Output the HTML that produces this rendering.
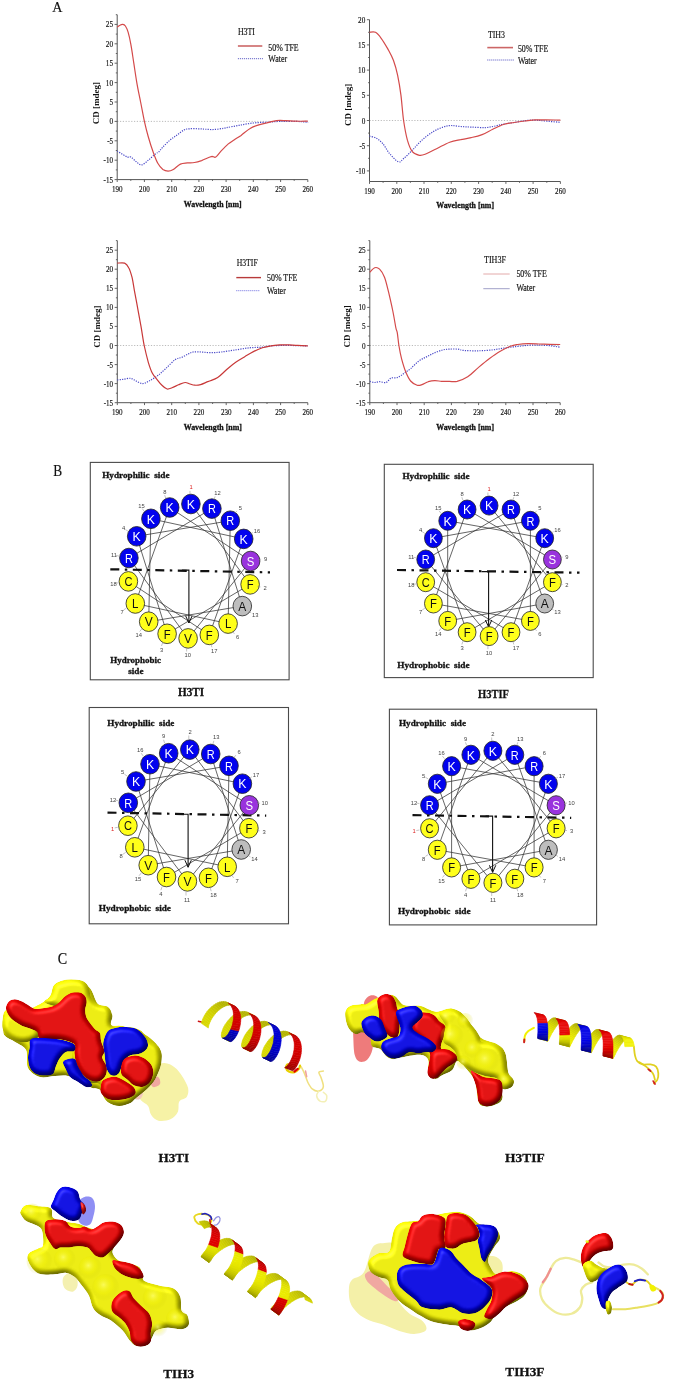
<!DOCTYPE html>
<html><head><meta charset="utf-8"><title>Figure</title>
<style>html,body{margin:0;padding:0;background:#fff;}svg{display:block;filter:blur(0.45px);}</style></head>
<body><svg width="675" height="1379" viewBox="0 0 675 1379">
<rect width="675" height="1379" fill="#fff"/>
<g font-family="'Liberation Serif','Times New Roman',serif">
<text x="52.3" y="11.8" font-size="15.0" text-anchor="start" font-weight="normal" fill="#111" textLength="10.2" lengthAdjust="spacingAndGlyphs" stroke="#111" stroke-width="0.18">A</text>
<line x1="117.2" y1="121.4" x2="307.8" y2="121.4" stroke="#aaa" stroke-width="0.8" stroke-dasharray="1.2 1.6"/>
<path d="M117.2,14.7 V179.6 H307.8" fill="none" stroke="#555" stroke-width="1"/>
<line x1="114.6" y1="179.6" x2="117.2" y2="179.6" stroke="#555" stroke-width="0.9"/>
<text x="113.0" y="182.6" font-size="8.8" text-anchor="end" font-weight="normal" fill="#151515" textLength="9.4" lengthAdjust="spacingAndGlyphs" stroke="#151515" stroke-width="0.18">-15</text>
<line x1="115.8" y1="169.9" x2="117.2" y2="169.9" stroke="#555" stroke-width="0.9"/>
<line x1="114.6" y1="160.2" x2="117.2" y2="160.2" stroke="#555" stroke-width="0.9"/>
<text x="113.0" y="163.2" font-size="8.8" text-anchor="end" font-weight="normal" fill="#151515" textLength="9.4" lengthAdjust="spacingAndGlyphs" stroke="#151515" stroke-width="0.18">-10</text>
<line x1="115.8" y1="150.5" x2="117.2" y2="150.5" stroke="#555" stroke-width="0.9"/>
<line x1="114.6" y1="140.8" x2="117.2" y2="140.8" stroke="#555" stroke-width="0.9"/>
<text x="113.0" y="143.8" font-size="8.8" text-anchor="end" font-weight="normal" fill="#151515" textLength="5.8" lengthAdjust="spacingAndGlyphs" stroke="#151515" stroke-width="0.18">-5</text>
<line x1="115.8" y1="131.1" x2="117.2" y2="131.1" stroke="#555" stroke-width="0.9"/>
<line x1="114.6" y1="121.4" x2="117.2" y2="121.4" stroke="#555" stroke-width="0.9"/>
<text x="113.0" y="124.4" font-size="8.8" text-anchor="end" font-weight="normal" fill="#151515" textLength="3.6" lengthAdjust="spacingAndGlyphs" stroke="#151515" stroke-width="0.18">0</text>
<line x1="115.8" y1="111.7" x2="117.2" y2="111.7" stroke="#555" stroke-width="0.9"/>
<line x1="114.6" y1="102.0" x2="117.2" y2="102.0" stroke="#555" stroke-width="0.9"/>
<text x="113.0" y="105.0" font-size="8.8" text-anchor="end" font-weight="normal" fill="#151515" textLength="3.6" lengthAdjust="spacingAndGlyphs" stroke="#151515" stroke-width="0.18">5</text>
<line x1="115.8" y1="92.3" x2="117.2" y2="92.3" stroke="#555" stroke-width="0.9"/>
<line x1="114.6" y1="82.6" x2="117.2" y2="82.6" stroke="#555" stroke-width="0.9"/>
<text x="113.0" y="85.6" font-size="8.8" text-anchor="end" font-weight="normal" fill="#151515" textLength="7.2" lengthAdjust="spacingAndGlyphs" stroke="#151515" stroke-width="0.18">10</text>
<line x1="115.8" y1="72.9" x2="117.2" y2="72.9" stroke="#555" stroke-width="0.9"/>
<line x1="114.6" y1="63.2" x2="117.2" y2="63.2" stroke="#555" stroke-width="0.9"/>
<text x="113.0" y="66.2" font-size="8.8" text-anchor="end" font-weight="normal" fill="#151515" textLength="7.2" lengthAdjust="spacingAndGlyphs" stroke="#151515" stroke-width="0.18">15</text>
<line x1="115.8" y1="53.5" x2="117.2" y2="53.5" stroke="#555" stroke-width="0.9"/>
<line x1="114.6" y1="43.8" x2="117.2" y2="43.8" stroke="#555" stroke-width="0.9"/>
<text x="113.0" y="46.8" font-size="8.8" text-anchor="end" font-weight="normal" fill="#151515" textLength="7.2" lengthAdjust="spacingAndGlyphs" stroke="#151515" stroke-width="0.18">20</text>
<line x1="115.8" y1="34.1" x2="117.2" y2="34.1" stroke="#555" stroke-width="0.9"/>
<line x1="114.6" y1="24.4" x2="117.2" y2="24.4" stroke="#555" stroke-width="0.9"/>
<text x="113.0" y="27.4" font-size="8.8" text-anchor="end" font-weight="normal" fill="#151515" textLength="7.2" lengthAdjust="spacingAndGlyphs" stroke="#151515" stroke-width="0.18">25</text>
<line x1="115.8" y1="14.7" x2="117.2" y2="14.7" stroke="#555" stroke-width="0.9"/>
<line x1="117.2" y1="179.6" x2="117.2" y2="182.0" stroke="#555" stroke-width="0.9"/>
<text x="117.2" y="191.6" font-size="8.8" text-anchor="middle" font-weight="normal" fill="#151515" textLength="10.6" lengthAdjust="spacingAndGlyphs" stroke="#151515" stroke-width="0.18">190</text>
<line x1="130.8" y1="179.6" x2="130.8" y2="180.9" stroke="#555" stroke-width="0.9"/>
<line x1="144.4" y1="179.6" x2="144.4" y2="182.0" stroke="#555" stroke-width="0.9"/>
<text x="144.4" y="191.6" font-size="8.8" text-anchor="middle" font-weight="normal" fill="#151515" textLength="10.6" lengthAdjust="spacingAndGlyphs" stroke="#151515" stroke-width="0.18">200</text>
<line x1="158.0" y1="179.6" x2="158.0" y2="180.9" stroke="#555" stroke-width="0.9"/>
<line x1="171.7" y1="179.6" x2="171.7" y2="182.0" stroke="#555" stroke-width="0.9"/>
<text x="171.7" y="191.6" font-size="8.8" text-anchor="middle" font-weight="normal" fill="#151515" textLength="10.6" lengthAdjust="spacingAndGlyphs" stroke="#151515" stroke-width="0.18">210</text>
<line x1="185.3" y1="179.6" x2="185.3" y2="180.9" stroke="#555" stroke-width="0.9"/>
<line x1="198.9" y1="179.6" x2="198.9" y2="182.0" stroke="#555" stroke-width="0.9"/>
<text x="198.9" y="191.6" font-size="8.8" text-anchor="middle" font-weight="normal" fill="#151515" textLength="10.6" lengthAdjust="spacingAndGlyphs" stroke="#151515" stroke-width="0.18">220</text>
<line x1="212.5" y1="179.6" x2="212.5" y2="180.9" stroke="#555" stroke-width="0.9"/>
<line x1="226.1" y1="179.6" x2="226.1" y2="182.0" stroke="#555" stroke-width="0.9"/>
<text x="226.1" y="191.6" font-size="8.8" text-anchor="middle" font-weight="normal" fill="#151515" textLength="10.6" lengthAdjust="spacingAndGlyphs" stroke="#151515" stroke-width="0.18">230</text>
<line x1="239.7" y1="179.6" x2="239.7" y2="180.9" stroke="#555" stroke-width="0.9"/>
<line x1="253.3" y1="179.6" x2="253.3" y2="182.0" stroke="#555" stroke-width="0.9"/>
<text x="253.3" y="191.6" font-size="8.8" text-anchor="middle" font-weight="normal" fill="#151515" textLength="10.6" lengthAdjust="spacingAndGlyphs" stroke="#151515" stroke-width="0.18">240</text>
<line x1="267.0" y1="179.6" x2="267.0" y2="180.9" stroke="#555" stroke-width="0.9"/>
<line x1="280.6" y1="179.6" x2="280.6" y2="182.0" stroke="#555" stroke-width="0.9"/>
<text x="280.6" y="191.6" font-size="8.8" text-anchor="middle" font-weight="normal" fill="#151515" textLength="10.6" lengthAdjust="spacingAndGlyphs" stroke="#151515" stroke-width="0.18">250</text>
<line x1="294.2" y1="179.6" x2="294.2" y2="180.9" stroke="#555" stroke-width="0.9"/>
<line x1="307.8" y1="179.6" x2="307.8" y2="182.0" stroke="#555" stroke-width="0.9"/>
<text x="307.8" y="191.6" font-size="8.8" text-anchor="middle" font-weight="normal" fill="#151515" textLength="10.6" lengthAdjust="spacingAndGlyphs" stroke="#151515" stroke-width="0.18">260</text>
<text x="183.8" y="207.2" font-size="9.0" text-anchor="start" font-weight="bold" fill="#111" textLength="57.8" lengthAdjust="spacingAndGlyphs" stroke="#111" stroke-width="0.3">Wavelength [nm]</text>
<text transform="translate(98.6,103.2) rotate(-90)" font-size="9" font-weight="bold" text-anchor="middle" fill="#111">CD [mdeg]</text>
<path d="M117.2,150.9 C118.1,151.5 120.9,153.3 122.6,154.4 C124.4,155.4 126.1,156.6 127.5,157.1 C129.0,157.5 129.6,156.3 131.1,157.1 C132.5,157.9 134.5,160.5 136.3,161.8 C138.0,163.0 139.6,165.2 141.7,164.9 C143.8,164.5 146.4,161.7 148.8,159.8 C151.1,157.9 154.2,154.9 155.9,153.6 C157.5,152.3 157.4,153.2 158.6,152.1 C159.8,151.0 161.0,149.0 162.9,147.0 C164.9,145.0 167.7,142.0 170.0,140.0 C172.4,138.0 174.7,136.7 177.1,135.0 C179.5,133.3 182.1,131.0 184.2,129.9 C186.2,128.9 187.0,129.0 189.4,128.8 C191.7,128.6 195.7,128.7 198.3,128.8 C201.0,128.8 202.8,129.0 205.4,129.2 C208.1,129.3 211.2,129.7 214.1,129.5 C217.1,129.4 221.0,128.7 223.1,128.4 C225.3,128.1 224.3,128.1 226.9,127.6 C229.6,127.1 234.8,126.1 239.2,125.3 C243.6,124.5 248.6,123.5 253.3,123.0 C258.1,122.4 263.3,122.4 267.8,122.2 C272.2,121.9 275.3,121.5 280.0,121.4 C284.7,121.3 291.6,121.3 296.1,121.4 C300.5,121.5 304.8,122.0 306.7,122.2 C308.7,122.3 307.6,122.2 307.8,122.2" fill="none" stroke="#4848c8" stroke-width="1.2" stroke-dasharray="1.2 1.2"/>
<path d="M117.2,27.1 C117.7,26.8 119.0,25.6 119.9,25.2 C120.9,24.7 122.0,24.3 122.9,24.4 C123.8,24.5 124.5,24.7 125.4,26.0 C126.2,27.2 127.2,29.1 128.1,32.2 C129.0,35.2 129.9,39.0 130.8,44.2 C131.8,49.4 132.8,56.8 133.8,63.2 C134.8,69.6 135.7,76.1 136.8,82.6 C137.9,89.1 139.3,95.5 140.6,102.0 C141.9,108.5 143.2,115.6 144.4,121.4 C145.7,127.2 146.7,131.3 148.2,136.5 C149.7,141.8 151.8,148.4 153.4,152.8 C155.0,157.3 156.2,160.5 157.8,163.3 C159.4,166.1 161.2,168.2 162.9,169.5 C164.7,170.8 166.4,171.1 168.1,171.1 C169.8,171.1 171.2,170.7 173.3,169.5 C175.3,168.3 178.0,165.2 180.4,164.1 C182.7,163.0 185.1,163.2 187.4,162.9 C189.8,162.7 192.2,162.9 194.5,162.5 C196.9,162.1 199.2,161.4 201.6,160.6 C204.0,159.7 206.9,158.2 208.7,157.5 C210.5,156.8 211.0,156.4 212.2,156.3 C213.4,156.3 214.3,158.0 215.8,157.1 C217.3,156.2 219.1,153.1 221.2,150.9 C223.3,148.7 226.2,145.7 228.3,143.9 C230.4,142.1 231.9,141.4 234.0,140.0 C236.1,138.6 238.4,137.3 241.1,135.4 C243.8,133.4 247.1,130.1 250.1,128.4 C253.0,126.6 255.8,125.9 258.8,124.9 C261.7,123.9 264.8,123.3 267.8,122.6 C270.7,121.9 273.5,120.9 276.5,120.6 C279.4,120.3 282.2,120.5 285.5,120.6 C288.7,120.7 292.4,121.1 296.1,121.2 C299.8,121.3 305.8,121.2 307.8,121.2" fill="none" stroke="#d44a4a" stroke-width="1.2"/>
<text x="237.9" y="35.0" font-size="9.5" text-anchor="start" font-weight="normal" fill="#151515" textLength="17.1" lengthAdjust="spacingAndGlyphs" stroke="#151515" stroke-width="0.18">H3TI</text>
<line x1="237.9" y1="46.0" x2="262.3" y2="46.0" stroke="#cc6666" stroke-width="1.6"/>
<line x1="237.9" y1="58.7" x2="263.9" y2="58.7" stroke="#5050c0" stroke-width="1" stroke-dasharray="1 1"/>
<text x="268.3" y="50.6" font-size="9.5" text-anchor="start" font-weight="normal" fill="#151515" textLength="30.4" lengthAdjust="spacingAndGlyphs" stroke="#151515" stroke-width="0.18">50% TFE</text>
<text x="268.3" y="62.4" font-size="9.5" text-anchor="start" font-weight="normal" fill="#151515" textLength="18.8" lengthAdjust="spacingAndGlyphs" stroke="#151515" stroke-width="0.18">Water</text>
<line x1="369.5" y1="120.5" x2="560.4" y2="120.5" stroke="#aaa" stroke-width="0.8" stroke-dasharray="1.2 1.6"/>
<path d="M369.5,19.7 V181.5 H560.4" fill="none" stroke="#555" stroke-width="1"/>
<line x1="366.9" y1="170.9" x2="369.5" y2="170.9" stroke="#555" stroke-width="0.9"/>
<text x="365.3" y="173.9" font-size="8.8" text-anchor="end" font-weight="normal" fill="#151515" textLength="9.4" lengthAdjust="spacingAndGlyphs" stroke="#151515" stroke-width="0.18">-10</text>
<line x1="368.1" y1="158.3" x2="369.5" y2="158.3" stroke="#555" stroke-width="0.9"/>
<line x1="366.9" y1="145.7" x2="369.5" y2="145.7" stroke="#555" stroke-width="0.9"/>
<text x="365.3" y="148.7" font-size="8.8" text-anchor="end" font-weight="normal" fill="#151515" textLength="5.8" lengthAdjust="spacingAndGlyphs" stroke="#151515" stroke-width="0.18">-5</text>
<line x1="368.1" y1="133.1" x2="369.5" y2="133.1" stroke="#555" stroke-width="0.9"/>
<line x1="366.9" y1="120.5" x2="369.5" y2="120.5" stroke="#555" stroke-width="0.9"/>
<text x="365.3" y="123.5" font-size="8.8" text-anchor="end" font-weight="normal" fill="#151515" textLength="3.6" lengthAdjust="spacingAndGlyphs" stroke="#151515" stroke-width="0.18">0</text>
<line x1="368.1" y1="107.9" x2="369.5" y2="107.9" stroke="#555" stroke-width="0.9"/>
<line x1="366.9" y1="95.3" x2="369.5" y2="95.3" stroke="#555" stroke-width="0.9"/>
<text x="365.3" y="98.3" font-size="8.8" text-anchor="end" font-weight="normal" fill="#151515" textLength="3.6" lengthAdjust="spacingAndGlyphs" stroke="#151515" stroke-width="0.18">5</text>
<line x1="368.1" y1="82.7" x2="369.5" y2="82.7" stroke="#555" stroke-width="0.9"/>
<line x1="366.9" y1="70.1" x2="369.5" y2="70.1" stroke="#555" stroke-width="0.9"/>
<text x="365.3" y="73.1" font-size="8.8" text-anchor="end" font-weight="normal" fill="#151515" textLength="7.2" lengthAdjust="spacingAndGlyphs" stroke="#151515" stroke-width="0.18">10</text>
<line x1="368.1" y1="57.5" x2="369.5" y2="57.5" stroke="#555" stroke-width="0.9"/>
<line x1="366.9" y1="44.9" x2="369.5" y2="44.9" stroke="#555" stroke-width="0.9"/>
<text x="365.3" y="47.9" font-size="8.8" text-anchor="end" font-weight="normal" fill="#151515" textLength="7.2" lengthAdjust="spacingAndGlyphs" stroke="#151515" stroke-width="0.18">15</text>
<line x1="368.1" y1="32.3" x2="369.5" y2="32.3" stroke="#555" stroke-width="0.9"/>
<line x1="366.9" y1="19.7" x2="369.5" y2="19.7" stroke="#555" stroke-width="0.9"/>
<text x="365.3" y="22.7" font-size="8.8" text-anchor="end" font-weight="normal" fill="#151515" textLength="7.2" lengthAdjust="spacingAndGlyphs" stroke="#151515" stroke-width="0.18">20</text>
<line x1="369.5" y1="181.5" x2="369.5" y2="183.9" stroke="#555" stroke-width="0.9"/>
<text x="369.5" y="193.5" font-size="8.8" text-anchor="middle" font-weight="normal" fill="#151515" textLength="10.6" lengthAdjust="spacingAndGlyphs" stroke="#151515" stroke-width="0.18">190</text>
<line x1="383.1" y1="181.5" x2="383.1" y2="182.8" stroke="#555" stroke-width="0.9"/>
<line x1="396.8" y1="181.5" x2="396.8" y2="183.9" stroke="#555" stroke-width="0.9"/>
<text x="396.8" y="193.5" font-size="8.8" text-anchor="middle" font-weight="normal" fill="#151515" textLength="10.6" lengthAdjust="spacingAndGlyphs" stroke="#151515" stroke-width="0.18">200</text>
<line x1="410.4" y1="181.5" x2="410.4" y2="182.8" stroke="#555" stroke-width="0.9"/>
<line x1="424.0" y1="181.5" x2="424.0" y2="183.9" stroke="#555" stroke-width="0.9"/>
<text x="424.0" y="193.5" font-size="8.8" text-anchor="middle" font-weight="normal" fill="#151515" textLength="10.6" lengthAdjust="spacingAndGlyphs" stroke="#151515" stroke-width="0.18">210</text>
<line x1="437.7" y1="181.5" x2="437.7" y2="182.8" stroke="#555" stroke-width="0.9"/>
<line x1="451.3" y1="181.5" x2="451.3" y2="183.9" stroke="#555" stroke-width="0.9"/>
<text x="451.3" y="193.5" font-size="8.8" text-anchor="middle" font-weight="normal" fill="#151515" textLength="10.6" lengthAdjust="spacingAndGlyphs" stroke="#151515" stroke-width="0.18">220</text>
<line x1="464.9" y1="181.5" x2="464.9" y2="182.8" stroke="#555" stroke-width="0.9"/>
<line x1="478.6" y1="181.5" x2="478.6" y2="183.9" stroke="#555" stroke-width="0.9"/>
<text x="478.6" y="193.5" font-size="8.8" text-anchor="middle" font-weight="normal" fill="#151515" textLength="10.6" lengthAdjust="spacingAndGlyphs" stroke="#151515" stroke-width="0.18">230</text>
<line x1="492.2" y1="181.5" x2="492.2" y2="182.8" stroke="#555" stroke-width="0.9"/>
<line x1="505.9" y1="181.5" x2="505.9" y2="183.9" stroke="#555" stroke-width="0.9"/>
<text x="505.9" y="193.5" font-size="8.8" text-anchor="middle" font-weight="normal" fill="#151515" textLength="10.6" lengthAdjust="spacingAndGlyphs" stroke="#151515" stroke-width="0.18">240</text>
<line x1="519.5" y1="181.5" x2="519.5" y2="182.8" stroke="#555" stroke-width="0.9"/>
<line x1="533.1" y1="181.5" x2="533.1" y2="183.9" stroke="#555" stroke-width="0.9"/>
<text x="533.1" y="193.5" font-size="8.8" text-anchor="middle" font-weight="normal" fill="#151515" textLength="10.6" lengthAdjust="spacingAndGlyphs" stroke="#151515" stroke-width="0.18">250</text>
<line x1="546.8" y1="181.5" x2="546.8" y2="182.8" stroke="#555" stroke-width="0.9"/>
<line x1="560.4" y1="181.5" x2="560.4" y2="183.9" stroke="#555" stroke-width="0.9"/>
<text x="560.4" y="193.5" font-size="8.8" text-anchor="middle" font-weight="normal" fill="#151515" textLength="10.6" lengthAdjust="spacingAndGlyphs" stroke="#151515" stroke-width="0.18">260</text>
<text x="436.3" y="207.6" font-size="9.0" text-anchor="start" font-weight="bold" fill="#111" textLength="57.7" lengthAdjust="spacingAndGlyphs" stroke="#111" stroke-width="0.3">Wavelength [nm]</text>
<text transform="translate(350.6,104.8) rotate(-90)" font-size="9" font-weight="bold" text-anchor="middle" fill="#111">CD [mdeg]</text>
<path d="M369.5,136.1 C370.6,136.5 374.1,136.9 376.3,138.1 C378.5,139.4 380.7,141.2 382.9,143.7 C385.0,146.2 386.8,150.2 389.4,153.3 C392.0,156.3 396.0,161.0 398.4,161.8 C400.8,162.7 401.5,160.2 403.9,158.3 C406.2,156.4 409.3,153.3 412.3,150.2 C415.3,147.2 418.4,143.3 421.9,140.2 C425.4,137.0 429.8,133.8 433.3,131.6 C436.9,129.4 440.1,128.1 443.1,127.1 C446.1,126.0 448.4,125.6 451.3,125.5 C454.2,125.5 457.3,126.3 460.6,126.5 C463.9,126.8 467.0,126.9 471.2,127.1 C475.4,127.2 481.5,127.8 485.7,127.6 C489.9,127.3 493.4,126.4 496.3,125.8 C499.3,125.2 500.4,124.6 503.4,124.0 C506.4,123.5 510.2,123.1 514.0,122.5 C517.9,121.9 522.8,120.9 526.6,120.5 C530.4,120.1 533.1,120.1 536.7,120.2 C540.2,120.4 543.9,120.9 547.9,121.3 C551.8,121.6 558.3,122.1 560.4,122.3" fill="none" stroke="#4848c8" stroke-width="1.2" stroke-dasharray="1.2 1.2"/>
<path d="M369.5,32.3 C370.5,32.3 373.5,31.3 375.5,32.3 C377.5,33.3 379.2,35.6 381.2,38.3 C383.3,41.1 385.7,45.2 387.8,48.9 C389.8,52.6 391.9,56.2 393.5,60.5 C395.1,64.9 396.4,69.4 397.6,75.1 C398.8,80.9 399.9,87.2 400.9,94.8 C401.9,102.4 402.5,112.9 403.6,120.5 C404.7,128.1 406.0,134.9 407.4,140.2 C408.9,145.4 410.3,149.2 412.3,151.7 C414.3,154.3 417.3,154.9 419.4,155.3 C421.5,155.7 422.3,155.4 425.1,154.3 C428.0,153.2 432.5,150.7 436.6,148.7 C440.7,146.7 445.7,143.7 449.7,142.2 C453.7,140.7 457.0,140.4 460.6,139.7 C464.2,138.9 467.6,138.5 471.2,137.6 C474.8,136.8 478.5,136.0 482.1,134.6 C485.7,133.2 489.2,131.0 492.8,129.3 C496.3,127.6 499.9,125.7 503.4,124.5 C506.9,123.4 510.4,123.1 514.0,122.5 C517.6,121.9 521.4,121.4 524.9,121.0 C528.5,120.6 531.8,120.1 535.3,119.9 C538.9,119.7 542.0,119.9 546.2,119.9 C550.4,119.9 558.0,120.1 560.4,120.1" fill="none" stroke="#d44a4a" stroke-width="1.2"/>
<text x="487.9" y="38.0" font-size="9.5" text-anchor="start" font-weight="normal" fill="#151515" textLength="17.1" lengthAdjust="spacingAndGlyphs" stroke="#151515" stroke-width="0.18">TIH3</text>
<line x1="487.3" y1="47.6" x2="513.0" y2="47.6" stroke="#cc6666" stroke-width="1.6"/>
<line x1="487.3" y1="60.0" x2="514.0" y2="60.0" stroke="#5050c0" stroke-width="1" stroke-dasharray="1 1"/>
<text x="517.9" y="52.0" font-size="9.5" text-anchor="start" font-weight="normal" fill="#151515" textLength="30.4" lengthAdjust="spacingAndGlyphs" stroke="#151515" stroke-width="0.18">50% TFE</text>
<text x="517.9" y="63.7" font-size="9.5" text-anchor="start" font-weight="normal" fill="#151515" textLength="18.8" lengthAdjust="spacingAndGlyphs" stroke="#151515" stroke-width="0.18">Water</text>
<line x1="117.3" y1="345.5" x2="307.8" y2="345.5" stroke="#aaa" stroke-width="0.8" stroke-dasharray="1.2 1.6"/>
<path d="M117.3,240.6 V402.7 H307.8" fill="none" stroke="#555" stroke-width="1"/>
<line x1="114.7" y1="402.7" x2="117.3" y2="402.7" stroke="#555" stroke-width="0.9"/>
<text x="113.1" y="405.7" font-size="8.8" text-anchor="end" font-weight="normal" fill="#151515" textLength="9.4" lengthAdjust="spacingAndGlyphs" stroke="#151515" stroke-width="0.18">-15</text>
<line x1="115.9" y1="393.2" x2="117.3" y2="393.2" stroke="#555" stroke-width="0.9"/>
<line x1="114.7" y1="383.6" x2="117.3" y2="383.6" stroke="#555" stroke-width="0.9"/>
<text x="113.1" y="386.6" font-size="8.8" text-anchor="end" font-weight="normal" fill="#151515" textLength="9.4" lengthAdjust="spacingAndGlyphs" stroke="#151515" stroke-width="0.18">-10</text>
<line x1="115.9" y1="374.1" x2="117.3" y2="374.1" stroke="#555" stroke-width="0.9"/>
<line x1="114.7" y1="364.6" x2="117.3" y2="364.6" stroke="#555" stroke-width="0.9"/>
<text x="113.1" y="367.6" font-size="8.8" text-anchor="end" font-weight="normal" fill="#151515" textLength="5.8" lengthAdjust="spacingAndGlyphs" stroke="#151515" stroke-width="0.18">-5</text>
<line x1="115.9" y1="355.0" x2="117.3" y2="355.0" stroke="#555" stroke-width="0.9"/>
<line x1="114.7" y1="345.5" x2="117.3" y2="345.5" stroke="#555" stroke-width="0.9"/>
<text x="113.1" y="348.5" font-size="8.8" text-anchor="end" font-weight="normal" fill="#151515" textLength="3.6" lengthAdjust="spacingAndGlyphs" stroke="#151515" stroke-width="0.18">0</text>
<line x1="115.9" y1="336.0" x2="117.3" y2="336.0" stroke="#555" stroke-width="0.9"/>
<line x1="114.7" y1="326.4" x2="117.3" y2="326.4" stroke="#555" stroke-width="0.9"/>
<text x="113.1" y="329.4" font-size="8.8" text-anchor="end" font-weight="normal" fill="#151515" textLength="3.6" lengthAdjust="spacingAndGlyphs" stroke="#151515" stroke-width="0.18">5</text>
<line x1="115.9" y1="316.9" x2="117.3" y2="316.9" stroke="#555" stroke-width="0.9"/>
<line x1="114.7" y1="307.4" x2="117.3" y2="307.4" stroke="#555" stroke-width="0.9"/>
<text x="113.1" y="310.4" font-size="8.8" text-anchor="end" font-weight="normal" fill="#151515" textLength="7.2" lengthAdjust="spacingAndGlyphs" stroke="#151515" stroke-width="0.18">10</text>
<line x1="115.9" y1="297.8" x2="117.3" y2="297.8" stroke="#555" stroke-width="0.9"/>
<line x1="114.7" y1="288.3" x2="117.3" y2="288.3" stroke="#555" stroke-width="0.9"/>
<text x="113.1" y="291.3" font-size="8.8" text-anchor="end" font-weight="normal" fill="#151515" textLength="7.2" lengthAdjust="spacingAndGlyphs" stroke="#151515" stroke-width="0.18">15</text>
<line x1="115.9" y1="278.8" x2="117.3" y2="278.8" stroke="#555" stroke-width="0.9"/>
<line x1="114.7" y1="269.2" x2="117.3" y2="269.2" stroke="#555" stroke-width="0.9"/>
<text x="113.1" y="272.2" font-size="8.8" text-anchor="end" font-weight="normal" fill="#151515" textLength="7.2" lengthAdjust="spacingAndGlyphs" stroke="#151515" stroke-width="0.18">20</text>
<line x1="115.9" y1="259.7" x2="117.3" y2="259.7" stroke="#555" stroke-width="0.9"/>
<line x1="114.7" y1="250.2" x2="117.3" y2="250.2" stroke="#555" stroke-width="0.9"/>
<text x="113.1" y="253.2" font-size="8.8" text-anchor="end" font-weight="normal" fill="#151515" textLength="7.2" lengthAdjust="spacingAndGlyphs" stroke="#151515" stroke-width="0.18">25</text>
<line x1="115.9" y1="240.6" x2="117.3" y2="240.6" stroke="#555" stroke-width="0.9"/>
<line x1="117.3" y1="402.7" x2="117.3" y2="405.1" stroke="#555" stroke-width="0.9"/>
<text x="117.3" y="414.7" font-size="8.8" text-anchor="middle" font-weight="normal" fill="#151515" textLength="10.6" lengthAdjust="spacingAndGlyphs" stroke="#151515" stroke-width="0.18">190</text>
<line x1="130.9" y1="402.7" x2="130.9" y2="404.0" stroke="#555" stroke-width="0.9"/>
<line x1="144.5" y1="402.7" x2="144.5" y2="405.1" stroke="#555" stroke-width="0.9"/>
<text x="144.5" y="414.7" font-size="8.8" text-anchor="middle" font-weight="normal" fill="#151515" textLength="10.6" lengthAdjust="spacingAndGlyphs" stroke="#151515" stroke-width="0.18">200</text>
<line x1="158.1" y1="402.7" x2="158.1" y2="404.0" stroke="#555" stroke-width="0.9"/>
<line x1="171.7" y1="402.7" x2="171.7" y2="405.1" stroke="#555" stroke-width="0.9"/>
<text x="171.7" y="414.7" font-size="8.8" text-anchor="middle" font-weight="normal" fill="#151515" textLength="10.6" lengthAdjust="spacingAndGlyphs" stroke="#151515" stroke-width="0.18">210</text>
<line x1="185.3" y1="402.7" x2="185.3" y2="404.0" stroke="#555" stroke-width="0.9"/>
<line x1="198.9" y1="402.7" x2="198.9" y2="405.1" stroke="#555" stroke-width="0.9"/>
<text x="198.9" y="414.7" font-size="8.8" text-anchor="middle" font-weight="normal" fill="#151515" textLength="10.6" lengthAdjust="spacingAndGlyphs" stroke="#151515" stroke-width="0.18">220</text>
<line x1="212.6" y1="402.7" x2="212.6" y2="404.0" stroke="#555" stroke-width="0.9"/>
<line x1="226.2" y1="402.7" x2="226.2" y2="405.1" stroke="#555" stroke-width="0.9"/>
<text x="226.2" y="414.7" font-size="8.8" text-anchor="middle" font-weight="normal" fill="#151515" textLength="10.6" lengthAdjust="spacingAndGlyphs" stroke="#151515" stroke-width="0.18">230</text>
<line x1="239.8" y1="402.7" x2="239.8" y2="404.0" stroke="#555" stroke-width="0.9"/>
<line x1="253.4" y1="402.7" x2="253.4" y2="405.1" stroke="#555" stroke-width="0.9"/>
<text x="253.4" y="414.7" font-size="8.8" text-anchor="middle" font-weight="normal" fill="#151515" textLength="10.6" lengthAdjust="spacingAndGlyphs" stroke="#151515" stroke-width="0.18">240</text>
<line x1="267.0" y1="402.7" x2="267.0" y2="404.0" stroke="#555" stroke-width="0.9"/>
<line x1="280.6" y1="402.7" x2="280.6" y2="405.1" stroke="#555" stroke-width="0.9"/>
<text x="280.6" y="414.7" font-size="8.8" text-anchor="middle" font-weight="normal" fill="#151515" textLength="10.6" lengthAdjust="spacingAndGlyphs" stroke="#151515" stroke-width="0.18">250</text>
<line x1="294.2" y1="402.7" x2="294.2" y2="404.0" stroke="#555" stroke-width="0.9"/>
<line x1="307.8" y1="402.7" x2="307.8" y2="405.1" stroke="#555" stroke-width="0.9"/>
<text x="307.8" y="414.7" font-size="8.8" text-anchor="middle" font-weight="normal" fill="#151515" textLength="10.6" lengthAdjust="spacingAndGlyphs" stroke="#151515" stroke-width="0.18">260</text>
<text x="183.7" y="430.3" font-size="9.0" text-anchor="start" font-weight="bold" fill="#111" textLength="58.2" lengthAdjust="spacingAndGlyphs" stroke="#111" stroke-width="0.3">Wavelength [nm]</text>
<text transform="translate(99.6,326.5) rotate(-90)" font-size="9" font-weight="bold" text-anchor="middle" fill="#111">CD [mdeg]</text>
<path d="M117.3,379.8 C118.3,379.8 120.8,379.7 123.0,379.4 C125.2,379.2 128.2,378.0 130.4,378.3 C132.5,378.6 134.0,380.1 136.1,381.0 C138.1,381.9 140.4,383.6 142.6,383.6 C144.8,383.6 146.7,382.2 149.1,381.0 C151.6,379.7 154.6,378.0 157.3,376.0 C160.0,374.0 162.5,371.5 165.5,368.8 C168.5,366.0 172.5,361.5 175.3,359.6 C178.0,357.7 179.6,358.3 181.8,357.3 C184.0,356.4 186.4,354.8 188.3,353.9 C190.2,353.0 191.1,352.3 193.2,352.0 C195.4,351.7 198.5,351.9 201.4,352.0 C204.3,352.1 207.3,352.7 210.6,352.7 C214.0,352.7 217.1,352.5 221.3,352.0 C225.4,351.5 230.9,350.6 235.7,349.9 C240.4,349.2 245.4,348.2 249.8,347.8 C254.3,347.3 258.8,347.5 262.4,347.2 C265.9,346.9 268.1,346.2 271.1,345.9 C274.0,345.6 276.6,345.6 280.0,345.5 C283.5,345.4 287.1,345.4 291.7,345.5 C296.4,345.6 305.1,345.8 307.8,345.9" fill="none" stroke="#4848c8" stroke-width="1.2" stroke-dasharray="1.2 1.2"/>
<path d="M117.3,263.1 C118.5,263.1 122.7,262.4 124.6,263.1 C126.6,263.9 127.5,265.3 128.7,267.7 C130.0,270.0 131.0,273.4 132.0,277.2 C132.9,281.0 133.5,285.4 134.4,290.6 C135.4,295.8 136.6,302.3 137.7,308.3 C138.8,314.3 139.9,320.2 141.0,326.4 C142.1,332.6 143.0,339.5 144.2,345.5 C145.5,351.5 147.0,357.6 148.3,362.3 C149.7,366.9 150.9,370.4 152.4,373.3 C153.9,376.3 155.7,377.8 157.3,379.8 C158.9,381.9 160.6,384.0 162.2,385.5 C163.8,387.1 165.5,388.6 167.1,389.0 C168.7,389.4 170.1,388.5 172.0,387.8 C173.9,387.1 176.4,385.7 178.5,384.8 C180.7,383.9 183.2,382.6 185.1,382.5 C187.0,382.4 188.3,383.6 190.0,384.0 C191.6,384.5 193.1,385.1 194.9,385.2 C196.6,385.3 198.3,385.2 200.6,384.6 C202.8,384.0 205.6,382.5 208.5,381.4 C211.3,380.2 214.7,379.5 217.7,377.5 C220.8,375.6 223.7,372.1 226.7,369.5 C229.7,367.0 232.7,364.4 235.7,362.3 C238.6,360.2 241.4,358.7 244.4,356.9 C247.3,355.2 250.4,353.1 253.4,351.6 C256.4,350.1 259.4,348.8 262.4,347.8 C265.3,346.8 268.1,346.3 271.1,345.8 C274.0,345.3 277.1,345.1 280.0,344.9 C283.0,344.8 285.8,344.9 288.8,344.9 C291.7,345.0 294.6,345.2 297.7,345.3 C300.9,345.5 306.1,345.8 307.8,345.9" fill="none" stroke="#c83838" stroke-width="1.2"/>
<text x="236.7" y="265.7" font-size="9.5" text-anchor="start" font-weight="normal" fill="#151515" textLength="21.0" lengthAdjust="spacingAndGlyphs" stroke="#151515" stroke-width="0.18">H3TIF</text>
<line x1="236.3" y1="277.6" x2="261.0" y2="277.6" stroke="#b83a3a" stroke-width="1.4"/>
<line x1="236.3" y1="290.7" x2="260.3" y2="290.7" stroke="#6a6ae0" stroke-width="1" stroke-dasharray="1 1"/>
<text x="267.0" y="281.0" font-size="9.5" text-anchor="start" font-weight="normal" fill="#151515" textLength="30.4" lengthAdjust="spacingAndGlyphs" stroke="#151515" stroke-width="0.18">50% TFE</text>
<text x="267.0" y="294.0" font-size="9.5" text-anchor="start" font-weight="normal" fill="#151515" textLength="18.8" lengthAdjust="spacingAndGlyphs" stroke="#151515" stroke-width="0.18">Water</text>
<line x1="369.8" y1="345.5" x2="560.2" y2="345.5" stroke="#aaa" stroke-width="0.8" stroke-dasharray="1.2 1.6"/>
<path d="M369.8,240.6 V402.7 H560.2" fill="none" stroke="#555" stroke-width="1"/>
<line x1="367.2" y1="402.7" x2="369.8" y2="402.7" stroke="#555" stroke-width="0.9"/>
<text x="365.6" y="405.7" font-size="8.8" text-anchor="end" font-weight="normal" fill="#151515" textLength="9.4" lengthAdjust="spacingAndGlyphs" stroke="#151515" stroke-width="0.18">-15</text>
<line x1="368.4" y1="393.2" x2="369.8" y2="393.2" stroke="#555" stroke-width="0.9"/>
<line x1="367.2" y1="383.6" x2="369.8" y2="383.6" stroke="#555" stroke-width="0.9"/>
<text x="365.6" y="386.6" font-size="8.8" text-anchor="end" font-weight="normal" fill="#151515" textLength="9.4" lengthAdjust="spacingAndGlyphs" stroke="#151515" stroke-width="0.18">-10</text>
<line x1="368.4" y1="374.1" x2="369.8" y2="374.1" stroke="#555" stroke-width="0.9"/>
<line x1="367.2" y1="364.6" x2="369.8" y2="364.6" stroke="#555" stroke-width="0.9"/>
<text x="365.6" y="367.6" font-size="8.8" text-anchor="end" font-weight="normal" fill="#151515" textLength="5.8" lengthAdjust="spacingAndGlyphs" stroke="#151515" stroke-width="0.18">-5</text>
<line x1="368.4" y1="355.0" x2="369.8" y2="355.0" stroke="#555" stroke-width="0.9"/>
<line x1="367.2" y1="345.5" x2="369.8" y2="345.5" stroke="#555" stroke-width="0.9"/>
<text x="365.6" y="348.5" font-size="8.8" text-anchor="end" font-weight="normal" fill="#151515" textLength="3.6" lengthAdjust="spacingAndGlyphs" stroke="#151515" stroke-width="0.18">0</text>
<line x1="368.4" y1="336.0" x2="369.8" y2="336.0" stroke="#555" stroke-width="0.9"/>
<line x1="367.2" y1="326.4" x2="369.8" y2="326.4" stroke="#555" stroke-width="0.9"/>
<text x="365.6" y="329.4" font-size="8.8" text-anchor="end" font-weight="normal" fill="#151515" textLength="3.6" lengthAdjust="spacingAndGlyphs" stroke="#151515" stroke-width="0.18">5</text>
<line x1="368.4" y1="316.9" x2="369.8" y2="316.9" stroke="#555" stroke-width="0.9"/>
<line x1="367.2" y1="307.4" x2="369.8" y2="307.4" stroke="#555" stroke-width="0.9"/>
<text x="365.6" y="310.4" font-size="8.8" text-anchor="end" font-weight="normal" fill="#151515" textLength="7.2" lengthAdjust="spacingAndGlyphs" stroke="#151515" stroke-width="0.18">10</text>
<line x1="368.4" y1="297.8" x2="369.8" y2="297.8" stroke="#555" stroke-width="0.9"/>
<line x1="367.2" y1="288.3" x2="369.8" y2="288.3" stroke="#555" stroke-width="0.9"/>
<text x="365.6" y="291.3" font-size="8.8" text-anchor="end" font-weight="normal" fill="#151515" textLength="7.2" lengthAdjust="spacingAndGlyphs" stroke="#151515" stroke-width="0.18">15</text>
<line x1="368.4" y1="278.8" x2="369.8" y2="278.8" stroke="#555" stroke-width="0.9"/>
<line x1="367.2" y1="269.2" x2="369.8" y2="269.2" stroke="#555" stroke-width="0.9"/>
<text x="365.6" y="272.2" font-size="8.8" text-anchor="end" font-weight="normal" fill="#151515" textLength="7.2" lengthAdjust="spacingAndGlyphs" stroke="#151515" stroke-width="0.18">20</text>
<line x1="368.4" y1="259.7" x2="369.8" y2="259.7" stroke="#555" stroke-width="0.9"/>
<line x1="367.2" y1="250.2" x2="369.8" y2="250.2" stroke="#555" stroke-width="0.9"/>
<text x="365.6" y="253.2" font-size="8.8" text-anchor="end" font-weight="normal" fill="#151515" textLength="7.2" lengthAdjust="spacingAndGlyphs" stroke="#151515" stroke-width="0.18">25</text>
<line x1="368.4" y1="240.6" x2="369.8" y2="240.6" stroke="#555" stroke-width="0.9"/>
<line x1="369.8" y1="402.7" x2="369.8" y2="405.1" stroke="#555" stroke-width="0.9"/>
<text x="369.8" y="414.7" font-size="8.8" text-anchor="middle" font-weight="normal" fill="#151515" textLength="10.6" lengthAdjust="spacingAndGlyphs" stroke="#151515" stroke-width="0.18">190</text>
<line x1="383.4" y1="402.7" x2="383.4" y2="404.0" stroke="#555" stroke-width="0.9"/>
<line x1="397.0" y1="402.7" x2="397.0" y2="405.1" stroke="#555" stroke-width="0.9"/>
<text x="397.0" y="414.7" font-size="8.8" text-anchor="middle" font-weight="normal" fill="#151515" textLength="10.6" lengthAdjust="spacingAndGlyphs" stroke="#151515" stroke-width="0.18">200</text>
<line x1="410.6" y1="402.7" x2="410.6" y2="404.0" stroke="#555" stroke-width="0.9"/>
<line x1="424.2" y1="402.7" x2="424.2" y2="405.1" stroke="#555" stroke-width="0.9"/>
<text x="424.2" y="414.7" font-size="8.8" text-anchor="middle" font-weight="normal" fill="#151515" textLength="10.6" lengthAdjust="spacingAndGlyphs" stroke="#151515" stroke-width="0.18">210</text>
<line x1="437.8" y1="402.7" x2="437.8" y2="404.0" stroke="#555" stroke-width="0.9"/>
<line x1="451.4" y1="402.7" x2="451.4" y2="405.1" stroke="#555" stroke-width="0.9"/>
<text x="451.4" y="414.7" font-size="8.8" text-anchor="middle" font-weight="normal" fill="#151515" textLength="10.6" lengthAdjust="spacingAndGlyphs" stroke="#151515" stroke-width="0.18">220</text>
<line x1="465.0" y1="402.7" x2="465.0" y2="404.0" stroke="#555" stroke-width="0.9"/>
<line x1="478.6" y1="402.7" x2="478.6" y2="405.1" stroke="#555" stroke-width="0.9"/>
<text x="478.6" y="414.7" font-size="8.8" text-anchor="middle" font-weight="normal" fill="#151515" textLength="10.6" lengthAdjust="spacingAndGlyphs" stroke="#151515" stroke-width="0.18">230</text>
<line x1="492.2" y1="402.7" x2="492.2" y2="404.0" stroke="#555" stroke-width="0.9"/>
<line x1="505.8" y1="402.7" x2="505.8" y2="405.1" stroke="#555" stroke-width="0.9"/>
<text x="505.8" y="414.7" font-size="8.8" text-anchor="middle" font-weight="normal" fill="#151515" textLength="10.6" lengthAdjust="spacingAndGlyphs" stroke="#151515" stroke-width="0.18">240</text>
<line x1="519.4" y1="402.7" x2="519.4" y2="404.0" stroke="#555" stroke-width="0.9"/>
<line x1="533.0" y1="402.7" x2="533.0" y2="405.1" stroke="#555" stroke-width="0.9"/>
<text x="533.0" y="414.7" font-size="8.8" text-anchor="middle" font-weight="normal" fill="#151515" textLength="10.6" lengthAdjust="spacingAndGlyphs" stroke="#151515" stroke-width="0.18">250</text>
<line x1="546.6" y1="402.7" x2="546.6" y2="404.0" stroke="#555" stroke-width="0.9"/>
<line x1="560.2" y1="402.7" x2="560.2" y2="405.1" stroke="#555" stroke-width="0.9"/>
<text x="560.2" y="414.7" font-size="8.8" text-anchor="middle" font-weight="normal" fill="#151515" textLength="10.6" lengthAdjust="spacingAndGlyphs" stroke="#151515" stroke-width="0.18">260</text>
<text x="436.3" y="430.3" font-size="9.0" text-anchor="start" font-weight="bold" fill="#111" textLength="57.7" lengthAdjust="spacingAndGlyphs" stroke="#111" stroke-width="0.3">Wavelength [nm]</text>
<text transform="translate(350.2,326.3) rotate(-90)" font-size="9" font-weight="bold" text-anchor="middle" fill="#111">CD [mdeg]</text>
<path d="M369.8,381.4 C370.6,381.5 373.1,382.4 374.7,382.5 C376.3,382.6 377.7,381.7 379.6,381.7 C381.5,381.7 384.2,383.1 386.1,382.5 C388.0,381.9 389.1,378.9 391.0,378.1 C392.9,377.3 395.4,378.3 397.5,377.5 C399.7,376.7 401.9,374.8 404.1,373.3 C406.2,371.8 408.2,370.6 410.6,368.6 C413.0,366.5 416.0,363.1 418.8,361.1 C421.5,359.1 424.2,358.0 426.9,356.6 C429.6,355.2 432.1,353.9 434.8,352.7 C437.5,351.6 440.5,350.5 443.0,349.9 C445.4,349.3 447.1,349.3 449.5,349.1 C451.9,349.0 454.9,348.9 457.4,349.1 C459.8,349.3 460.7,350.2 464.2,350.5 C467.7,350.7 473.6,350.9 478.3,350.8 C483.1,350.7 488.6,350.3 492.7,349.9 C496.9,349.4 499.8,348.7 503.4,348.2 C506.9,347.7 509.8,347.3 514.0,346.8 C518.1,346.4 524.0,345.6 528.1,345.3 C532.2,345.0 535.1,345.1 538.7,345.1 C542.3,345.2 546.0,345.3 549.6,345.7 C553.2,346.0 558.4,347.0 560.2,347.2" fill="none" stroke="#4848c8" stroke-width="1.2" stroke-dasharray="1.2 1.2"/>
<path d="M369.8,272.3 C370.6,271.5 373.1,268.2 374.7,267.7 C376.3,267.2 378.0,267.6 379.6,269.2 C381.2,270.8 383.0,273.4 384.5,277.2 C386.0,281.0 387.2,286.6 388.6,292.1 C389.9,297.6 391.4,304.1 392.6,310.0 C393.9,316.0 395.1,324.1 395.9,328.0 C396.7,331.8 396.8,330.0 397.3,332.9 C397.8,335.8 398.2,341.2 398.9,345.5 C399.6,349.8 400.5,354.5 401.6,358.8 C402.8,363.2 404.2,368.1 405.7,371.8 C407.2,375.5 408.7,378.7 410.6,381.0 C412.5,383.2 415.2,384.6 417.1,385.2 C419.0,385.8 420.2,385.2 422.0,384.6 C423.9,384.0 426.1,382.4 428.3,381.7 C430.4,381.1 432.6,380.7 434.8,380.6 C437.0,380.5 439.2,381.2 441.6,381.4 C444.1,381.5 446.9,381.4 449.5,381.4 C452.1,381.4 454.1,382.1 457.1,381.4 C460.1,380.6 464.2,379.1 467.7,376.8 C471.3,374.5 474.7,370.6 478.3,367.6 C481.9,364.6 485.6,361.5 489.2,358.8 C492.8,356.2 496.3,353.7 499.8,351.6 C503.4,349.5 507.5,347.4 510.4,346.3 C513.4,345.1 514.5,345.0 517.5,344.5 C520.4,344.1 524.6,343.7 528.1,343.6 C531.6,343.5 535.1,343.8 538.7,344.0 C542.3,344.1 546.0,344.3 549.6,344.4 C553.2,344.5 558.4,344.5 560.2,344.5" fill="none" stroke="#d44a4a" stroke-width="1.2"/>
<text x="484.0" y="262.7" font-size="9.5" text-anchor="start" font-weight="normal" fill="#151515" textLength="22.0" lengthAdjust="spacingAndGlyphs" stroke="#151515" stroke-width="0.18">TIH3F</text>
<line x1="483.3" y1="274.0" x2="509.7" y2="274.0" stroke="#e0a0a0" stroke-width="0.9"/>
<line x1="483.3" y1="288.7" x2="509.7" y2="288.7" stroke="#a0a0c8" stroke-width="1" stroke-dasharray="none"/>
<text x="516.4" y="277.3" font-size="9.5" text-anchor="start" font-weight="normal" fill="#151515" textLength="30.4" lengthAdjust="spacingAndGlyphs" stroke="#151515" stroke-width="0.18">50% TFE</text>
<text x="516.4" y="290.7" font-size="9.5" text-anchor="start" font-weight="normal" fill="#151515" textLength="18.8" lengthAdjust="spacingAndGlyphs" stroke="#151515" stroke-width="0.18">Water</text>
</g>
<g font-family="'Liberation Serif','Times New Roman',serif">
<text x="53.3" y="475.9" font-size="16.0" text-anchor="start" font-weight="normal" fill="#111" textLength="8.9" lengthAdjust="spacingAndGlyphs" stroke="#111" stroke-width="0.18">B</text>
<rect x="90.3" y="462.4" width="198.8" height="217.4" fill="none" stroke="#4a4a4a" stroke-width="1.1"/>
<path d="M190.9,504.0 L250.1,584.4 L167.1,633.8 L136.7,536.3 L230.3,520.7 L228.1,623.6 L135.3,603.5 L169.7,507.5 L250.6,561.0 L188.1,638.4 L128.9,558.0 L211.9,508.6 L242.3,606.1 L148.7,621.7 L150.9,518.8 L243.7,538.9 L209.3,634.9 L128.4,581.4" fill="none" stroke="#333" stroke-width="0.75"/>
<line x1="110.3" y1="569.3" x2="270.0" y2="572.4" stroke="#111" stroke-width="2.2" stroke-dasharray="9 5.5 2.5 5.5"/>
<path d="M181.9,570.1 H188.9 V623.0" fill="none" stroke="#111" stroke-width="1.1"/>
<path d="M185.7,616.0 L188.9,623.0 L192.1,616.0" fill="none" stroke="#111" stroke-width="1"/>
<ellipse cx="190.9" cy="504.0" rx="9.3" ry="9.8" fill="#0202ee" stroke="#222" stroke-width="0.8"/>
<text x="190.9" y="508.7" font-family="'Liberation Sans',Arial,sans-serif" font-size="13" text-anchor="middle" fill="#ffffff" textLength="8.2" lengthAdjust="spacingAndGlyphs">K</text>
<ellipse cx="250.1" cy="584.4" rx="9.3" ry="9.8" fill="#ffff1a" stroke="#222" stroke-width="0.8"/>
<text x="250.1" y="589.1" font-family="'Liberation Sans',Arial,sans-serif" font-size="13" text-anchor="middle" fill="#111111" textLength="6.9" lengthAdjust="spacingAndGlyphs">F</text>
<ellipse cx="167.1" cy="633.8" rx="9.3" ry="9.8" fill="#ffff1a" stroke="#222" stroke-width="0.8"/>
<text x="167.1" y="638.5" font-family="'Liberation Sans',Arial,sans-serif" font-size="13" text-anchor="middle" fill="#111111" textLength="6.9" lengthAdjust="spacingAndGlyphs">F</text>
<ellipse cx="136.7" cy="536.3" rx="9.3" ry="9.8" fill="#0202ee" stroke="#222" stroke-width="0.8"/>
<text x="136.7" y="541.0" font-family="'Liberation Sans',Arial,sans-serif" font-size="13" text-anchor="middle" fill="#ffffff" textLength="8.2" lengthAdjust="spacingAndGlyphs">K</text>
<ellipse cx="230.3" cy="520.7" rx="9.3" ry="9.8" fill="#0202ee" stroke="#222" stroke-width="0.8"/>
<text x="230.3" y="525.4" font-family="'Liberation Sans',Arial,sans-serif" font-size="13" text-anchor="middle" fill="#ffffff" textLength="7.9" lengthAdjust="spacingAndGlyphs">R</text>
<ellipse cx="228.1" cy="623.6" rx="9.3" ry="9.8" fill="#ffff1a" stroke="#222" stroke-width="0.8"/>
<text x="228.1" y="628.3" font-family="'Liberation Sans',Arial,sans-serif" font-size="13" text-anchor="middle" fill="#111111" textLength="6.4" lengthAdjust="spacingAndGlyphs">L</text>
<ellipse cx="135.3" cy="603.5" rx="9.3" ry="9.8" fill="#ffff1a" stroke="#222" stroke-width="0.8"/>
<text x="135.3" y="608.2" font-family="'Liberation Sans',Arial,sans-serif" font-size="13" text-anchor="middle" fill="#111111" textLength="6.4" lengthAdjust="spacingAndGlyphs">L</text>
<ellipse cx="169.7" cy="507.5" rx="9.3" ry="9.8" fill="#0202ee" stroke="#222" stroke-width="0.8"/>
<text x="169.7" y="512.2" font-family="'Liberation Sans',Arial,sans-serif" font-size="13" text-anchor="middle" fill="#ffffff" textLength="8.2" lengthAdjust="spacingAndGlyphs">K</text>
<ellipse cx="250.6" cy="561.0" rx="9.3" ry="9.8" fill="#9933dd" stroke="#222" stroke-width="0.8"/>
<text x="250.6" y="565.7" font-family="'Liberation Sans',Arial,sans-serif" font-size="13" text-anchor="middle" fill="#ffffff" textLength="7.6" lengthAdjust="spacingAndGlyphs">S</text>
<ellipse cx="188.1" cy="638.4" rx="9.3" ry="9.8" fill="#ffff1a" stroke="#222" stroke-width="0.8"/>
<text x="188.1" y="643.1" font-family="'Liberation Sans',Arial,sans-serif" font-size="13" text-anchor="middle" fill="#111111" textLength="8.0" lengthAdjust="spacingAndGlyphs">V</text>
<ellipse cx="128.9" cy="558.0" rx="9.3" ry="9.8" fill="#0202ee" stroke="#222" stroke-width="0.8"/>
<text x="128.9" y="562.7" font-family="'Liberation Sans',Arial,sans-serif" font-size="13" text-anchor="middle" fill="#ffffff" textLength="7.9" lengthAdjust="spacingAndGlyphs">R</text>
<ellipse cx="211.9" cy="508.6" rx="9.3" ry="9.8" fill="#0202ee" stroke="#222" stroke-width="0.8"/>
<text x="211.9" y="513.3" font-family="'Liberation Sans',Arial,sans-serif" font-size="13" text-anchor="middle" fill="#ffffff" textLength="7.9" lengthAdjust="spacingAndGlyphs">R</text>
<ellipse cx="242.3" cy="606.1" rx="9.3" ry="9.8" fill="#bdbdbd" stroke="#222" stroke-width="0.8"/>
<text x="242.3" y="610.8" font-family="'Liberation Sans',Arial,sans-serif" font-size="13" text-anchor="middle" fill="#111111" textLength="8.0" lengthAdjust="spacingAndGlyphs">A</text>
<ellipse cx="148.7" cy="621.7" rx="9.3" ry="9.8" fill="#ffff1a" stroke="#222" stroke-width="0.8"/>
<text x="148.7" y="626.4" font-family="'Liberation Sans',Arial,sans-serif" font-size="13" text-anchor="middle" fill="#111111" textLength="8.0" lengthAdjust="spacingAndGlyphs">V</text>
<ellipse cx="150.9" cy="518.8" rx="9.3" ry="9.8" fill="#0202ee" stroke="#222" stroke-width="0.8"/>
<text x="150.9" y="523.5" font-family="'Liberation Sans',Arial,sans-serif" font-size="13" text-anchor="middle" fill="#ffffff" textLength="8.2" lengthAdjust="spacingAndGlyphs">K</text>
<ellipse cx="243.7" cy="538.9" rx="9.3" ry="9.8" fill="#0202ee" stroke="#222" stroke-width="0.8"/>
<text x="243.7" y="543.6" font-family="'Liberation Sans',Arial,sans-serif" font-size="13" text-anchor="middle" fill="#ffffff" textLength="8.2" lengthAdjust="spacingAndGlyphs">K</text>
<ellipse cx="209.3" cy="634.9" rx="9.3" ry="9.8" fill="#ffff1a" stroke="#222" stroke-width="0.8"/>
<text x="209.3" y="639.6" font-family="'Liberation Sans',Arial,sans-serif" font-size="13" text-anchor="middle" fill="#111111" textLength="6.9" lengthAdjust="spacingAndGlyphs">F</text>
<ellipse cx="128.4" cy="581.4" rx="9.3" ry="9.8" fill="#ffff1a" stroke="#222" stroke-width="0.8"/>
<text x="128.4" y="586.1" font-family="'Liberation Sans',Arial,sans-serif" font-size="13" text-anchor="middle" fill="#111111" textLength="8.0" lengthAdjust="spacingAndGlyphs">C</text>
<line x1="190.0" y1="490.9" x2="189.9" y2="494.3" stroke="#888" stroke-width="0.5"/>
<text x="191.2" y="489.4" font-family="'Liberation Sans',Arial,sans-serif" font-size="5.8" text-anchor="middle" fill="#dd2222">1</text>
<line x1="260.5" y1="586.9" x2="257.5" y2="586.3" stroke="#888" stroke-width="0.5"/>
<text x="265.0" y="589.9" font-family="'Liberation Sans',Arial,sans-serif" font-size="5.8" text-anchor="middle" fill="#444">2</text>
<line x1="161.5" y1="646.0" x2="162.6" y2="642.9" stroke="#888" stroke-width="0.5"/>
<text x="161.5" y="651.7" font-family="'Liberation Sans',Arial,sans-serif" font-size="5.8" text-anchor="middle" fill="#444">3</text>
<line x1="125.4" y1="529.5" x2="128.0" y2="531.2" stroke="#888" stroke-width="0.5"/>
<text x="123.7" y="529.8" font-family="'Liberation Sans',Arial,sans-serif" font-size="5.8" text-anchor="middle" fill="#444">4</text>
<line x1="236.9" y1="510.9" x2="234.9" y2="513.4" stroke="#888" stroke-width="0.5"/>
<text x="240.3" y="510.3" font-family="'Liberation Sans',Arial,sans-serif" font-size="5.8" text-anchor="middle" fill="#444">5</text>
<line x1="234.4" y1="633.9" x2="232.5" y2="631.2" stroke="#888" stroke-width="0.5"/>
<text x="237.6" y="639.0" font-family="'Liberation Sans',Arial,sans-serif" font-size="5.8" text-anchor="middle" fill="#444">6</text>
<line x1="123.7" y1="609.8" x2="126.4" y2="608.2" stroke="#888" stroke-width="0.5"/>
<text x="122.0" y="613.7" font-family="'Liberation Sans',Arial,sans-serif" font-size="5.8" text-anchor="middle" fill="#444">7</text>
<line x1="164.7" y1="495.1" x2="165.7" y2="498.3" stroke="#888" stroke-width="0.5"/>
<text x="164.8" y="493.8" font-family="'Liberation Sans',Arial,sans-serif" font-size="5.8" text-anchor="middle" fill="#444">8</text>
<line x1="261.1" y1="559.1" x2="258.1" y2="559.6" stroke="#888" stroke-width="0.5"/>
<text x="265.6" y="560.7" font-family="'Liberation Sans',Arial,sans-serif" font-size="5.8" text-anchor="middle" fill="#444">9</text>
<line x1="186.6" y1="651.5" x2="186.7" y2="648.1" stroke="#888" stroke-width="0.5"/>
<text x="187.8" y="657.4" font-family="'Liberation Sans',Arial,sans-serif" font-size="5.8" text-anchor="middle" fill="#444">10</text>
<line x1="116.1" y1="555.5" x2="119.1" y2="556.1" stroke="#888" stroke-width="0.5"/>
<text x="114.0" y="556.9" font-family="'Liberation Sans',Arial,sans-serif" font-size="5.8" text-anchor="middle" fill="#444">11</text>
<line x1="215.1" y1="496.4" x2="214.0" y2="499.5" stroke="#888" stroke-width="0.5"/>
<text x="217.5" y="495.1" font-family="'Liberation Sans',Arial,sans-serif" font-size="5.8" text-anchor="middle" fill="#444">12</text>
<line x1="251.2" y1="612.9" x2="248.6" y2="611.2" stroke="#888" stroke-width="0.5"/>
<text x="255.3" y="617.0" font-family="'Liberation Sans',Arial,sans-serif" font-size="5.8" text-anchor="middle" fill="#444">13</text>
<line x1="139.7" y1="631.5" x2="141.7" y2="629.0" stroke="#888" stroke-width="0.5"/>
<text x="138.7" y="636.5" font-family="'Liberation Sans',Arial,sans-serif" font-size="5.8" text-anchor="middle" fill="#444">14</text>
<line x1="142.2" y1="508.5" x2="144.1" y2="511.2" stroke="#888" stroke-width="0.5"/>
<text x="141.4" y="507.8" font-family="'Liberation Sans',Arial,sans-serif" font-size="5.8" text-anchor="middle" fill="#444">15</text>
<line x1="252.9" y1="532.6" x2="250.2" y2="534.2" stroke="#888" stroke-width="0.5"/>
<text x="257.0" y="533.1" font-family="'Liberation Sans',Arial,sans-serif" font-size="5.8" text-anchor="middle" fill="#444">16</text>
<line x1="211.9" y1="647.3" x2="210.9" y2="644.1" stroke="#888" stroke-width="0.5"/>
<text x="214.2" y="653.0" font-family="'Liberation Sans',Arial,sans-serif" font-size="5.8" text-anchor="middle" fill="#444">17</text>
<line x1="115.5" y1="583.3" x2="118.5" y2="582.8" stroke="#888" stroke-width="0.5"/>
<text x="113.4" y="586.1" font-family="'Liberation Sans',Arial,sans-serif" font-size="5.8" text-anchor="middle" fill="#444">18</text>
<text x="102.2" y="478.4" font-size="9.0" text-anchor="start" font-weight="bold" fill="#111" textLength="67.3" lengthAdjust="spacingAndGlyphs" stroke="#111" stroke-width="0.3">Hydrophilic&#160; side</text>
<text x="110.2" y="663.3" font-size="9.0" text-anchor="start" font-weight="bold" fill="#111" textLength="50.7" lengthAdjust="spacingAndGlyphs" stroke="#111" stroke-width="0.3">Hydrophobic</text>
<text x="128.3" y="673.6" font-size="9.0" text-anchor="start" font-weight="bold" fill="#111" textLength="15.2" lengthAdjust="spacingAndGlyphs" stroke="#111" stroke-width="0.3">side</text>
<text x="178.0" y="696.0" font-size="13.5" text-anchor="start" font-weight="bold" fill="#111" textLength="26.2" lengthAdjust="spacingAndGlyphs" stroke="#111" stroke-width="0.3">H3TI</text>
<rect x="384.3" y="464.3" width="208.9" height="213.3" fill="none" stroke="#4a4a4a" stroke-width="1.1"/>
<path d="M489.1,505.6 L552.4,582.2 L467.1,632.2 L433.4,538.2 L530.4,520.8 L530.4,620.9 L433.4,603.5 L467.1,509.5 L552.4,559.5 L489.1,636.1 L425.7,559.5 L511.0,509.5 L544.7,603.5 L447.7,620.9 L447.7,520.8 L544.7,538.2 L511.0,632.2 L425.7,582.2" fill="none" stroke="#333" stroke-width="0.75"/>
<line x1="397.0" y1="570.0" x2="579.5" y2="572.7" stroke="#111" stroke-width="2.2" stroke-dasharray="9 5.5 2.5 5.5"/>
<path d="M481.6,571.6 H488.6 V627.0" fill="none" stroke="#111" stroke-width="1.1"/>
<path d="M485.4,620.0 L488.6,627.0 L491.8,620.0" fill="none" stroke="#111" stroke-width="1"/>
<ellipse cx="489.1" cy="505.6" rx="8.9" ry="9.5" fill="#0202ee" stroke="#222" stroke-width="0.8"/>
<text x="489.1" y="510.2" font-family="'Liberation Sans',Arial,sans-serif" font-size="13" text-anchor="middle" fill="#ffffff" textLength="8.2" lengthAdjust="spacingAndGlyphs">K</text>
<ellipse cx="552.4" cy="582.2" rx="8.9" ry="9.5" fill="#ffff1a" stroke="#222" stroke-width="0.8"/>
<text x="552.4" y="586.9" font-family="'Liberation Sans',Arial,sans-serif" font-size="13" text-anchor="middle" fill="#111111" textLength="6.9" lengthAdjust="spacingAndGlyphs">F</text>
<ellipse cx="467.1" cy="632.2" rx="8.9" ry="9.5" fill="#ffff1a" stroke="#222" stroke-width="0.8"/>
<text x="467.1" y="636.9" font-family="'Liberation Sans',Arial,sans-serif" font-size="13" text-anchor="middle" fill="#111111" textLength="6.9" lengthAdjust="spacingAndGlyphs">F</text>
<ellipse cx="433.4" cy="538.2" rx="8.9" ry="9.5" fill="#0202ee" stroke="#222" stroke-width="0.8"/>
<text x="433.4" y="542.9" font-family="'Liberation Sans',Arial,sans-serif" font-size="13" text-anchor="middle" fill="#ffffff" textLength="8.2" lengthAdjust="spacingAndGlyphs">K</text>
<ellipse cx="530.4" cy="520.8" rx="8.9" ry="9.5" fill="#0202ee" stroke="#222" stroke-width="0.8"/>
<text x="530.4" y="525.5" font-family="'Liberation Sans',Arial,sans-serif" font-size="13" text-anchor="middle" fill="#ffffff" textLength="7.9" lengthAdjust="spacingAndGlyphs">R</text>
<ellipse cx="530.4" cy="620.9" rx="8.9" ry="9.5" fill="#ffff1a" stroke="#222" stroke-width="0.8"/>
<text x="530.4" y="625.6" font-family="'Liberation Sans',Arial,sans-serif" font-size="13" text-anchor="middle" fill="#111111" textLength="6.9" lengthAdjust="spacingAndGlyphs">F</text>
<ellipse cx="433.4" cy="603.5" rx="8.9" ry="9.5" fill="#ffff1a" stroke="#222" stroke-width="0.8"/>
<text x="433.4" y="608.2" font-family="'Liberation Sans',Arial,sans-serif" font-size="13" text-anchor="middle" fill="#111111" textLength="6.9" lengthAdjust="spacingAndGlyphs">F</text>
<ellipse cx="467.1" cy="509.5" rx="8.9" ry="9.5" fill="#0202ee" stroke="#222" stroke-width="0.8"/>
<text x="467.1" y="514.2" font-family="'Liberation Sans',Arial,sans-serif" font-size="13" text-anchor="middle" fill="#ffffff" textLength="8.2" lengthAdjust="spacingAndGlyphs">K</text>
<ellipse cx="552.4" cy="559.5" rx="8.9" ry="9.5" fill="#9933dd" stroke="#222" stroke-width="0.8"/>
<text x="552.4" y="564.2" font-family="'Liberation Sans',Arial,sans-serif" font-size="13" text-anchor="middle" fill="#ffffff" textLength="7.6" lengthAdjust="spacingAndGlyphs">S</text>
<ellipse cx="489.1" cy="636.1" rx="8.9" ry="9.5" fill="#ffff1a" stroke="#222" stroke-width="0.8"/>
<text x="489.1" y="640.9" font-family="'Liberation Sans',Arial,sans-serif" font-size="13" text-anchor="middle" fill="#111111" textLength="6.9" lengthAdjust="spacingAndGlyphs">F</text>
<ellipse cx="425.7" cy="559.5" rx="8.9" ry="9.5" fill="#0202ee" stroke="#222" stroke-width="0.8"/>
<text x="425.7" y="564.2" font-family="'Liberation Sans',Arial,sans-serif" font-size="13" text-anchor="middle" fill="#ffffff" textLength="7.9" lengthAdjust="spacingAndGlyphs">R</text>
<ellipse cx="511.0" cy="509.5" rx="8.9" ry="9.5" fill="#0202ee" stroke="#222" stroke-width="0.8"/>
<text x="511.0" y="514.2" font-family="'Liberation Sans',Arial,sans-serif" font-size="13" text-anchor="middle" fill="#ffffff" textLength="7.9" lengthAdjust="spacingAndGlyphs">R</text>
<ellipse cx="544.7" cy="603.5" rx="8.9" ry="9.5" fill="#bdbdbd" stroke="#222" stroke-width="0.8"/>
<text x="544.7" y="608.2" font-family="'Liberation Sans',Arial,sans-serif" font-size="13" text-anchor="middle" fill="#111111" textLength="8.0" lengthAdjust="spacingAndGlyphs">A</text>
<ellipse cx="447.7" cy="620.9" rx="8.9" ry="9.5" fill="#ffff1a" stroke="#222" stroke-width="0.8"/>
<text x="447.7" y="625.6" font-family="'Liberation Sans',Arial,sans-serif" font-size="13" text-anchor="middle" fill="#111111" textLength="6.9" lengthAdjust="spacingAndGlyphs">F</text>
<ellipse cx="447.7" cy="520.8" rx="8.9" ry="9.5" fill="#0202ee" stroke="#222" stroke-width="0.8"/>
<text x="447.7" y="525.5" font-family="'Liberation Sans',Arial,sans-serif" font-size="13" text-anchor="middle" fill="#ffffff" textLength="8.2" lengthAdjust="spacingAndGlyphs">K</text>
<ellipse cx="544.7" cy="538.2" rx="8.9" ry="9.5" fill="#0202ee" stroke="#222" stroke-width="0.8"/>
<text x="544.7" y="542.9" font-family="'Liberation Sans',Arial,sans-serif" font-size="13" text-anchor="middle" fill="#ffffff" textLength="8.2" lengthAdjust="spacingAndGlyphs">K</text>
<ellipse cx="511.0" cy="632.2" rx="8.9" ry="9.5" fill="#ffff1a" stroke="#222" stroke-width="0.8"/>
<text x="511.0" y="636.9" font-family="'Liberation Sans',Arial,sans-serif" font-size="13" text-anchor="middle" fill="#111111" textLength="6.9" lengthAdjust="spacingAndGlyphs">F</text>
<ellipse cx="425.7" cy="582.2" rx="8.9" ry="9.5" fill="#ffff1a" stroke="#222" stroke-width="0.8"/>
<text x="425.7" y="586.9" font-family="'Liberation Sans',Arial,sans-serif" font-size="13" text-anchor="middle" fill="#111111" textLength="8.0" lengthAdjust="spacingAndGlyphs">C</text>
<line x1="487.9" y1="492.5" x2="487.9" y2="495.9" stroke="#888" stroke-width="0.5"/>
<text x="489.1" y="491.1" font-family="'Liberation Sans',Arial,sans-serif" font-size="5.8" text-anchor="middle" fill="#dd2222">1</text>
<line x1="562.5" y1="584.5" x2="559.6" y2="583.9" stroke="#888" stroke-width="0.5"/>
<text x="566.8" y="587.3" font-family="'Liberation Sans',Arial,sans-serif" font-size="5.8" text-anchor="middle" fill="#444">2</text>
<line x1="461.9" y1="644.5" x2="462.9" y2="641.3" stroke="#888" stroke-width="0.5"/>
<text x="462.0" y="650.1" font-family="'Liberation Sans',Arial,sans-serif" font-size="5.8" text-anchor="middle" fill="#444">3</text>
<line x1="422.2" y1="531.7" x2="424.8" y2="533.4" stroke="#888" stroke-width="0.5"/>
<text x="420.6" y="532.1" font-family="'Liberation Sans',Arial,sans-serif" font-size="5.8" text-anchor="middle" fill="#444">4</text>
<line x1="536.6" y1="510.8" x2="534.7" y2="513.4" stroke="#888" stroke-width="0.5"/>
<text x="539.8" y="510.2" font-family="'Liberation Sans',Arial,sans-serif" font-size="5.8" text-anchor="middle" fill="#444">5</text>
<line x1="536.6" y1="630.9" x2="534.7" y2="628.3" stroke="#888" stroke-width="0.5"/>
<text x="539.8" y="635.9" font-family="'Liberation Sans',Arial,sans-serif" font-size="5.8" text-anchor="middle" fill="#444">6</text>
<line x1="422.2" y1="610.0" x2="424.8" y2="608.3" stroke="#888" stroke-width="0.5"/>
<text x="420.6" y="614.1" font-family="'Liberation Sans',Arial,sans-serif" font-size="5.8" text-anchor="middle" fill="#444">7</text>
<line x1="461.9" y1="497.2" x2="462.9" y2="500.4" stroke="#888" stroke-width="0.5"/>
<text x="462.0" y="496.0" font-family="'Liberation Sans',Arial,sans-serif" font-size="5.8" text-anchor="middle" fill="#444">8</text>
<line x1="562.5" y1="557.2" x2="559.6" y2="557.8" stroke="#888" stroke-width="0.5"/>
<text x="566.8" y="558.8" font-family="'Liberation Sans',Arial,sans-serif" font-size="5.8" text-anchor="middle" fill="#444">9</text>
<line x1="487.9" y1="649.2" x2="487.9" y2="645.8" stroke="#888" stroke-width="0.5"/>
<text x="489.1" y="655.1" font-family="'Liberation Sans',Arial,sans-serif" font-size="5.8" text-anchor="middle" fill="#444">10</text>
<line x1="413.2" y1="557.2" x2="416.1" y2="557.8" stroke="#888" stroke-width="0.5"/>
<text x="411.3" y="558.8" font-family="'Liberation Sans',Arial,sans-serif" font-size="5.8" text-anchor="middle" fill="#444">11</text>
<line x1="513.8" y1="497.2" x2="512.8" y2="500.4" stroke="#888" stroke-width="0.5"/>
<text x="516.1" y="496.0" font-family="'Liberation Sans',Arial,sans-serif" font-size="5.8" text-anchor="middle" fill="#444">12</text>
<line x1="553.5" y1="610.0" x2="550.9" y2="608.3" stroke="#888" stroke-width="0.5"/>
<text x="557.5" y="614.1" font-family="'Liberation Sans',Arial,sans-serif" font-size="5.8" text-anchor="middle" fill="#444">13</text>
<line x1="439.1" y1="630.9" x2="441.0" y2="628.3" stroke="#888" stroke-width="0.5"/>
<text x="438.3" y="635.9" font-family="'Liberation Sans',Arial,sans-serif" font-size="5.8" text-anchor="middle" fill="#444">14</text>
<line x1="439.1" y1="510.8" x2="441.0" y2="513.4" stroke="#888" stroke-width="0.5"/>
<text x="438.3" y="510.2" font-family="'Liberation Sans',Arial,sans-serif" font-size="5.8" text-anchor="middle" fill="#444">15</text>
<line x1="553.5" y1="531.7" x2="550.9" y2="533.4" stroke="#888" stroke-width="0.5"/>
<text x="557.5" y="532.1" font-family="'Liberation Sans',Arial,sans-serif" font-size="5.8" text-anchor="middle" fill="#444">16</text>
<line x1="513.8" y1="644.5" x2="512.8" y2="641.3" stroke="#888" stroke-width="0.5"/>
<text x="516.1" y="650.1" font-family="'Liberation Sans',Arial,sans-serif" font-size="5.8" text-anchor="middle" fill="#444">17</text>
<line x1="413.2" y1="584.5" x2="416.1" y2="583.9" stroke="#888" stroke-width="0.5"/>
<text x="411.3" y="587.3" font-family="'Liberation Sans',Arial,sans-serif" font-size="5.8" text-anchor="middle" fill="#444">18</text>
<text x="402.4" y="479.4" font-size="9.0" text-anchor="start" font-weight="bold" fill="#111" textLength="67.1" lengthAdjust="spacingAndGlyphs" stroke="#111" stroke-width="0.3">Hydrophilic&#160; side</text>
<text x="397.3" y="667.5" font-size="9.0" text-anchor="start" font-weight="bold" fill="#111" textLength="72.2" lengthAdjust="spacingAndGlyphs" stroke="#111" stroke-width="0.3">Hydrophobic&#160; side</text>
<text x="478.0" y="697.5" font-size="13.5" text-anchor="start" font-weight="bold" fill="#111" textLength="31.0" lengthAdjust="spacingAndGlyphs" stroke="#111" stroke-width="0.3">H3TIF</text>
<rect x="89.2" y="707.5" width="199.3" height="216.3" fill="none" stroke="#4a4a4a" stroke-width="1.1"/>
<path d="M127.9,825.7 L189.8,749.6 L248.9,828.2 L166.5,877.0 L136.0,781.5 L229.0,765.8 L227.2,866.8 L134.8,847.3 L168.7,753.2 L249.3,805.3 L187.4,881.4 L128.3,802.8 L210.7,754.0 L241.2,849.5 L148.2,865.2 L150.0,764.2 L242.4,783.7 L208.5,877.8" fill="none" stroke="#333" stroke-width="0.75"/>
<line x1="107.5" y1="812.6" x2="266.2" y2="815.6" stroke="#111" stroke-width="2.2" stroke-dasharray="9 5.5 2.5 5.5"/>
<path d="M181.1,814.3 H188.1 V867.2" fill="none" stroke="#111" stroke-width="1.1"/>
<path d="M184.9,860.2 L188.1,867.2 L191.3,860.2" fill="none" stroke="#111" stroke-width="1"/>
<ellipse cx="127.9" cy="825.7" rx="9.3" ry="9.8" fill="#ffff1a" stroke="#222" stroke-width="0.8"/>
<text x="127.9" y="830.4" font-family="'Liberation Sans',Arial,sans-serif" font-size="13" text-anchor="middle" fill="#111111" textLength="8.0" lengthAdjust="spacingAndGlyphs">C</text>
<ellipse cx="189.8" cy="749.6" rx="9.3" ry="9.8" fill="#0202ee" stroke="#222" stroke-width="0.8"/>
<text x="189.8" y="754.3" font-family="'Liberation Sans',Arial,sans-serif" font-size="13" text-anchor="middle" fill="#ffffff" textLength="8.2" lengthAdjust="spacingAndGlyphs">K</text>
<ellipse cx="248.9" cy="828.2" rx="9.3" ry="9.8" fill="#ffff1a" stroke="#222" stroke-width="0.8"/>
<text x="248.9" y="832.9" font-family="'Liberation Sans',Arial,sans-serif" font-size="13" text-anchor="middle" fill="#111111" textLength="6.9" lengthAdjust="spacingAndGlyphs">F</text>
<ellipse cx="166.5" cy="877.0" rx="9.3" ry="9.8" fill="#ffff1a" stroke="#222" stroke-width="0.8"/>
<text x="166.5" y="881.7" font-family="'Liberation Sans',Arial,sans-serif" font-size="13" text-anchor="middle" fill="#111111" textLength="6.9" lengthAdjust="spacingAndGlyphs">F</text>
<ellipse cx="136.0" cy="781.5" rx="9.3" ry="9.8" fill="#0202ee" stroke="#222" stroke-width="0.8"/>
<text x="136.0" y="786.2" font-family="'Liberation Sans',Arial,sans-serif" font-size="13" text-anchor="middle" fill="#ffffff" textLength="8.2" lengthAdjust="spacingAndGlyphs">K</text>
<ellipse cx="229.0" cy="765.8" rx="9.3" ry="9.8" fill="#0202ee" stroke="#222" stroke-width="0.8"/>
<text x="229.0" y="770.5" font-family="'Liberation Sans',Arial,sans-serif" font-size="13" text-anchor="middle" fill="#ffffff" textLength="7.9" lengthAdjust="spacingAndGlyphs">R</text>
<ellipse cx="227.2" cy="866.8" rx="9.3" ry="9.8" fill="#ffff1a" stroke="#222" stroke-width="0.8"/>
<text x="227.2" y="871.5" font-family="'Liberation Sans',Arial,sans-serif" font-size="13" text-anchor="middle" fill="#111111" textLength="6.4" lengthAdjust="spacingAndGlyphs">L</text>
<ellipse cx="134.8" cy="847.3" rx="9.3" ry="9.8" fill="#ffff1a" stroke="#222" stroke-width="0.8"/>
<text x="134.8" y="852.0" font-family="'Liberation Sans',Arial,sans-serif" font-size="13" text-anchor="middle" fill="#111111" textLength="6.4" lengthAdjust="spacingAndGlyphs">L</text>
<ellipse cx="168.7" cy="753.2" rx="9.3" ry="9.8" fill="#0202ee" stroke="#222" stroke-width="0.8"/>
<text x="168.7" y="757.9" font-family="'Liberation Sans',Arial,sans-serif" font-size="13" text-anchor="middle" fill="#ffffff" textLength="8.2" lengthAdjust="spacingAndGlyphs">K</text>
<ellipse cx="249.3" cy="805.3" rx="9.3" ry="9.8" fill="#9933dd" stroke="#222" stroke-width="0.8"/>
<text x="249.3" y="810.0" font-family="'Liberation Sans',Arial,sans-serif" font-size="13" text-anchor="middle" fill="#ffffff" textLength="7.6" lengthAdjust="spacingAndGlyphs">S</text>
<ellipse cx="187.4" cy="881.4" rx="9.3" ry="9.8" fill="#ffff1a" stroke="#222" stroke-width="0.8"/>
<text x="187.4" y="886.1" font-family="'Liberation Sans',Arial,sans-serif" font-size="13" text-anchor="middle" fill="#111111" textLength="8.0" lengthAdjust="spacingAndGlyphs">V</text>
<ellipse cx="128.3" cy="802.8" rx="9.3" ry="9.8" fill="#0202ee" stroke="#222" stroke-width="0.8"/>
<text x="128.3" y="807.5" font-family="'Liberation Sans',Arial,sans-serif" font-size="13" text-anchor="middle" fill="#ffffff" textLength="7.9" lengthAdjust="spacingAndGlyphs">R</text>
<ellipse cx="210.7" cy="754.0" rx="9.3" ry="9.8" fill="#0202ee" stroke="#222" stroke-width="0.8"/>
<text x="210.7" y="758.7" font-family="'Liberation Sans',Arial,sans-serif" font-size="13" text-anchor="middle" fill="#ffffff" textLength="7.9" lengthAdjust="spacingAndGlyphs">R</text>
<ellipse cx="241.2" cy="849.5" rx="9.3" ry="9.8" fill="#bdbdbd" stroke="#222" stroke-width="0.8"/>
<text x="241.2" y="854.2" font-family="'Liberation Sans',Arial,sans-serif" font-size="13" text-anchor="middle" fill="#111111" textLength="8.0" lengthAdjust="spacingAndGlyphs">A</text>
<ellipse cx="148.2" cy="865.2" rx="9.3" ry="9.8" fill="#ffff1a" stroke="#222" stroke-width="0.8"/>
<text x="148.2" y="869.9" font-family="'Liberation Sans',Arial,sans-serif" font-size="13" text-anchor="middle" fill="#111111" textLength="8.0" lengthAdjust="spacingAndGlyphs">V</text>
<ellipse cx="150.0" cy="764.2" rx="9.3" ry="9.8" fill="#0202ee" stroke="#222" stroke-width="0.8"/>
<text x="150.0" y="768.9" font-family="'Liberation Sans',Arial,sans-serif" font-size="13" text-anchor="middle" fill="#ffffff" textLength="8.2" lengthAdjust="spacingAndGlyphs">K</text>
<ellipse cx="242.4" cy="783.7" rx="9.3" ry="9.8" fill="#0202ee" stroke="#222" stroke-width="0.8"/>
<text x="242.4" y="788.4" font-family="'Liberation Sans',Arial,sans-serif" font-size="13" text-anchor="middle" fill="#ffffff" textLength="8.2" lengthAdjust="spacingAndGlyphs">K</text>
<ellipse cx="208.5" cy="877.8" rx="9.3" ry="9.8" fill="#ffff1a" stroke="#222" stroke-width="0.8"/>
<text x="208.5" y="882.5" font-family="'Liberation Sans',Arial,sans-serif" font-size="13" text-anchor="middle" fill="#111111" textLength="6.9" lengthAdjust="spacingAndGlyphs">F</text>
<line x1="114.7" y1="827.9" x2="117.8" y2="827.3" stroke="#888" stroke-width="0.5"/>
<text x="112.5" y="830.7" font-family="'Liberation Sans',Arial,sans-serif" font-size="5.8" text-anchor="middle" fill="#dd2222">1</text>
<line x1="188.8" y1="735.5" x2="188.8" y2="739.1" stroke="#888" stroke-width="0.5"/>
<text x="190.1" y="733.7" font-family="'Liberation Sans',Arial,sans-serif" font-size="5.8" text-anchor="middle" fill="#444">2</text>
<line x1="259.6" y1="830.9" x2="256.5" y2="830.2" stroke="#888" stroke-width="0.5"/>
<text x="264.2" y="833.9" font-family="'Liberation Sans',Arial,sans-serif" font-size="5.8" text-anchor="middle" fill="#444">3</text>
<line x1="160.9" y1="890.2" x2="162.0" y2="886.8" stroke="#888" stroke-width="0.5"/>
<text x="160.9" y="896.1" font-family="'Liberation Sans',Arial,sans-serif" font-size="5.8" text-anchor="middle" fill="#444">4</text>
<line x1="124.4" y1="774.2" x2="127.1" y2="776.0" stroke="#888" stroke-width="0.5"/>
<text x="122.7" y="774.3" font-family="'Liberation Sans',Arial,sans-serif" font-size="5.8" text-anchor="middle" fill="#444">5</text>
<line x1="235.8" y1="755.2" x2="233.7" y2="757.9" stroke="#888" stroke-width="0.5"/>
<text x="239.2" y="754.4" font-family="'Liberation Sans',Arial,sans-serif" font-size="5.8" text-anchor="middle" fill="#444">6</text>
<line x1="233.6" y1="877.8" x2="231.6" y2="875.0" stroke="#888" stroke-width="0.5"/>
<text x="237.0" y="883.1" font-family="'Liberation Sans',Arial,sans-serif" font-size="5.8" text-anchor="middle" fill="#444">7</text>
<line x1="123.0" y1="854.2" x2="125.7" y2="852.4" stroke="#888" stroke-width="0.5"/>
<text x="121.2" y="858.3" font-family="'Liberation Sans',Arial,sans-serif" font-size="5.8" text-anchor="middle" fill="#444">8</text>
<line x1="163.6" y1="739.8" x2="164.6" y2="743.2" stroke="#888" stroke-width="0.5"/>
<text x="163.7" y="738.2" font-family="'Liberation Sans',Arial,sans-serif" font-size="5.8" text-anchor="middle" fill="#444">9</text>
<line x1="260.1" y1="803.1" x2="257.0" y2="803.7" stroke="#888" stroke-width="0.5"/>
<text x="264.7" y="804.7" font-family="'Liberation Sans',Arial,sans-serif" font-size="5.8" text-anchor="middle" fill="#444">10</text>
<line x1="186.0" y1="895.5" x2="186.0" y2="891.9" stroke="#888" stroke-width="0.5"/>
<text x="187.1" y="901.7" font-family="'Liberation Sans',Arial,sans-serif" font-size="5.8" text-anchor="middle" fill="#444">11</text>
<line x1="115.2" y1="800.1" x2="118.3" y2="800.8" stroke="#888" stroke-width="0.5"/>
<text x="113.0" y="801.5" font-family="'Liberation Sans',Arial,sans-serif" font-size="5.8" text-anchor="middle" fill="#444">12</text>
<line x1="213.9" y1="740.8" x2="212.8" y2="744.2" stroke="#888" stroke-width="0.5"/>
<text x="216.3" y="739.3" font-family="'Liberation Sans',Arial,sans-serif" font-size="5.8" text-anchor="middle" fill="#444">13</text>
<line x1="250.4" y1="856.8" x2="247.7" y2="855.0" stroke="#888" stroke-width="0.5"/>
<text x="254.5" y="861.1" font-family="'Liberation Sans',Arial,sans-serif" font-size="5.8" text-anchor="middle" fill="#444">14</text>
<line x1="139.0" y1="875.8" x2="141.1" y2="873.1" stroke="#888" stroke-width="0.5"/>
<text x="138.0" y="881.0" font-family="'Liberation Sans',Arial,sans-serif" font-size="5.8" text-anchor="middle" fill="#444">15</text>
<line x1="141.2" y1="753.2" x2="143.2" y2="756.0" stroke="#888" stroke-width="0.5"/>
<text x="140.2" y="752.3" font-family="'Liberation Sans',Arial,sans-serif" font-size="5.8" text-anchor="middle" fill="#444">16</text>
<line x1="251.8" y1="776.8" x2="249.1" y2="778.6" stroke="#888" stroke-width="0.5"/>
<text x="256.0" y="777.1" font-family="'Liberation Sans',Arial,sans-serif" font-size="5.8" text-anchor="middle" fill="#444">17</text>
<line x1="211.2" y1="891.2" x2="210.2" y2="887.8" stroke="#888" stroke-width="0.5"/>
<text x="213.5" y="897.2" font-family="'Liberation Sans',Arial,sans-serif" font-size="5.8" text-anchor="middle" fill="#444">18</text>
<text x="107.3" y="725.5" font-size="9.0" text-anchor="start" font-weight="bold" fill="#111" textLength="67.1" lengthAdjust="spacingAndGlyphs" stroke="#111" stroke-width="0.3">Hydrophilic&#160; side</text>
<text x="98.7" y="910.8" font-size="9.0" text-anchor="start" font-weight="bold" fill="#111" textLength="72.3" lengthAdjust="spacingAndGlyphs" stroke="#111" stroke-width="0.3">Hydrophobic&#160; side</text>
<text x="0.0" y="-100.0" font-size="13.5" text-anchor="start" font-weight="bold" fill="#111" textLength="10.0" lengthAdjust="spacingAndGlyphs" stroke="#111" stroke-width="0.3">TIH3</text>
<rect x="389.4" y="709.2" width="207.2" height="215.7" fill="none" stroke="#4a4a4a" stroke-width="1.1"/>
<path d="M429.6,828.3 L492.9,750.8 L556.1,828.3 L470.9,878.8 L437.3,783.8 L534.1,766.2 L534.1,867.4 L437.3,849.8 L470.9,754.8 L556.1,805.3 L492.9,882.8 L429.6,805.3 L514.8,754.8 L548.4,849.8 L451.6,867.4 L451.6,766.2 L548.4,783.8 L514.8,878.8" fill="none" stroke="#333" stroke-width="0.75"/>
<line x1="412.5" y1="815.1" x2="571.2" y2="817.8" stroke="#111" stroke-width="2.2" stroke-dasharray="9 5.5 2.5 5.5"/>
<path d="M485.6,816.1 H492.6 V872.3" fill="none" stroke="#111" stroke-width="1.1"/>
<path d="M489.4,865.3 L492.6,872.3 L495.8,865.3" fill="none" stroke="#111" stroke-width="1"/>
<ellipse cx="429.6" cy="828.3" rx="9.0" ry="9.6" fill="#ffff1a" stroke="#222" stroke-width="0.8"/>
<text x="429.6" y="833.0" font-family="'Liberation Sans',Arial,sans-serif" font-size="13" text-anchor="middle" fill="#111111" textLength="8.0" lengthAdjust="spacingAndGlyphs">C</text>
<ellipse cx="492.9" cy="750.8" rx="9.0" ry="9.6" fill="#0202ee" stroke="#222" stroke-width="0.8"/>
<text x="492.9" y="755.5" font-family="'Liberation Sans',Arial,sans-serif" font-size="13" text-anchor="middle" fill="#ffffff" textLength="8.2" lengthAdjust="spacingAndGlyphs">K</text>
<ellipse cx="556.1" cy="828.3" rx="9.0" ry="9.6" fill="#ffff1a" stroke="#222" stroke-width="0.8"/>
<text x="556.1" y="833.0" font-family="'Liberation Sans',Arial,sans-serif" font-size="13" text-anchor="middle" fill="#111111" textLength="6.9" lengthAdjust="spacingAndGlyphs">F</text>
<ellipse cx="470.9" cy="878.8" rx="9.0" ry="9.6" fill="#ffff1a" stroke="#222" stroke-width="0.8"/>
<text x="470.9" y="883.5" font-family="'Liberation Sans',Arial,sans-serif" font-size="13" text-anchor="middle" fill="#111111" textLength="6.9" lengthAdjust="spacingAndGlyphs">F</text>
<ellipse cx="437.3" cy="783.8" rx="9.0" ry="9.6" fill="#0202ee" stroke="#222" stroke-width="0.8"/>
<text x="437.3" y="788.5" font-family="'Liberation Sans',Arial,sans-serif" font-size="13" text-anchor="middle" fill="#ffffff" textLength="8.2" lengthAdjust="spacingAndGlyphs">K</text>
<ellipse cx="534.1" cy="766.2" rx="9.0" ry="9.6" fill="#0202ee" stroke="#222" stroke-width="0.8"/>
<text x="534.1" y="770.9" font-family="'Liberation Sans',Arial,sans-serif" font-size="13" text-anchor="middle" fill="#ffffff" textLength="7.9" lengthAdjust="spacingAndGlyphs">R</text>
<ellipse cx="534.1" cy="867.4" rx="9.0" ry="9.6" fill="#ffff1a" stroke="#222" stroke-width="0.8"/>
<text x="534.1" y="872.1" font-family="'Liberation Sans',Arial,sans-serif" font-size="13" text-anchor="middle" fill="#111111" textLength="6.9" lengthAdjust="spacingAndGlyphs">F</text>
<ellipse cx="437.3" cy="849.8" rx="9.0" ry="9.6" fill="#ffff1a" stroke="#222" stroke-width="0.8"/>
<text x="437.3" y="854.5" font-family="'Liberation Sans',Arial,sans-serif" font-size="13" text-anchor="middle" fill="#111111" textLength="6.9" lengthAdjust="spacingAndGlyphs">F</text>
<ellipse cx="470.9" cy="754.8" rx="9.0" ry="9.6" fill="#0202ee" stroke="#222" stroke-width="0.8"/>
<text x="470.9" y="759.5" font-family="'Liberation Sans',Arial,sans-serif" font-size="13" text-anchor="middle" fill="#ffffff" textLength="8.2" lengthAdjust="spacingAndGlyphs">K</text>
<ellipse cx="556.1" cy="805.3" rx="9.0" ry="9.6" fill="#9933dd" stroke="#222" stroke-width="0.8"/>
<text x="556.1" y="810.0" font-family="'Liberation Sans',Arial,sans-serif" font-size="13" text-anchor="middle" fill="#ffffff" textLength="7.6" lengthAdjust="spacingAndGlyphs">S</text>
<ellipse cx="492.9" cy="882.8" rx="9.0" ry="9.6" fill="#ffff1a" stroke="#222" stroke-width="0.8"/>
<text x="492.9" y="887.5" font-family="'Liberation Sans',Arial,sans-serif" font-size="13" text-anchor="middle" fill="#111111" textLength="6.9" lengthAdjust="spacingAndGlyphs">F</text>
<ellipse cx="429.6" cy="805.3" rx="9.0" ry="9.6" fill="#0202ee" stroke="#222" stroke-width="0.8"/>
<text x="429.6" y="810.0" font-family="'Liberation Sans',Arial,sans-serif" font-size="13" text-anchor="middle" fill="#ffffff" textLength="7.9" lengthAdjust="spacingAndGlyphs">R</text>
<ellipse cx="514.8" cy="754.8" rx="9.0" ry="9.6" fill="#0202ee" stroke="#222" stroke-width="0.8"/>
<text x="514.8" y="759.5" font-family="'Liberation Sans',Arial,sans-serif" font-size="13" text-anchor="middle" fill="#ffffff" textLength="7.9" lengthAdjust="spacingAndGlyphs">R</text>
<ellipse cx="548.4" cy="849.8" rx="9.0" ry="9.6" fill="#bdbdbd" stroke="#222" stroke-width="0.8"/>
<text x="548.4" y="854.5" font-family="'Liberation Sans',Arial,sans-serif" font-size="13" text-anchor="middle" fill="#111111" textLength="8.0" lengthAdjust="spacingAndGlyphs">A</text>
<ellipse cx="451.6" cy="867.4" rx="9.0" ry="9.6" fill="#ffff1a" stroke="#222" stroke-width="0.8"/>
<text x="451.6" y="872.1" font-family="'Liberation Sans',Arial,sans-serif" font-size="13" text-anchor="middle" fill="#111111" textLength="6.9" lengthAdjust="spacingAndGlyphs">F</text>
<ellipse cx="451.6" cy="766.2" rx="9.0" ry="9.6" fill="#0202ee" stroke="#222" stroke-width="0.8"/>
<text x="451.6" y="770.9" font-family="'Liberation Sans',Arial,sans-serif" font-size="13" text-anchor="middle" fill="#ffffff" textLength="8.2" lengthAdjust="spacingAndGlyphs">K</text>
<ellipse cx="548.4" cy="783.8" rx="9.0" ry="9.6" fill="#0202ee" stroke="#222" stroke-width="0.8"/>
<text x="548.4" y="788.5" font-family="'Liberation Sans',Arial,sans-serif" font-size="13" text-anchor="middle" fill="#ffffff" textLength="8.2" lengthAdjust="spacingAndGlyphs">K</text>
<ellipse cx="514.8" cy="878.8" rx="9.0" ry="9.6" fill="#ffff1a" stroke="#222" stroke-width="0.8"/>
<text x="514.8" y="883.5" font-family="'Liberation Sans',Arial,sans-serif" font-size="13" text-anchor="middle" fill="#111111" textLength="6.9" lengthAdjust="spacingAndGlyphs">F</text>
<line x1="416.3" y1="830.6" x2="419.4" y2="830.0" stroke="#888" stroke-width="0.5"/>
<text x="414.1" y="833.4" font-family="'Liberation Sans',Arial,sans-serif" font-size="5.8" text-anchor="middle" fill="#dd2222">1</text>
<line x1="491.7" y1="737.5" x2="491.7" y2="740.9" stroke="#888" stroke-width="0.5"/>
<text x="492.9" y="736.0" font-family="'Liberation Sans',Arial,sans-serif" font-size="5.8" text-anchor="middle" fill="#444">2</text>
<line x1="567.0" y1="830.6" x2="563.9" y2="830.0" stroke="#888" stroke-width="0.5"/>
<text x="571.6" y="833.4" font-family="'Liberation Sans',Arial,sans-serif" font-size="5.8" text-anchor="middle" fill="#444">3</text>
<line x1="465.5" y1="891.3" x2="466.6" y2="888.1" stroke="#888" stroke-width="0.5"/>
<text x="465.5" y="897.0" font-family="'Liberation Sans',Arial,sans-serif" font-size="5.8" text-anchor="middle" fill="#444">4</text>
<line x1="425.4" y1="777.2" x2="428.1" y2="778.9" stroke="#888" stroke-width="0.5"/>
<text x="423.6" y="777.5" font-family="'Liberation Sans',Arial,sans-serif" font-size="5.8" text-anchor="middle" fill="#444">5</text>
<line x1="540.8" y1="756.1" x2="538.8" y2="758.7" stroke="#888" stroke-width="0.5"/>
<text x="544.3" y="755.4" font-family="'Liberation Sans',Arial,sans-serif" font-size="5.8" text-anchor="middle" fill="#444">6</text>
<line x1="540.8" y1="877.5" x2="538.8" y2="874.9" stroke="#888" stroke-width="0.5"/>
<text x="544.3" y="882.6" font-family="'Liberation Sans',Arial,sans-serif" font-size="5.8" text-anchor="middle" fill="#444">7</text>
<line x1="425.4" y1="856.4" x2="428.1" y2="854.7" stroke="#888" stroke-width="0.5"/>
<text x="423.6" y="860.5" font-family="'Liberation Sans',Arial,sans-serif" font-size="5.8" text-anchor="middle" fill="#444">8</text>
<line x1="465.5" y1="742.3" x2="466.6" y2="745.5" stroke="#888" stroke-width="0.5"/>
<text x="465.5" y="741.0" font-family="'Liberation Sans',Arial,sans-serif" font-size="5.8" text-anchor="middle" fill="#444">9</text>
<line x1="567.0" y1="803.0" x2="563.9" y2="803.6" stroke="#888" stroke-width="0.5"/>
<text x="571.6" y="804.6" font-family="'Liberation Sans',Arial,sans-serif" font-size="5.8" text-anchor="middle" fill="#444">10</text>
<line x1="491.7" y1="896.1" x2="491.7" y2="892.7" stroke="#888" stroke-width="0.5"/>
<text x="492.9" y="902.0" font-family="'Liberation Sans',Arial,sans-serif" font-size="5.8" text-anchor="middle" fill="#444">11</text>
<line x1="416.3" y1="803.0" x2="419.4" y2="803.6" stroke="#888" stroke-width="0.5"/>
<text x="414.1" y="804.6" font-family="'Liberation Sans',Arial,sans-serif" font-size="5.8" text-anchor="middle" fill="#444">12</text>
<line x1="517.8" y1="742.3" x2="516.7" y2="745.5" stroke="#888" stroke-width="0.5"/>
<text x="520.2" y="741.0" font-family="'Liberation Sans',Arial,sans-serif" font-size="5.8" text-anchor="middle" fill="#444">13</text>
<line x1="557.9" y1="856.4" x2="555.2" y2="854.7" stroke="#888" stroke-width="0.5"/>
<text x="562.1" y="860.5" font-family="'Liberation Sans',Arial,sans-serif" font-size="5.8" text-anchor="middle" fill="#444">14</text>
<line x1="442.5" y1="877.5" x2="444.5" y2="874.9" stroke="#888" stroke-width="0.5"/>
<text x="441.4" y="882.6" font-family="'Liberation Sans',Arial,sans-serif" font-size="5.8" text-anchor="middle" fill="#444">15</text>
<line x1="442.5" y1="756.1" x2="444.5" y2="758.7" stroke="#888" stroke-width="0.5"/>
<text x="441.4" y="755.4" font-family="'Liberation Sans',Arial,sans-serif" font-size="5.8" text-anchor="middle" fill="#444">16</text>
<line x1="557.9" y1="777.2" x2="555.2" y2="778.9" stroke="#888" stroke-width="0.5"/>
<text x="562.1" y="777.5" font-family="'Liberation Sans',Arial,sans-serif" font-size="5.8" text-anchor="middle" fill="#444">17</text>
<line x1="517.8" y1="891.3" x2="516.7" y2="888.1" stroke="#888" stroke-width="0.5"/>
<text x="520.2" y="897.0" font-family="'Liberation Sans',Arial,sans-serif" font-size="5.8" text-anchor="middle" fill="#444">18</text>
<text x="399.0" y="726.1" font-size="9.0" text-anchor="start" font-weight="bold" fill="#111" textLength="67.0" lengthAdjust="spacingAndGlyphs" stroke="#111" stroke-width="0.3">Hydrophilic&#160; side</text>
<text x="398.0" y="913.5" font-size="9.0" text-anchor="start" font-weight="bold" fill="#111" textLength="72.5" lengthAdjust="spacingAndGlyphs" stroke="#111" stroke-width="0.3">Hydrophobic&#160; side</text>
<text x="0.0" y="-100.0" font-size="13.5" text-anchor="start" font-weight="bold" fill="#111" textLength="10.0" lengthAdjust="spacingAndGlyphs" stroke="#111" stroke-width="0.3">TIH3F</text>
</g>
<g font-family="'Liberation Serif','Times New Roman',serif">
<text x="57.8" y="964.2" font-size="16.0" text-anchor="start" font-weight="normal" fill="#111" textLength="9.4" lengthAdjust="spacingAndGlyphs" stroke="#111" stroke-width="0.18">C</text>
<text x="158.5" y="1161.6" font-size="13.5" text-anchor="start" font-weight="bold" fill="#111" textLength="30.5" lengthAdjust="spacingAndGlyphs" stroke="#111" stroke-width="0.3">H3TI</text>
<text x="505.1" y="1161.9" font-size="13.5" text-anchor="start" font-weight="bold" fill="#111" textLength="39.5" lengthAdjust="spacingAndGlyphs" stroke="#111" stroke-width="0.3">H3TIF</text>
<text x="163.3" y="1377.5" font-size="13.5" text-anchor="start" font-weight="bold" fill="#111" textLength="30.7" lengthAdjust="spacingAndGlyphs" stroke="#111" stroke-width="0.3">TIH3</text>
<text x="505.3" y="1376.0" font-size="13.5" text-anchor="start" font-weight="bold" fill="#111" textLength="39.1" lengthAdjust="spacingAndGlyphs" stroke="#111" stroke-width="0.3">TIH3F</text>
</g>
<defs><filter id="shade" x="-5%" y="-5%" width="110%" height="110%" color-interpolation-filters="sRGB"><feGaussianBlur in="SourceAlpha" stdDeviation="1.8" result="b"/><feDiffuseLighting in="b" surfaceScale="3.5" diffuseConstant="1.0" lighting-color="#ffffff" result="l0"><feDistantLight azimuth="235" elevation="60"/></feDiffuseLighting><feComponentTransfer in="l0" result="l"><feFuncR type="linear" slope="0.75" intercept="0.32"/><feFuncG type="linear" slope="0.75" intercept="0.32"/><feFuncB type="linear" slope="0.75" intercept="0.32"/></feComponentTransfer><feComposite in="SourceGraphic" in2="l" operator="arithmetic" k1="1" k2="0" k3="0" k4="0" result="m"/><feComposite in="m" in2="SourceAlpha" operator="in"/></filter></defs>
<g transform="translate(0.0,0.0) scale(1.00000)">
<path d="M142.2,1082.2 C144.7,1078.2 148.9,1070.6 152.6,1067.4 C156.3,1064.2 160.7,1063.0 164.4,1063.0 C168.1,1063.0 171.8,1065.2 174.8,1067.4 C177.8,1069.6 180.0,1072.8 182.2,1076.3 C184.4,1079.8 187.3,1084.6 188.1,1088.1 C188.8,1091.5 188.2,1094.8 186.7,1097.0 C185.2,1099.2 180.8,1099.0 179.3,1101.5 C177.8,1104.0 179.3,1108.9 177.8,1111.9 C176.3,1114.9 173.6,1117.8 170.4,1119.3 C167.2,1120.8 161.7,1121.5 158.5,1120.7 C155.3,1120.0 152.8,1117.3 151.1,1114.8 C149.4,1112.3 149.8,1108.4 148.1,1105.9 C146.4,1103.4 142.4,1102.5 140.7,1100.0 C139.0,1097.5 137.6,1094.1 137.8,1091.1 C138.1,1088.1 139.7,1086.2 142.2,1082.2Z" fill="#f6f2a6"/>
<path d="M131.0,1090.0 C131.8,1088.0 136.0,1085.7 138.0,1086.0 C140.0,1086.3 142.7,1089.8 143.0,1092.0 C143.3,1094.2 141.7,1098.0 140.0,1099.0 C138.3,1100.0 134.5,1099.5 133.0,1098.0 C131.5,1096.5 130.2,1092.0 131.0,1090.0Z" fill="#f4c8c0"/>
<path d="M150.0,1080.0 C150.8,1078.3 156.3,1076.3 158.0,1077.0 C159.7,1077.7 160.8,1082.3 160.0,1084.0 C159.2,1085.7 154.7,1087.7 153.0,1087.0 C151.3,1086.3 149.2,1081.7 150.0,1080.0Z" fill="#f0a8a0"/>
</g><g transform="translate(0.0,0.0) scale(1.00000)">
<path d="M3.0,1030.0 C2.6,1027.3 2.0,1023.3 2.5,1020.0 C3.0,1016.7 3.1,1011.3 6.0,1010.0 C8.9,1008.7 14.3,1013.0 20.0,1012.0 C25.7,1011.0 35.0,1006.7 40.0,1004.0 C45.0,1001.3 47.5,999.3 50.0,996.0 C52.5,992.7 51.5,986.8 55.0,984.0 C58.5,981.2 65.3,979.0 71.0,979.5 C76.7,980.0 84.5,982.9 89.0,987.0 C93.5,991.1 94.2,999.5 98.0,1004.0 C101.8,1008.5 109.8,1010.5 112.0,1014.0 C114.2,1017.5 109.2,1023.0 111.0,1025.0 C112.8,1027.0 117.2,1024.3 123.0,1026.0 C128.8,1027.7 139.8,1031.2 146.0,1035.0 C152.2,1038.8 157.5,1044.5 160.0,1049.0 C162.5,1053.5 162.2,1056.5 161.0,1062.0 C159.8,1067.5 157.2,1076.0 153.0,1082.0 C148.8,1088.0 139.8,1094.5 136.0,1098.0 C132.2,1101.5 132.8,1101.7 130.0,1103.0 C127.2,1104.3 122.7,1106.2 119.0,1106.0 C115.3,1105.8 111.2,1104.7 108.0,1102.0 C104.8,1099.3 102.7,1092.3 100.0,1090.0 C97.3,1087.7 95.3,1089.3 92.0,1088.0 C88.7,1086.7 84.0,1084.0 80.0,1082.0 C76.0,1080.0 72.2,1077.0 68.0,1076.0 C63.8,1075.0 59.7,1075.8 55.0,1076.0 C50.3,1076.2 44.5,1078.3 40.0,1077.0 C35.5,1075.7 30.3,1072.5 28.0,1068.0 C25.7,1063.5 28.2,1054.3 26.0,1050.0 C23.8,1045.7 18.5,1044.3 15.0,1042.0 C11.5,1039.7 7.0,1038.0 5.0,1036.0 C3.0,1034.0 3.4,1032.7 3.0,1030.0Z" fill="#f2f200" filter="url(#sh1_000)"/>
<path d="M3.0,1030.0 C1.8,1027.3 2.3,1024.3 2.5,1022.0 C2.7,1019.7 3.3,1017.5 4.4,1016.0 C5.5,1014.5 6.4,1012.7 9.0,1013.0 C11.6,1013.3 15.7,1016.0 20.0,1018.0 C24.3,1020.0 31.7,1022.2 35.0,1025.0 C38.3,1027.8 40.7,1032.3 40.0,1035.0 C39.3,1037.7 34.3,1039.8 31.0,1041.0 C27.7,1042.2 23.5,1042.5 20.0,1042.0 C16.5,1041.5 12.8,1040.0 10.0,1038.0 C7.2,1036.0 4.2,1032.7 3.0,1030.0Z" fill="#f2f200" filter="url(#sh1_000)"/>
<path d="M44.4,1002.2 C42.8,1000.2 48.7,999.3 50.4,996.3 C52.1,993.3 52.8,986.9 54.8,984.4 C56.8,981.9 59.5,982.3 62.2,981.5 C64.9,980.7 67.6,979.6 71.1,979.5 C74.6,979.4 80.0,979.7 83.0,981.0 C86.0,982.3 87.6,984.7 88.9,987.4 C90.2,990.1 89.5,994.2 91.0,997.0 C92.5,999.8 95.0,1002.4 97.8,1004.1 C100.6,1005.8 105.7,1005.3 108.1,1007.0 C110.5,1008.7 111.5,1011.4 112.0,1014.4 C112.5,1017.4 110.0,1022.6 111.1,1024.8 C112.2,1027.0 115.3,1027.4 118.5,1027.8 C121.7,1028.2 126.4,1026.6 130.0,1027.0 C133.6,1027.4 137.3,1028.5 140.0,1030.0 C142.7,1031.5 144.3,1034.2 146.0,1036.0 C147.7,1037.8 148.6,1039.8 150.0,1041.0 C151.4,1042.2 152.7,1042.0 154.4,1043.3 C156.1,1044.6 158.8,1045.8 160.0,1048.9 C161.2,1052.1 162.0,1057.8 161.5,1062.2 C161.0,1066.7 158.4,1072.3 157.0,1075.6 C155.6,1078.9 155.1,1079.8 153.3,1082.2 C151.5,1084.6 148.9,1087.4 146.0,1090.0 C143.1,1092.6 138.7,1095.8 136.0,1098.0 C133.3,1100.2 132.8,1102.0 130.0,1103.3 C127.2,1104.6 122.6,1105.8 118.9,1105.6 C115.2,1105.4 110.6,1104.1 107.8,1102.2 C105.0,1100.3 103.5,1097.0 102.0,1094.0 C100.5,1091.0 101.0,1085.8 99.0,1084.0 C97.0,1082.2 92.3,1083.7 90.0,1083.0 C87.7,1082.3 86.7,1082.2 85.0,1080.0 C83.3,1077.8 82.2,1073.3 80.0,1070.0 C77.8,1066.7 73.0,1064.2 72.0,1060.0 C71.0,1055.8 72.7,1050.0 74.0,1045.0 C75.3,1040.0 79.8,1035.0 80.0,1030.0 C80.2,1025.0 78.3,1018.7 75.0,1015.0 C71.7,1011.3 65.1,1010.1 60.0,1008.0 C54.9,1005.9 46.0,1004.2 44.4,1002.2Z" fill="#f2f200" filter="url(#sh1_000)"/>
<path d="M5.9,1008.1 C5.9,1005.7 7.4,1003.0 8.9,1001.5 C10.4,1000.0 12.6,999.3 14.8,999.3 C17.0,999.3 19.7,1000.4 22.2,1001.5 C24.7,1002.6 27.4,1004.7 29.6,1005.9 C31.8,1007.1 33.1,1008.5 35.6,1008.9 C38.1,1009.3 41.5,1008.6 44.4,1008.1 C47.3,1007.6 50.8,1006.9 53.3,1005.9 C55.8,1004.9 57.3,1003.8 59.3,1002.2 C61.3,1000.6 63.0,997.9 65.2,996.3 C67.4,994.7 70.1,993.2 72.6,992.6 C75.1,992.0 77.9,992.0 80.0,992.6 C82.1,993.2 84.1,994.7 85.2,996.3 C86.3,997.9 86.7,1000.0 86.7,1002.2 C86.7,1004.4 85.3,1007.3 85.2,1009.6 C85.1,1011.9 85.4,1014.0 86.0,1016.0 C86.6,1018.0 87.4,1019.4 88.9,1021.5 C90.4,1023.6 93.0,1027.0 94.8,1028.9 C96.6,1030.8 99.0,1031.0 100.0,1033.0 C101.0,1035.0 100.4,1038.1 101.1,1041.1 C101.8,1044.1 104.2,1048.3 104.4,1051.1 C104.6,1053.9 101.8,1055.2 102.2,1057.8 C102.6,1060.4 106.1,1063.7 106.7,1066.7 C107.3,1069.7 106.7,1073.2 105.6,1075.6 C104.5,1078.0 102.2,1080.2 100.0,1081.1 C97.8,1082.0 95.0,1082.0 92.2,1081.1 C89.4,1080.2 85.9,1078.4 83.3,1075.6 C80.7,1072.8 78.2,1068.1 76.7,1064.4 C75.2,1060.7 74.8,1056.6 74.4,1053.3 C74.0,1050.0 76.2,1046.6 74.4,1044.4 C72.6,1042.2 67.0,1040.9 63.3,1040.0 C59.5,1039.1 55.8,1039.2 51.9,1039.0 C48.0,1038.8 42.5,1040.2 40.0,1039.0 C37.5,1037.8 38.5,1033.7 37.0,1032.0 C35.5,1030.3 33.6,1029.9 31.1,1028.9 C28.6,1027.9 24.9,1027.1 22.2,1025.9 C19.5,1024.7 17.0,1023.1 14.8,1021.5 C12.6,1019.9 10.5,1018.2 9.0,1016.0 C7.5,1013.8 5.9,1010.5 5.9,1008.1Z" fill="#e60000" filter="url(#sh1_000)"/>
<path d="M31.0,1039.0 C33.6,1037.3 39.7,1037.8 45.0,1038.0 C50.3,1038.2 58.1,1038.9 63.0,1040.0 C67.9,1041.1 72.5,1042.6 74.4,1044.4 C76.3,1046.2 75.8,1049.7 74.4,1051.0 C73.0,1052.3 68.4,1050.8 66.0,1052.0 C63.6,1053.2 61.7,1055.7 60.0,1058.0 C58.3,1060.3 57.2,1063.3 56.0,1066.0 C54.8,1068.7 54.8,1072.4 53.0,1074.0 C51.2,1075.6 47.8,1075.5 45.0,1075.5 C42.2,1075.5 38.5,1075.2 36.0,1074.0 C33.5,1072.8 31.3,1070.7 30.0,1068.0 C28.7,1065.3 28.1,1061.3 28.0,1058.0 C27.9,1054.7 29.0,1051.2 29.5,1048.0 C30.0,1044.8 28.4,1040.7 31.0,1039.0Z" fill="#0000e6" filter="url(#sh1_000)"/>
<path d="M63.0,1062.0 C63.4,1060.3 66.0,1059.5 68.0,1059.0 C70.0,1058.5 73.3,1057.8 75.0,1059.0 C76.7,1060.2 76.5,1063.2 78.0,1066.0 C79.5,1068.8 82.0,1073.5 84.0,1076.0 C86.0,1078.5 88.7,1079.3 90.0,1081.0 C91.3,1082.7 92.7,1085.0 92.0,1086.0 C91.3,1087.0 88.3,1087.7 86.0,1087.0 C83.7,1086.3 80.7,1083.7 78.0,1082.0 C75.3,1080.3 72.1,1079.2 70.0,1077.0 C67.9,1074.8 66.8,1071.5 65.6,1069.0 C64.4,1066.5 62.6,1063.7 63.0,1062.0Z" fill="#0000e6" filter="url(#sh1_000)"/>
<path d="M103.3,1042.2 C103.9,1038.5 105.8,1033.5 107.8,1031.1 C109.8,1028.7 112.4,1028.7 115.0,1028.0 C117.6,1027.3 119.7,1026.5 123.3,1026.7 C126.9,1026.9 133.0,1027.1 136.7,1028.9 C140.4,1030.8 143.8,1034.8 145.6,1037.8 C147.4,1040.8 148.6,1044.1 147.8,1046.7 C147.1,1049.3 144.1,1051.8 141.1,1053.3 C138.1,1054.8 133.0,1054.1 130.0,1055.6 C127.0,1057.1 125.1,1059.2 123.3,1062.2 C121.5,1065.2 120.8,1071.1 118.9,1073.3 C117.1,1075.5 114.2,1076.3 112.2,1075.6 C110.2,1074.9 108.0,1072.6 106.7,1068.9 C105.4,1065.2 105.0,1057.8 104.4,1053.3 C103.8,1048.8 102.7,1045.9 103.3,1042.2Z" fill="#0000e6" filter="url(#sh1_000)"/>
<path d="M123.3,1060.0 C125.5,1057.0 131.1,1056.0 134.4,1055.6 C137.7,1055.2 140.5,1056.3 143.3,1057.8 C146.1,1059.3 149.4,1061.8 151.1,1064.4 C152.8,1067.0 153.5,1070.3 153.3,1073.3 C153.1,1076.3 151.7,1080.0 150.0,1082.2 C148.3,1084.4 145.9,1086.1 143.3,1086.7 C140.7,1087.3 137.0,1086.7 134.4,1085.6 C131.8,1084.5 130.0,1082.0 127.8,1080.0 C125.6,1078.0 121.8,1076.6 121.1,1073.3 C120.3,1070.0 121.1,1063.0 123.3,1060.0Z" fill="#e60000" filter="url(#sh1_000)"/>
<path d="M103.3,1080.0 C105.6,1078.3 111.1,1076.7 114.4,1076.7 C117.7,1076.7 120.1,1078.3 123.3,1080.0 C126.5,1081.7 131.2,1084.5 133.3,1086.7 C135.4,1088.9 136.2,1091.5 135.6,1093.3 C135.0,1095.1 132.8,1096.7 130.0,1097.8 C127.2,1098.9 122.6,1099.8 118.9,1100.0 C115.2,1100.2 110.8,1100.0 107.8,1098.9 C104.8,1097.8 102.3,1095.3 101.1,1093.3 C99.9,1091.3 100.3,1088.9 100.7,1086.7 C101.1,1084.5 101.0,1081.7 103.3,1080.0Z" fill="#e60000" filter="url(#sh1_000)"/>
</g>
<g transform="translate(190.0,1000.0) scale(0.22222)">
<path d="M500.0,300.0 C502.5,305.0 510.0,318.3 515.0,330.0 C520.0,341.7 524.2,358.3 530.0,370.0 C535.8,381.7 541.7,393.3 550.0,400.0 C558.3,406.7 571.7,411.7 580.0,410.0 C588.3,408.3 598.3,400.0 600.0,390.0 C601.7,380.0 593.3,360.8 590.0,350.0 C586.7,339.2 578.3,330.0 580.0,325.0 C581.7,320.0 596.7,320.8 600.0,320.0" fill="none" stroke="#f0e080" stroke-width="7.0" stroke-linecap="round" stroke-linejoin="round"/>
<path d="M520.0,320.0 C520.8,324.2 524.2,340.8 525.0,345.0" fill="none" stroke="#f0a0a0" stroke-width="7.0" stroke-linecap="round" stroke-linejoin="round"/>
<path d="M580.0,410.0 C578.3,413.3 569.2,422.5 570.0,430.0 C570.8,437.5 578.3,450.8 585.0,455.0 C591.7,459.2 605.0,459.2 610.0,455.0 C615.0,450.8 616.7,436.7 615.0,430.0 C613.3,423.3 602.5,417.5 600.0,415.0" fill="none" stroke="#f4f0b8" stroke-width="7.0" stroke-linecap="round" stroke-linejoin="round"/>
<path d="M460.0,300.0 C456.7,298.3 444.7,289.2 440.0,290.0 C435.3,290.8 431.2,299.7 432.0,305.0 C432.8,310.3 438.7,318.7 445.0,322.0 C451.3,325.3 462.5,327.0 470.0,325.0 C477.5,323.0 485.8,315.0 490.0,310.0 C494.2,305.0 494.2,297.5 495.0,295.0" fill="none" stroke="#e8d000" stroke-width="10.0" stroke-linecap="round" stroke-linejoin="round"/>
<path d="M470.0,322.0 C472.5,320.0 482.5,312.0 485.0,310.0" fill="none" stroke="#e60000" stroke-width="10.0" stroke-linecap="round" stroke-linejoin="round"/>
<path d="M38.0,96.0 C40.3,96.5 47.3,98.3 52.0,99.0 C56.7,99.7 63.7,99.8 66.0,100.0" fill="none" stroke="#cc1010" stroke-width="7.0" stroke-linecap="round" stroke-linejoin="round"/>
</g><g><g transform="translate(190.0,1000.0) scale(0.22222)">

</g></g><path d="M274.7,1045.0 L276.3,1043.1 L270.6,1038.0 L268.9,1039.8Z" fill="#cfcf00" stroke="#cfcf00" stroke-width="0.55"/>
<path d="M276.3,1043.1 L278.0,1041.3 L272.4,1036.3 L270.6,1038.0Z" fill="#cbcb00" stroke="#cbcb00" stroke-width="0.55"/>
<path d="M273.4,1047.0 L274.7,1045.0 L268.9,1039.8 L267.4,1041.7Z" fill="#d2d200" stroke="#d2d200" stroke-width="0.55"/>
<path d="M278.0,1041.3 L279.8,1039.7 L274.2,1034.8 L272.4,1036.3Z" fill="#c7c700" stroke="#c7c700" stroke-width="0.55"/>
<path d="M272.1,1049.0 L273.4,1047.0 L267.4,1041.7 L266.0,1043.7Z" fill="#d5d500" stroke="#d5d500" stroke-width="0.55"/>
<path d="M279.8,1039.7 L281.6,1038.2 L276.2,1033.6 L274.2,1034.8Z" fill="#c2c200" stroke="#c2c200" stroke-width="0.55"/>
<path d="M271.1,1050.9 L272.1,1049.0 L266.0,1043.7 L264.8,1045.7Z" fill="#d6d600" stroke="#d6d600" stroke-width="0.55"/>
<path d="M281.6,1038.2 L283.6,1036.9 L278.1,1032.5 L276.2,1033.6Z" fill="#bdbd00" stroke="#bdbd00" stroke-width="0.55"/>
<path d="M270.3,1052.8 L271.1,1050.9 L264.8,1045.7 L263.8,1047.6Z" fill="#d8d800" stroke="#d8d800" stroke-width="0.55"/>
<path d="M283.6,1036.9 L285.5,1036.0 L280.1,1031.8 L278.1,1032.5Z" fill="#b8b800" stroke="#b8b800" stroke-width="0.55"/>
<path d="M269.6,1054.7 L270.3,1052.8 L263.8,1047.6 L263.0,1049.5Z" fill="#d8d800" stroke="#d8d800" stroke-width="0.55"/>
<path d="M285.5,1036.0 L287.5,1035.2 L282.0,1031.3 L280.1,1031.8Z" fill="#b3b300" stroke="#b3b300" stroke-width="0.55"/>
<path d="M269.2,1056.3 L269.6,1054.7 L263.0,1049.5 L262.4,1051.3Z" fill="#d8d800" stroke="#d8d800" stroke-width="0.55"/>
<path d="M287.5,1035.2 L289.4,1034.8 L283.8,1031.1 L282.0,1031.3Z" fill="#b3b300" stroke="#b3b300" stroke-width="0.55"/>
<path d="M269.0,1057.8 L269.2,1056.3 L262.4,1051.3 L262.0,1053.0Z" fill="#d7d700" stroke="#d7d700" stroke-width="0.55"/>
<path d="M289.4,1034.8 L291.2,1034.7 L285.6,1031.3 L283.8,1031.1Z" fill="#b3b300" stroke="#b3b300" stroke-width="0.55"/>
<path d="M291.2,1034.7 L293.0,1034.8 L287.3,1031.7 L285.6,1031.3Z" fill="#b3b300" stroke="#b3b300" stroke-width="0.55"/>
<path d="M269.0,1059.0 L269.0,1057.8 L262.0,1053.0 L261.8,1054.4Z" fill="#d5d500" stroke="#d5d500" stroke-width="0.55"/>
<path d="M293.0,1034.8 L294.7,1035.3 L288.8,1032.5 L287.3,1031.7Z" fill="#b3b300" stroke="#b3b300" stroke-width="0.55"/>
<path d="M269.2,1060.1 L269.0,1059.0 L261.8,1054.4 L261.8,1055.6Z" fill="#d2d200" stroke="#d2d200" stroke-width="0.55"/>
<path d="M293.5,1070.1 L292.5,1070.8 L284.5,1067.7 L285.4,1067.2Z" fill="#960000" stroke="#960000" stroke-width="0.55"/>
<path d="M294.7,1035.3 L296.2,1036.1 L290.2,1033.6 L288.8,1032.5Z" fill="#b20000" stroke="#b20000" stroke-width="0.55"/>
<path d="M255.5,1033.8 L257.2,1032.0 L251.5,1027.0 L249.8,1028.7Z" fill="#cccc00" stroke="#cccc00" stroke-width="0.55"/>
<path d="M254.0,1035.8 L255.5,1033.8 L249.8,1028.7 L248.2,1030.5Z" fill="#d0d000" stroke="#d0d000" stroke-width="0.55"/>
<path d="M257.2,1032.0 L258.9,1030.3 L253.4,1025.4 L251.5,1027.0Z" fill="#c8c800" stroke="#c8c800" stroke-width="0.55"/>
<path d="M252.7,1037.7 L254.0,1035.8 L248.2,1030.5 L246.7,1032.5Z" fill="#d3d300" stroke="#d3d300" stroke-width="0.55"/>
<path d="M269.6,1060.8 L269.2,1060.1 L261.8,1055.6 L262.0,1056.6Z" fill="#cfcf00" stroke="#cfcf00" stroke-width="0.55"/>
<path d="M294.5,1069.2 L293.5,1070.1 L285.4,1067.2 L286.4,1066.5Z" fill="#980000" stroke="#980000" stroke-width="0.55"/>
<path d="M258.9,1030.3 L260.8,1028.8 L255.3,1024.1 L253.4,1025.4Z" fill="#c4c400" stroke="#c4c400" stroke-width="0.55"/>
<path d="M251.5,1039.7 L252.7,1037.7 L246.7,1032.5 L245.3,1034.5Z" fill="#d5d500" stroke="#d5d500" stroke-width="0.55"/>
<path d="M296.2,1036.1 L297.5,1037.2 L291.3,1034.9 L290.2,1033.6Z" fill="#ba0000" stroke="#ba0000" stroke-width="0.55"/>
<path d="M260.8,1028.8 L262.7,1027.5 L257.2,1023.0 L255.3,1024.1Z" fill="#bfbf00" stroke="#bfbf00" stroke-width="0.55"/>
<path d="M250.6,1041.7 L251.5,1039.7 L245.3,1034.5 L244.2,1036.4Z" fill="#d7d700" stroke="#d7d700" stroke-width="0.55"/>
<path d="M295.5,1067.9 L294.5,1069.2 L286.4,1066.5 L287.4,1065.5Z" fill="#9e0000" stroke="#9e0000" stroke-width="0.55"/>
<path d="M262.7,1027.5 L264.7,1026.4 L259.2,1022.1 L257.2,1023.0Z" fill="#baba00" stroke="#baba00" stroke-width="0.55"/>
<path d="M270.1,1061.2 L269.6,1060.8 L262.0,1056.6 L262.4,1057.3Z" fill="#cccc00" stroke="#cccc00" stroke-width="0.55"/>
<path d="M249.8,1043.6 L250.6,1041.7 L244.2,1036.4 L243.3,1038.4Z" fill="#d8d800" stroke="#d8d800" stroke-width="0.55"/>
<path d="M297.5,1037.2 L298.7,1038.6 L292.3,1036.5 L291.3,1034.9Z" fill="#c10000" stroke="#c10000" stroke-width="0.55"/>
<path d="M264.7,1026.4 L266.6,1025.6 L261.1,1021.6 L259.2,1022.1Z" fill="#b5b500" stroke="#b5b500" stroke-width="0.55"/>
<path d="M249.2,1045.3 L249.8,1043.6 L243.3,1038.4 L242.5,1040.3Z" fill="#d8d800" stroke="#d8d800" stroke-width="0.55"/>
<path d="M296.6,1066.4 L295.5,1067.9 L287.4,1065.5 L288.4,1064.2Z" fill="#a70000" stroke="#a70000" stroke-width="0.55"/>
<path d="M298.7,1038.6 L299.6,1040.2 L293.1,1038.3 L292.3,1036.5Z" fill="#c80000" stroke="#c80000" stroke-width="0.55"/>
<path d="M270.8,1061.4 L270.1,1061.2 L262.4,1057.3 L263.0,1057.8Z" fill="#00008e" stroke="#00008e" stroke-width="0.55"/>
<path d="M266.6,1025.6 L268.5,1025.0 L263.0,1021.3 L261.1,1021.6Z" fill="#b3b300" stroke="#b3b300" stroke-width="0.55"/>
<path d="M248.9,1046.9 L249.2,1045.3 L242.5,1040.3 L242.0,1042.0Z" fill="#d7d700" stroke="#d7d700" stroke-width="0.55"/>
<path d="M297.6,1064.6 L296.6,1066.4 L288.4,1064.2 L289.5,1062.7Z" fill="#b00000" stroke="#b00000" stroke-width="0.55"/>
<path d="M299.6,1040.2 L300.4,1042.0 L293.7,1040.3 L293.1,1038.3Z" fill="#cd0000" stroke="#cd0000" stroke-width="0.55"/>
<path d="M268.5,1025.0 L270.4,1024.8 L264.8,1021.3 L263.0,1021.3Z" fill="#b3b300" stroke="#b3b300" stroke-width="0.55"/>
<path d="M298.5,1062.6 L297.6,1064.6 L289.5,1062.7 L290.5,1060.9Z" fill="#b80000" stroke="#b80000" stroke-width="0.55"/>
<path d="M300.4,1042.0 L301.0,1044.1 L294.1,1042.5 L293.7,1040.3Z" fill="#d10000" stroke="#d10000" stroke-width="0.55"/>
<path d="M271.6,1061.2 L270.8,1061.4 L263.0,1057.8 L263.7,1057.9Z" fill="#000091" stroke="#000091" stroke-width="0.55"/>
<path d="M248.8,1048.3 L248.9,1046.9 L242.0,1042.0 L241.7,1043.6Z" fill="#d6d600" stroke="#d6d600" stroke-width="0.55"/>
<path d="M301.0,1044.1 L301.3,1046.3 L294.3,1044.8 L294.1,1042.5Z" fill="#d30000" stroke="#d30000" stroke-width="0.55"/>
<path d="M299.4,1060.5 L298.5,1062.6 L290.5,1060.9 L291.4,1058.9Z" fill="#c00000" stroke="#c00000" stroke-width="0.55"/>
<path d="M270.4,1024.8 L272.2,1024.9 L266.5,1021.7 L264.8,1021.3Z" fill="#b3b300" stroke="#b3b300" stroke-width="0.55"/>
<path d="M301.3,1046.3 L301.5,1048.6 L294.2,1047.2 L294.3,1044.8Z" fill="#d50000" stroke="#d50000" stroke-width="0.55"/>
<path d="M300.1,1058.2 L299.4,1060.5 L291.4,1058.9 L292.3,1056.7Z" fill="#c60000" stroke="#c60000" stroke-width="0.55"/>
<path d="M301.5,1048.6 L301.4,1051.0 L294.0,1049.6 L294.2,1047.2Z" fill="#d40000" stroke="#d40000" stroke-width="0.55"/>
<path d="M248.8,1049.5 L248.8,1048.3 L241.7,1043.6 L241.5,1045.0Z" fill="#d4d400" stroke="#d4d400" stroke-width="0.55"/>
<path d="M272.6,1060.8 L271.6,1061.2 L263.7,1057.9 L264.5,1057.7Z" fill="#000094" stroke="#000094" stroke-width="0.55"/>
<path d="M300.7,1055.9 L300.1,1058.2 L292.3,1056.7 L293.0,1054.5Z" fill="#cc0000" stroke="#cc0000" stroke-width="0.55"/>
<path d="M301.4,1051.0 L301.2,1053.4 L293.6,1052.1 L294.0,1049.6Z" fill="#d30000" stroke="#d30000" stroke-width="0.55"/>
<path d="M301.2,1053.4 L300.7,1055.9 L293.0,1054.5 L293.6,1052.1Z" fill="#d00000" stroke="#d00000" stroke-width="0.55"/>
<path d="M272.2,1024.9 L273.9,1025.3 L268.1,1022.3 L266.5,1021.7Z" fill="#b3b300" stroke="#b3b300" stroke-width="0.55"/>
<path d="M249.1,1050.5 L248.8,1049.5 L241.5,1045.0 L241.6,1046.1Z" fill="#d2d200" stroke="#d2d200" stroke-width="0.55"/>
<path d="M273.9,1025.3 L275.5,1026.0 L269.5,1023.3 L268.1,1022.3Z" fill="#0000af" stroke="#0000af" stroke-width="0.55"/>
<path d="M273.6,1060.0 L272.6,1060.8 L264.5,1057.7 L265.5,1057.2Z" fill="#000096" stroke="#000096" stroke-width="0.55"/>
<path d="M234.8,1024.6 L236.4,1022.7 L230.7,1017.6 L229.0,1019.4Z" fill="#cece00" stroke="#cece00" stroke-width="0.55"/>
<path d="M233.3,1026.5 L234.8,1024.6 L229.0,1019.4 L227.4,1021.3Z" fill="#d1d100" stroke="#d1d100" stroke-width="0.55"/>
<path d="M236.4,1022.7 L238.1,1021.0 L232.5,1016.0 L230.7,1017.6Z" fill="#caca00" stroke="#caca00" stroke-width="0.55"/>
<path d="M232.1,1028.5 L233.3,1026.5 L227.4,1021.3 L226.0,1023.2Z" fill="#d4d400" stroke="#d4d400" stroke-width="0.55"/>
<path d="M238.1,1021.0 L239.9,1019.4 L234.4,1014.6 L232.5,1016.0Z" fill="#c5c500" stroke="#c5c500" stroke-width="0.55"/>
<path d="M275.5,1026.0 L276.8,1027.0 L270.7,1024.6 L269.5,1023.3Z" fill="#0000b7" stroke="#0000b7" stroke-width="0.55"/>
<path d="M231.0,1030.5 L232.1,1028.5 L226.0,1023.2 L224.7,1025.2Z" fill="#d6d600" stroke="#d6d600" stroke-width="0.55"/>
<path d="M274.6,1058.9 L273.6,1060.0 L265.5,1057.2 L266.5,1056.4Z" fill="#000099" stroke="#000099" stroke-width="0.55"/>
<path d="M249.5,1051.1 L249.1,1050.5 L241.6,1046.1 L241.9,1047.0Z" fill="#cece00" stroke="#cece00" stroke-width="0.55"/>
<path d="M239.9,1019.4 L241.8,1018.0 L236.4,1013.4 L234.4,1014.6Z" fill="#c1c100" stroke="#c1c100" stroke-width="0.55"/>
<path d="M230.1,1032.4 L231.0,1030.5 L224.7,1025.2 L223.6,1027.2Z" fill="#d7d700" stroke="#d7d700" stroke-width="0.55"/>
<path d="M241.8,1018.0 L243.8,1016.8 L238.3,1012.5 L236.4,1013.4Z" fill="#bcbc00" stroke="#bcbc00" stroke-width="0.55"/>
<path d="M276.8,1027.0 L278.1,1028.2 L271.8,1026.1 L270.7,1024.6Z" fill="#0000bf" stroke="#0000bf" stroke-width="0.55"/>
<path d="M275.6,1057.6 L274.6,1058.9 L266.5,1056.4 L267.5,1055.3Z" fill="#0000a1" stroke="#0000a1" stroke-width="0.55"/>
<path d="M229.4,1034.3 L230.1,1032.4 L223.6,1027.2 L222.8,1029.1Z" fill="#d8d800" stroke="#d8d800" stroke-width="0.55"/>
<path d="M243.8,1016.8 L245.7,1015.9 L240.3,1011.8 L238.3,1012.5Z" fill="#b6b600" stroke="#b6b600" stroke-width="0.55"/>
<path d="M250.1,1051.5 L249.5,1051.1 L241.9,1047.0 L242.4,1047.6Z" fill="#cbcb00" stroke="#cbcb00" stroke-width="0.55"/>
<path d="M278.1,1028.2 L279.1,1029.8 L272.7,1027.8 L271.8,1026.1Z" fill="#0000c6" stroke="#0000c6" stroke-width="0.55"/>
<path d="M245.7,1015.9 L247.7,1015.3 L242.2,1011.5 L240.3,1011.8Z" fill="#b3b300" stroke="#b3b300" stroke-width="0.55"/>
<path d="M228.9,1036.0 L229.4,1034.3 L222.8,1029.1 L222.1,1031.0Z" fill="#d8d800" stroke="#d8d800" stroke-width="0.55"/>
<path d="M276.7,1056.0 L275.6,1057.6 L267.5,1055.3 L268.5,1053.9Z" fill="#0000aa" stroke="#0000aa" stroke-width="0.55"/>
<path d="M279.1,1029.8 L279.9,1031.5 L273.3,1029.8 L272.7,1027.8Z" fill="#0000cb" stroke="#0000cb" stroke-width="0.55"/>
<path d="M250.8,1051.5 L250.1,1051.5 L242.4,1047.6 L243.0,1048.0Z" fill="#8f0000" stroke="#8f0000" stroke-width="0.55"/>
<path d="M247.7,1015.3 L249.6,1015.0 L244.0,1011.4 L242.2,1011.5Z" fill="#b3b300" stroke="#b3b300" stroke-width="0.55"/>
<path d="M277.7,1054.1 L276.7,1056.0 L268.5,1053.9 L269.6,1052.3Z" fill="#0000b3" stroke="#0000b3" stroke-width="0.55"/>
<path d="M228.6,1037.5 L228.9,1036.0 L222.1,1031.0 L221.6,1032.7Z" fill="#d7d700" stroke="#d7d700" stroke-width="0.55"/>
<path d="M279.9,1031.5 L280.6,1033.5 L273.8,1031.9 L273.3,1029.8Z" fill="#0000d0" stroke="#0000d0" stroke-width="0.55"/>
<path d="M278.6,1052.1 L277.7,1054.1 L269.6,1052.3 L270.6,1050.4Z" fill="#0000bb" stroke="#0000bb" stroke-width="0.55"/>
<path d="M249.6,1015.0 L251.4,1014.9 L245.7,1011.7 L244.0,1011.4Z" fill="#b3b300" stroke="#b3b300" stroke-width="0.55"/>
<path d="M280.6,1033.5 L281.0,1035.7 L274.0,1034.2 L273.8,1031.9Z" fill="#0000d3" stroke="#0000d3" stroke-width="0.55"/>
<path d="M251.7,1051.2 L250.8,1051.5 L243.0,1048.0 L243.7,1048.0Z" fill="#920000" stroke="#920000" stroke-width="0.55"/>
<path d="M228.5,1038.9 L228.6,1037.5 L221.6,1032.7 L221.4,1034.2Z" fill="#d6d600" stroke="#d6d600" stroke-width="0.55"/>
<path d="M279.4,1049.9 L278.6,1052.1 L270.6,1050.4 L271.5,1048.3Z" fill="#0000c2" stroke="#0000c2" stroke-width="0.55"/>
<path d="M281.0,1035.7 L281.2,1038.0 L274.0,1036.6 L274.0,1034.2Z" fill="#0000d4" stroke="#0000d4" stroke-width="0.55"/>
<path d="M280.1,1047.6 L279.4,1049.9 L271.5,1048.3 L272.3,1046.1Z" fill="#0000c8" stroke="#0000c8" stroke-width="0.55"/>
<path d="M281.2,1038.0 L281.2,1040.3 L273.8,1039.0 L274.0,1036.6Z" fill="#0000d5" stroke="#0000d5" stroke-width="0.55"/>
<path d="M251.4,1014.9 L253.1,1015.2 L247.3,1012.2 L245.7,1011.7Z" fill="#b3b300" stroke="#b3b300" stroke-width="0.55"/>
<path d="M280.6,1045.2 L280.1,1047.6 L272.3,1046.1 L273.0,1043.8Z" fill="#0000cd" stroke="#0000cd" stroke-width="0.55"/>
<path d="M281.2,1040.3 L281.0,1042.8 L273.5,1041.4 L273.8,1039.0Z" fill="#0000d4" stroke="#0000d4" stroke-width="0.55"/>
<path d="M281.0,1042.8 L280.6,1045.2 L273.0,1043.8 L273.5,1041.4Z" fill="#0000d1" stroke="#0000d1" stroke-width="0.55"/>
<path d="M228.6,1040.0 L228.5,1038.9 L221.4,1034.2 L221.3,1035.5Z" fill="#d3d300" stroke="#d3d300" stroke-width="0.55"/>
<path d="M252.6,1050.7 L251.7,1051.2 L243.7,1048.0 L244.6,1047.7Z" fill="#950000" stroke="#950000" stroke-width="0.55"/>
<path d="M253.1,1015.2 L254.7,1015.8 L248.8,1013.1 L247.3,1012.2Z" fill="#b3b300" stroke="#b3b300" stroke-width="0.55"/>
<path d="M229.0,1040.8 L228.6,1040.0 L221.3,1035.5 L221.5,1036.6Z" fill="#d1d100" stroke="#d1d100" stroke-width="0.55"/>
<path d="M253.7,1049.8 L252.6,1050.7 L244.6,1047.7 L245.5,1047.1Z" fill="#970000" stroke="#970000" stroke-width="0.55"/>
<path d="M214.1,1015.3 L215.6,1013.4 L209.9,1008.3 L208.2,1010.1Z" fill="#cfcf00" stroke="#cfcf00" stroke-width="0.55"/>
<path d="M215.6,1013.4 L217.3,1011.6 L211.7,1006.7 L209.9,1008.3Z" fill="#cbcb00" stroke="#cbcb00" stroke-width="0.55"/>
<path d="M212.7,1017.3 L214.1,1015.3 L208.2,1010.1 L206.7,1012.0Z" fill="#d2d200" stroke="#d2d200" stroke-width="0.55"/>
<path d="M254.7,1015.8 L256.2,1016.7 L250.1,1014.3 L248.8,1013.1Z" fill="#b50000" stroke="#b50000" stroke-width="0.55"/>
<path d="M217.3,1011.6 L219.1,1010.0 L213.6,1005.2 L211.7,1006.7Z" fill="#c7c700" stroke="#c7c700" stroke-width="0.55"/>
<path d="M211.4,1019.3 L212.7,1017.3 L206.7,1012.0 L205.3,1014.0Z" fill="#d4d400" stroke="#d4d400" stroke-width="0.55"/>
<path d="M219.1,1010.0 L221.0,1008.5 L215.5,1003.9 L213.6,1005.2Z" fill="#c2c200" stroke="#c2c200" stroke-width="0.55"/>
<path d="M210.4,1021.3 L211.4,1019.3 L205.3,1014.0 L204.1,1016.0Z" fill="#d6d600" stroke="#d6d600" stroke-width="0.55"/>
<path d="M254.7,1048.6 L253.7,1049.8 L245.5,1047.1 L246.6,1046.2Z" fill="#9a0000" stroke="#9a0000" stroke-width="0.55"/>
<path d="M221.0,1008.5 L222.9,1007.3 L217.4,1002.9 L215.5,1003.9Z" fill="#bdbd00" stroke="#bdbd00" stroke-width="0.55"/>
<path d="M256.2,1016.7 L257.5,1017.9 L251.2,1015.7 L250.1,1014.3Z" fill="#bd0000" stroke="#bd0000" stroke-width="0.55"/>
<path d="M229.4,1041.4 L229.0,1040.8 L221.5,1036.6 L221.8,1037.4Z" fill="#cdcd00" stroke="#cdcd00" stroke-width="0.55"/>
<path d="M209.6,1023.2 L210.4,1021.3 L204.1,1016.0 L203.1,1018.0Z" fill="#d8d800" stroke="#d8d800" stroke-width="0.55"/>
<path d="M222.9,1007.3 L224.9,1006.3 L219.4,1002.1 L217.4,1002.9Z" fill="#b8b800" stroke="#b8b800" stroke-width="0.55"/>
<path d="M257.5,1017.9 L258.6,1019.4 L252.2,1017.4 L251.2,1015.7Z" fill="#c40000" stroke="#c40000" stroke-width="0.55"/>
<path d="M255.7,1047.2 L254.7,1048.6 L246.6,1046.2 L247.6,1045.0Z" fill="#a40000" stroke="#a40000" stroke-width="0.55"/>
<path d="M208.9,1025.0 L209.6,1023.2 L203.1,1018.0 L202.3,1019.9Z" fill="#d8d800" stroke="#d8d800" stroke-width="0.55"/>
<path d="M224.9,1006.3 L226.8,1005.6 L221.3,1001.7 L219.4,1002.1Z" fill="#b3b300" stroke="#b3b300" stroke-width="0.55"/>
<path d="M230.1,1041.6 L229.4,1041.4 L221.8,1037.4 L222.3,1037.9Z" fill="#c9c900" stroke="#c9c900" stroke-width="0.55"/>
<path d="M258.6,1019.4 L259.5,1021.1 L252.9,1019.3 L252.2,1017.4Z" fill="#ca0000" stroke="#ca0000" stroke-width="0.55"/>
<path d="M208.5,1026.7 L208.9,1025.0 L202.3,1019.9 L201.7,1021.7Z" fill="#d8d800" stroke="#d8d800" stroke-width="0.55"/>
<path d="M256.8,1045.5 L255.7,1047.2 L247.6,1045.0 L248.6,1043.5Z" fill="#ad0000" stroke="#ad0000" stroke-width="0.55"/>
<path d="M226.8,1005.6 L228.7,1005.2 L223.2,1001.5 L221.3,1001.7Z" fill="#b3b300" stroke="#b3b300" stroke-width="0.55"/>
<path d="M259.5,1021.1 L260.2,1023.0 L253.4,1021.3 L252.9,1019.3Z" fill="#ce0000" stroke="#ce0000" stroke-width="0.55"/>
<path d="M230.9,1041.6 L230.1,1041.6 L222.3,1037.9 L223.0,1038.1Z" fill="#000090" stroke="#000090" stroke-width="0.55"/>
<path d="M257.7,1043.6 L256.8,1045.5 L248.6,1043.5 L249.7,1041.8Z" fill="#b60000" stroke="#b60000" stroke-width="0.55"/>
<path d="M208.3,1028.1 L208.5,1026.7 L201.7,1021.7 L201.3,1023.3Z" fill="#d7d700" stroke="#d7d700" stroke-width="0.55"/>
<path d="M228.7,1005.2 L230.6,1005.0 L224.9,1001.7 L223.2,1001.5Z" fill="#b3b300" stroke="#b3b300" stroke-width="0.55"/>
<path d="M260.2,1023.0 L260.6,1025.1 L253.7,1023.6 L253.4,1021.3Z" fill="#d20000" stroke="#d20000" stroke-width="0.55"/>
<path d="M258.6,1041.5 L257.7,1043.6 L249.7,1041.8 L250.6,1039.9Z" fill="#bd0000" stroke="#bd0000" stroke-width="0.55"/>
<path d="M260.6,1025.1 L260.9,1027.3 L253.8,1025.9 L253.7,1023.6Z" fill="#d40000" stroke="#d40000" stroke-width="0.55"/>
<path d="M259.4,1039.3 L258.6,1041.5 L250.6,1039.9 L251.5,1037.8Z" fill="#c40000" stroke="#c40000" stroke-width="0.55"/>
<path d="M231.8,1041.2 L230.9,1041.6 L223.0,1038.1 L223.8,1038.0Z" fill="#000093" stroke="#000093" stroke-width="0.55"/>
<path d="M230.6,1005.0 L232.3,1005.2 L226.6,1002.1 L224.9,1001.7Z" fill="#b3b300" stroke="#b3b300" stroke-width="0.55"/>
<path d="M260.9,1027.3 L261.0,1029.7 L253.7,1028.3 L253.8,1025.9Z" fill="#d50000" stroke="#d50000" stroke-width="0.55"/>
<path d="M260.0,1037.0 L259.4,1039.3 L251.5,1037.8 L252.3,1035.5Z" fill="#ca0000" stroke="#ca0000" stroke-width="0.55"/>
<path d="M261.0,1029.7 L260.9,1032.1 L253.4,1030.8 L253.7,1028.3Z" fill="#d40000" stroke="#d40000" stroke-width="0.55"/>
<path d="M260.5,1034.5 L260.0,1037.0 L252.3,1035.5 L252.9,1033.2Z" fill="#cf0000" stroke="#cf0000" stroke-width="0.55"/>
<path d="M260.9,1032.1 L260.5,1034.5 L252.9,1033.2 L253.4,1030.8Z" fill="#d20000" stroke="#d20000" stroke-width="0.55"/>
<path d="M232.3,1005.2 L234.0,1005.7 L228.1,1002.9 L226.6,1002.1Z" fill="#b3b300" stroke="#b3b300" stroke-width="0.55"/>
<path d="M232.7,1040.6 L231.8,1041.2 L223.8,1038.0 L224.7,1037.6Z" fill="#000096" stroke="#000096" stroke-width="0.55"/>
<path d="M234.0,1005.7 L235.5,1006.5 L229.5,1004.0 L228.1,1002.9Z" fill="#b20000" stroke="#b20000" stroke-width="0.55"/>
<path d="M233.8,1039.6 L232.7,1040.6 L224.7,1037.6 L225.6,1036.9Z" fill="#000098" stroke="#000098" stroke-width="0.55"/>
<path d="M235.5,1006.5 L236.8,1007.6 L230.7,1005.3 L229.5,1004.0Z" fill="#ba0000" stroke="#ba0000" stroke-width="0.55"/>
<path d="M234.8,1038.3 L233.8,1039.6 L225.6,1036.9 L226.7,1035.9Z" fill="#00009d" stroke="#00009d" stroke-width="0.55"/>
<path d="M236.8,1007.6 L238.0,1009.0 L231.6,1006.9 L230.7,1005.3Z" fill="#c20000" stroke="#c20000" stroke-width="0.55"/>
<path d="M235.8,1036.8 L234.8,1038.3 L226.7,1035.9 L227.7,1034.7Z" fill="#0000a7" stroke="#0000a7" stroke-width="0.55"/>
<path d="M238.0,1009.0 L239.0,1010.6 L232.4,1008.7 L231.6,1006.9Z" fill="#c80000" stroke="#c80000" stroke-width="0.55"/>
<path d="M236.9,1035.1 L235.8,1036.8 L227.7,1034.7 L228.7,1033.1Z" fill="#0000b0" stroke="#0000b0" stroke-width="0.55"/>
<path d="M239.0,1010.6 L239.7,1012.5 L233.0,1010.8 L232.4,1008.7Z" fill="#cd0000" stroke="#cd0000" stroke-width="0.55"/>
<path d="M237.8,1033.1 L236.9,1035.1 L228.7,1033.1 L229.7,1031.3Z" fill="#0000b8" stroke="#0000b8" stroke-width="0.55"/>
<path d="M239.7,1012.5 L240.3,1014.5 L233.4,1013.0 L233.0,1010.8Z" fill="#d10000" stroke="#d10000" stroke-width="0.55"/>
<path d="M238.7,1031.0 L237.8,1033.1 L229.7,1031.3 L230.7,1029.3Z" fill="#0000c0" stroke="#0000c0" stroke-width="0.55"/>
<path d="M240.3,1014.5 L240.6,1016.7 L233.5,1015.3 L233.4,1013.0Z" fill="#d30000" stroke="#d30000" stroke-width="0.55"/>
<path d="M240.6,1016.7 L240.8,1019.0 L233.5,1017.7 L233.5,1015.3Z" fill="#d50000" stroke="#d50000" stroke-width="0.55"/>
<path d="M239.4,1028.7 L238.7,1031.0 L230.7,1029.3 L231.5,1027.2Z" fill="#c60000" stroke="#c60000" stroke-width="0.55"/>
<path d="M240.8,1019.0 L240.7,1021.4 L233.3,1020.1 L233.5,1017.7Z" fill="#d40000" stroke="#d40000" stroke-width="0.55"/>
<path d="M240.0,1026.3 L239.4,1028.7 L231.5,1027.2 L232.3,1024.9Z" fill="#cc0000" stroke="#cc0000" stroke-width="0.55"/>
<path d="M240.7,1021.4 L240.4,1023.9 L232.8,1022.5 L233.3,1020.1Z" fill="#d30000" stroke="#d30000" stroke-width="0.55"/>
<path d="M240.4,1023.9 L240.0,1026.3 L232.3,1024.9 L232.8,1022.5Z" fill="#d00000" stroke="#d00000" stroke-width="0.55"/>
<g transform="translate(340.0,985.0) scale(0.26667)">
<path d="M50.0,150.0 C51.7,136.3 54.2,127.2 60.0,118.0 C65.8,108.8 79.7,104.7 85.0,95.0 C90.3,85.3 87.5,69.2 92.0,60.0 C96.5,50.8 104.0,42.5 112.0,40.0 C120.0,37.5 134.0,38.3 140.0,45.0 C146.0,51.7 149.3,68.8 148.0,80.0 C146.7,91.2 137.5,102.0 132.0,112.0 C126.5,122.0 116.7,128.7 115.0,140.0 C113.3,151.3 120.8,163.3 122.0,180.0 C123.2,196.7 125.3,223.3 122.0,240.0 C118.7,256.7 110.3,272.2 102.0,280.0 C93.7,287.8 79.8,290.0 72.0,287.0 C64.2,284.0 58.7,276.5 55.0,262.0 C51.3,247.5 50.8,218.7 50.0,200.0 C49.2,181.3 48.3,163.7 50.0,150.0Z" fill="#ea5a5a" opacity="0.8"/>
</g><g transform="translate(340.0,985.0) scale(0.26667)">
<path d="M20.0,100.0 C22.7,89.3 30.3,82.7 40.0,78.0 C49.7,73.3 68.0,73.3 78.0,72.0 C88.0,70.7 89.7,74.0 100.0,70.0 C110.3,66.0 123.3,53.3 140.0,48.0 C156.7,42.7 183.3,33.5 200.0,38.0 C216.7,42.5 223.3,68.3 240.0,75.0 C256.7,81.7 280.0,73.8 300.0,78.0 C320.0,82.2 340.0,98.3 360.0,100.0 C380.0,101.7 401.7,85.0 420.0,88.0 C438.3,91.0 452.5,100.2 470.0,118.0 C487.5,135.8 505.0,177.7 525.0,195.0 C545.0,212.3 574.2,212.0 590.0,222.0 C605.8,232.0 613.0,237.0 620.0,255.0 C627.0,273.0 626.7,312.8 632.0,330.0 C637.3,347.2 649.8,349.3 652.0,358.0 C654.2,366.7 650.3,376.3 645.0,382.0 C639.7,387.7 626.7,390.7 620.0,392.0 C613.3,393.3 606.7,385.3 605.0,390.0 C603.3,394.7 610.8,411.7 610.0,420.0 C609.2,428.3 605.8,434.7 600.0,440.0 C594.2,445.3 584.2,449.3 575.0,452.0 C565.8,454.7 554.2,458.0 545.0,456.0 C535.8,454.0 526.7,456.0 520.0,440.0 C513.3,424.0 513.3,381.7 505.0,360.0 C496.7,338.3 480.8,322.5 470.0,310.0 C459.2,297.5 448.3,283.3 440.0,285.0 C431.7,286.7 430.0,310.8 420.0,320.0 C410.0,329.2 389.7,334.7 380.0,340.0 C370.3,345.3 368.7,351.2 362.0,352.0 C355.3,352.8 345.3,350.3 340.0,345.0 C334.7,339.7 331.7,330.8 330.0,320.0 C328.3,309.2 335.0,289.7 330.0,280.0 C325.0,270.3 316.7,263.3 300.0,262.0 C283.3,260.7 247.0,269.3 230.0,272.0 C213.0,274.7 207.7,279.0 198.0,278.0 C188.3,277.0 180.0,272.3 172.0,266.0 C164.0,259.7 158.7,246.0 150.0,240.0 C141.3,234.0 126.7,238.3 120.0,230.0 C113.3,221.7 116.3,198.7 110.0,190.0 C103.7,181.3 90.3,178.8 82.0,178.0 C73.7,177.2 67.3,186.3 60.0,185.0 C52.7,183.7 44.0,177.2 38.0,170.0 C32.0,162.8 27.0,153.7 24.0,142.0 C21.0,130.3 17.3,110.7 20.0,100.0Z" fill="#f2f200" filter="url(#sh3_750)"/>
<path d="M140.0,55.0 C143.3,44.2 155.8,37.5 165.0,35.0 C174.2,32.5 187.5,35.0 195.0,40.0 C202.5,45.0 206.5,56.3 210.0,65.0 C213.5,73.7 212.3,86.2 216.0,92.0 C219.7,97.8 230.5,92.0 232.0,100.0 C233.5,108.0 226.7,127.5 225.0,140.0 C223.3,152.5 224.2,165.3 222.0,175.0 C219.8,184.7 218.2,195.2 212.0,198.0 C205.8,200.8 193.7,197.5 185.0,192.0 C176.3,186.5 166.2,174.5 160.0,165.0 C153.8,155.5 150.5,145.8 148.0,135.0 C145.5,124.2 146.3,113.3 145.0,100.0 C143.7,86.7 136.7,65.8 140.0,55.0Z" fill="#e60000" filter="url(#sh3_750)"/>
<path d="M80.0,142.0 C81.7,132.5 91.7,124.5 100.0,120.0 C108.3,115.5 120.8,113.3 130.0,115.0 C139.2,116.7 148.7,122.5 155.0,130.0 C161.3,137.5 164.2,150.0 168.0,160.0 C171.8,170.0 179.3,182.3 178.0,190.0 C176.7,197.7 167.2,202.3 160.0,206.0 C152.8,209.7 143.3,213.5 135.0,212.0 C126.7,210.5 117.5,202.8 110.0,197.0 C102.5,191.2 95.0,186.2 90.0,177.0 C85.0,167.8 78.3,151.5 80.0,142.0Z" fill="#0000e6" filter="url(#sh3_750)"/>
<path d="M280.0,120.0 C285.3,111.5 291.3,106.7 300.0,104.0 C308.7,101.3 322.7,102.2 332.0,104.0 C341.3,105.8 349.3,109.8 356.0,115.0 C362.7,120.2 366.0,129.2 372.0,135.0 C378.0,140.8 387.0,143.3 392.0,150.0 C397.0,156.7 402.7,166.7 402.0,175.0 C401.3,183.3 392.0,190.5 388.0,200.0 C384.0,209.5 378.5,221.7 378.0,232.0 C377.5,242.3 384.7,250.7 385.0,262.0 C385.3,273.3 383.2,286.7 380.0,300.0 C376.8,313.3 371.8,333.3 366.0,342.0 C360.2,350.7 351.3,353.7 345.0,352.0 C338.7,350.3 329.8,342.3 328.0,332.0 C326.2,321.7 332.3,301.7 334.0,290.0 C335.7,278.3 339.0,270.3 338.0,262.0 C337.0,253.7 331.7,247.8 328.0,240.0 C324.3,232.2 321.7,222.3 316.0,215.0 C310.3,207.7 301.0,201.8 294.0,196.0 C287.0,190.2 278.3,186.8 274.0,180.0 C269.7,173.2 267.0,165.0 268.0,155.0 C269.0,145.0 274.7,128.5 280.0,120.0Z" fill="#e60000" filter="url(#sh3_750)"/>
<path d="M345.0,250.0 C354.3,240.0 379.2,240.0 392.0,240.0 C404.8,240.0 413.7,244.7 422.0,250.0 C430.3,255.3 440.7,265.0 442.0,272.0 C443.3,279.0 437.0,285.3 430.0,292.0 C423.0,298.7 408.3,305.3 400.0,312.0 C391.7,318.7 386.3,325.7 380.0,332.0 C373.7,338.3 368.3,348.7 362.0,350.0 C355.7,351.3 346.3,348.3 342.0,340.0 C337.7,331.7 335.5,315.0 336.0,300.0 C336.5,285.0 335.7,260.0 345.0,250.0Z" fill="#e60000" filter="url(#sh3_750)"/>
<path d="M210.0,100.0 C214.0,92.3 228.3,87.7 240.0,84.0 C251.7,80.3 269.2,76.3 280.0,78.0 C290.8,79.7 300.0,87.3 305.0,94.0 C310.0,100.7 312.5,110.3 310.0,118.0 C307.5,125.7 296.3,133.0 290.0,140.0 C283.7,147.0 271.7,153.3 272.0,160.0 C272.3,166.7 283.7,174.0 292.0,180.0 C300.3,186.0 313.0,190.7 322.0,196.0 C331.0,201.3 339.3,206.0 346.0,212.0 C352.7,218.0 361.3,225.7 362.0,232.0 C362.7,238.3 357.0,246.7 350.0,250.0 C343.0,253.3 330.0,251.0 320.0,252.0 C310.0,253.0 300.0,256.0 290.0,256.0 C280.0,256.0 270.0,249.7 260.0,252.0 C250.0,254.3 240.0,266.0 230.0,270.0 C220.0,274.0 209.3,276.8 200.0,276.0 C190.7,275.2 181.5,271.0 174.0,265.0 C166.5,259.0 157.3,248.5 155.0,240.0 C152.7,231.5 154.2,220.7 160.0,214.0 C165.8,207.3 180.0,204.0 190.0,200.0 C200.0,196.0 214.0,196.7 220.0,190.0 C226.0,183.3 226.7,170.0 226.0,160.0 C225.3,150.0 218.7,140.0 216.0,130.0 C213.3,120.0 206.0,107.7 210.0,100.0Z" fill="#0000e6" filter="url(#sh3_750)"/>
<path d="M372.0,112.0 C371.7,102.8 384.0,98.7 392.0,95.0 C400.0,91.3 410.3,89.2 420.0,90.0 C429.7,90.8 441.7,95.0 450.0,100.0 C458.3,105.0 463.3,112.5 470.0,120.0 C476.7,127.5 483.3,136.7 490.0,145.0 C496.7,153.3 504.2,161.7 510.0,170.0 C515.8,178.3 521.7,188.0 525.0,195.0 C528.3,202.0 524.2,208.5 530.0,212.0 C535.8,215.5 550.0,213.7 560.0,216.0 C570.0,218.3 580.8,220.3 590.0,226.0 C599.2,231.7 609.2,239.3 615.0,250.0 C620.8,260.7 622.5,276.7 625.0,290.0 C627.5,303.3 625.8,319.2 630.0,330.0 C634.2,340.8 647.5,346.7 650.0,355.0 C652.5,363.3 649.2,374.2 645.0,380.0 C640.8,385.8 631.7,389.2 625.0,390.0 C618.3,390.8 610.8,391.3 605.0,385.0 C599.2,378.7 596.7,358.7 590.0,352.0 C583.3,345.3 573.3,347.0 565.0,345.0 C556.7,343.0 549.2,342.5 540.0,340.0 C530.8,337.5 518.3,333.3 510.0,330.0 C501.7,326.7 498.0,325.0 490.0,320.0 C482.0,315.0 470.0,306.3 462.0,300.0 C454.0,293.7 447.0,290.0 442.0,282.0 C437.0,274.0 437.0,260.3 432.0,252.0 C427.0,243.7 419.3,238.2 412.0,232.0 C404.7,225.8 391.7,223.7 388.0,215.0 C384.3,206.3 389.0,190.8 390.0,180.0 C391.0,169.2 397.0,161.3 394.0,150.0 C391.0,138.7 372.3,121.2 372.0,112.0Z" fill="#f2f200" filter="url(#sh3_750)"/>
<ellipse cx="420.0" cy="192.0" rx="43.7" ry="43.7" fill="url(#kg)"/>
<ellipse cx="400.0" cy="122.0" rx="32.2" ry="32.2" fill="url(#kg)"/>
<ellipse cx="470.0" cy="135.0" rx="29.9" ry="29.9" fill="url(#kg)"/>
<ellipse cx="500.0" cy="240.0" rx="34.5" ry="34.5" fill="url(#kg)"/>
<ellipse cx="550.0" cy="285.0" rx="48.3" ry="48.3" fill="url(#kg)"/>
<ellipse cx="618.0" cy="358.0" rx="29.9" ry="29.9" fill="url(#kg)"/>
<ellipse cx="465.0" cy="292.0" rx="27.6" ry="27.6" fill="url(#kg)"/>
<path d="M490.0,320.0 C491.7,316.7 501.7,325.8 510.0,330.0 C518.3,334.2 529.2,341.7 540.0,345.0 C550.8,348.3 564.2,347.2 575.0,350.0 C585.8,352.8 599.2,353.7 605.0,362.0 C610.8,370.3 610.8,388.7 610.0,400.0 C609.2,411.3 605.8,421.7 600.0,430.0 C594.2,438.3 584.2,445.8 575.0,450.0 C565.8,454.2 554.2,456.7 545.0,455.0 C535.8,453.3 525.0,447.5 520.0,440.0 C515.0,432.5 516.7,420.0 515.0,410.0 C513.3,400.0 512.5,390.0 510.0,380.0 C507.5,370.0 503.3,360.0 500.0,350.0 C496.7,340.0 488.3,323.3 490.0,320.0Z" fill="#e60000" filter="url(#sh3_750)"/>
</g>
<g><g transform="translate(515.0,1000.0) scale(0.22222)">
<path d="M42.0,185.0 C42.5,180.8 42.0,167.5 45.0,160.0 C48.0,152.5 53.3,145.8 60.0,140.0 C66.7,134.2 80.8,127.5 85.0,125.0" fill="none" stroke="#f2f200" stroke-width="9.0" stroke-linecap="round" stroke-linejoin="round"/>
<path d="M42.0,178.0 C41.8,180.0 41.2,188.0 41.0,190.0" fill="none" stroke="#d02020" stroke-width="9.0" stroke-linecap="round" stroke-linejoin="round"/>
<path d="M535.0,210.0 C535.8,216.7 537.5,239.2 540.0,250.0 C542.5,260.8 544.2,268.3 550.0,275.0 C555.8,281.7 565.0,287.5 575.0,290.0 C585.0,292.5 600.0,288.3 610.0,290.0 C620.0,291.7 629.2,293.3 635.0,300.0 C640.8,306.7 644.2,320.0 645.0,330.0 C645.8,340.0 643.3,352.5 640.0,360.0 C636.7,367.5 627.5,372.5 625.0,375.0" fill="none" stroke="#e0d020" stroke-width="8.0" stroke-linecap="round" stroke-linejoin="round"/>
<path d="M560.0,280.0 C565.0,283.3 580.0,291.7 590.0,300.0 C600.0,308.3 613.3,320.0 620.0,330.0 C626.7,340.0 628.3,355.0 630.0,360.0" fill="none" stroke="#e0d020" stroke-width="8.0" stroke-linecap="round" stroke-linejoin="round"/>
<path d="M600.0,312.0 C601.7,313.3 608.3,318.7 610.0,320.0" fill="none" stroke="#d02020" stroke-width="8.0" stroke-linecap="round" stroke-linejoin="round"/>
<path d="M622.0,365.0 C623.3,367.2 628.7,375.8 630.0,378.0" fill="none" stroke="#d02020" stroke-width="8.0" stroke-linecap="round" stroke-linejoin="round"/>
</g></g><path d="M618.4,1048.6 L619.3,1047.1 L611.1,1042.0 L610.1,1043.4Z" fill="#e1e100" stroke="#e1e100" stroke-width="0.55"/>
<path d="M617.5,1050.1 L618.4,1048.6 L610.1,1043.4 L609.2,1044.9Z" fill="#e5e500" stroke="#e5e500" stroke-width="0.55"/>
<path d="M619.3,1047.1 L620.3,1045.6 L612.1,1040.6 L611.1,1042.0Z" fill="#dcdc00" stroke="#dcdc00" stroke-width="0.55"/>
<path d="M616.7,1051.6 L617.5,1050.1 L609.2,1044.9 L608.3,1046.4Z" fill="#e9e900" stroke="#e9e900" stroke-width="0.55"/>
<path d="M620.3,1045.6 L621.2,1044.2 L613.1,1039.3 L612.1,1040.6Z" fill="#d6d600" stroke="#d6d600" stroke-width="0.55"/>
<path d="M616.0,1053.0 L616.7,1051.6 L608.3,1046.4 L607.4,1047.9Z" fill="#ebeb00" stroke="#ebeb00" stroke-width="0.55"/>
<path d="M621.2,1044.2 L622.3,1042.9 L614.2,1038.2 L613.1,1039.3Z" fill="#d0d000" stroke="#d0d000" stroke-width="0.55"/>
<path d="M615.3,1054.3 L616.0,1053.0 L607.4,1047.9 L606.6,1049.4Z" fill="#ecec00" stroke="#ecec00" stroke-width="0.55"/>
<path d="M622.3,1042.9 L623.3,1041.6 L615.2,1037.2 L614.2,1038.2Z" fill="#c9c900" stroke="#c9c900" stroke-width="0.55"/>
<path d="M614.8,1055.4 L615.3,1054.3 L606.6,1049.4 L605.9,1050.7Z" fill="#ebeb00" stroke="#ebeb00" stroke-width="0.55"/>
<path d="M623.3,1041.6 L624.3,1040.5 L616.2,1036.4 L615.2,1037.2Z" fill="#c1c100" stroke="#c1c100" stroke-width="0.55"/>
<path d="M614.3,1056.4 L614.8,1055.4 L605.9,1050.7 L605.3,1052.0Z" fill="#eaea00" stroke="#eaea00" stroke-width="0.55"/>
<path d="M624.3,1040.5 L625.4,1039.6 L617.2,1035.8 L616.2,1036.4Z" fill="#b9b900" stroke="#b9b900" stroke-width="0.55"/>
<path d="M596.4,1043.2 L597.3,1041.7 L589.1,1036.5 L588.1,1038.0Z" fill="#e2e200" stroke="#e2e200" stroke-width="0.55"/>
<path d="M597.3,1041.7 L598.3,1040.2 L590.1,1035.1 L589.1,1036.5Z" fill="#dede00" stroke="#dede00" stroke-width="0.55"/>
<path d="M595.6,1044.7 L596.4,1043.2 L588.1,1038.0 L587.2,1039.5Z" fill="#e6e600" stroke="#e6e600" stroke-width="0.55"/>
<path d="M613.8,1057.2 L614.3,1056.4 L605.3,1052.0 L604.7,1053.1Z" fill="#e8e800" stroke="#e8e800" stroke-width="0.55"/>
<path d="M598.3,1040.2 L599.3,1038.8 L591.1,1033.8 L590.1,1035.1Z" fill="#d8d800" stroke="#d8d800" stroke-width="0.55"/>
<path d="M594.8,1046.2 L595.6,1044.7 L587.2,1039.5 L586.3,1041.0Z" fill="#e9e900" stroke="#e9e900" stroke-width="0.55"/>
<path d="M625.4,1039.6 L626.4,1038.8 L618.2,1035.4 L617.2,1035.8Z" fill="#b3b300" stroke="#b3b300" stroke-width="0.55"/>
<path d="M599.3,1038.8 L600.3,1037.4 L592.2,1032.7 L591.1,1033.8Z" fill="#d1d100" stroke="#d1d100" stroke-width="0.55"/>
<path d="M594.1,1047.5 L594.8,1046.2 L586.3,1041.0 L585.5,1042.5Z" fill="#ebeb00" stroke="#ebeb00" stroke-width="0.55"/>
<path d="M600.3,1037.4 L601.3,1036.1 L593.2,1031.6 L592.2,1032.7Z" fill="#caca00" stroke="#caca00" stroke-width="0.55"/>
<path d="M613.5,1057.8 L613.8,1057.2 L604.7,1053.1 L604.3,1054.0Z" fill="#e4e400" stroke="#e4e400" stroke-width="0.55"/>
<path d="M593.5,1048.8 L594.1,1047.5 L585.5,1042.5 L584.7,1043.9Z" fill="#ecec00" stroke="#ecec00" stroke-width="0.55"/>
<path d="M626.4,1038.8 L627.4,1038.3 L619.1,1035.2 L618.2,1035.4Z" fill="#b3b300" stroke="#b3b300" stroke-width="0.55"/>
<path d="M601.3,1036.1 L602.4,1035.0 L594.2,1030.8 L593.2,1031.6Z" fill="#c3c300" stroke="#c3c300" stroke-width="0.55"/>
<path d="M592.9,1049.9 L593.5,1048.8 L584.7,1043.9 L584.0,1045.3Z" fill="#ebeb00" stroke="#ebeb00" stroke-width="0.55"/>
<path d="M613.2,1058.3 L613.5,1057.8 L604.3,1054.0 L603.9,1054.8Z" fill="#e0e000" stroke="#e0e000" stroke-width="0.55"/>
<path d="M627.4,1038.3 L628.3,1038.0 L620.0,1035.3 L619.1,1035.2Z" fill="#b3b300" stroke="#b3b300" stroke-width="0.55"/>
<path d="M602.4,1035.0 L603.4,1034.0 L595.3,1030.1 L594.2,1030.8Z" fill="#bbbb00" stroke="#bbbb00" stroke-width="0.55"/>
<path d="M592.4,1050.8 L592.9,1049.9 L584.0,1045.3 L583.4,1046.5Z" fill="#eaea00" stroke="#eaea00" stroke-width="0.55"/>
<path d="M574.5,1037.8 L575.4,1036.3 L567.1,1031.1 L566.2,1032.6Z" fill="#e3e300" stroke="#e3e300" stroke-width="0.55"/>
<path d="M575.4,1036.3 L576.3,1034.8 L568.1,1029.7 L567.1,1031.1Z" fill="#dfdf00" stroke="#dfdf00" stroke-width="0.55"/>
<path d="M628.3,1038.0 L629.2,1037.9 L620.8,1035.6 L620.0,1035.3Z" fill="#b3b300" stroke="#b3b300" stroke-width="0.55"/>
<path d="M573.7,1039.3 L574.5,1037.8 L566.2,1032.6 L565.2,1034.1Z" fill="#e7e700" stroke="#e7e700" stroke-width="0.55"/>
<path d="M613.0,1058.4 L613.2,1058.3 L603.9,1054.8 L603.5,1055.4Z" fill="#dbdb00" stroke="#dbdb00" stroke-width="0.55"/>
<path d="M603.4,1034.0 L604.4,1033.2 L596.2,1029.7 L595.3,1030.1Z" fill="#b3b300" stroke="#b3b300" stroke-width="0.55"/>
<path d="M576.3,1034.8 L577.3,1033.3 L569.2,1028.3 L568.1,1029.7Z" fill="#d9d900" stroke="#d9d900" stroke-width="0.55"/>
<path d="M572.9,1040.7 L573.7,1039.3 L565.2,1034.1 L564.4,1035.6Z" fill="#eaea00" stroke="#eaea00" stroke-width="0.55"/>
<path d="M592.0,1051.6 L592.4,1050.8 L583.4,1046.5 L582.9,1047.5Z" fill="#e7e700" stroke="#e7e700" stroke-width="0.55"/>
<path d="M577.3,1033.3 L578.3,1031.9 L570.2,1027.1 L569.2,1028.3Z" fill="#d3d300" stroke="#d3d300" stroke-width="0.55"/>
<path d="M572.2,1042.0 L572.9,1040.7 L564.4,1035.6 L563.6,1037.1Z" fill="#ebeb00" stroke="#ebeb00" stroke-width="0.55"/>
<path d="M578.3,1031.9 L579.3,1030.6 L571.2,1026.1 L570.2,1027.1Z" fill="#cccc00" stroke="#cccc00" stroke-width="0.55"/>
<path d="M604.4,1033.2 L605.4,1032.6 L597.2,1029.5 L596.2,1029.7Z" fill="#b3b300" stroke="#b3b300" stroke-width="0.55"/>
<path d="M629.2,1037.9 L630.1,1038.0 L621.5,1036.1 L620.8,1035.6Z" fill="#c6c600" stroke="#c6c600" stroke-width="0.55"/>
<path d="M612.9,1058.4 L613.0,1058.4 L603.5,1055.4 L603.3,1055.7Z" fill="#d5d500" stroke="#d5d500" stroke-width="0.55"/>
<path d="M571.6,1043.3 L572.2,1042.0 L563.6,1037.1 L562.8,1038.5Z" fill="#ecec00" stroke="#ecec00" stroke-width="0.55"/>
<path d="M591.7,1052.2 L592.0,1051.6 L582.9,1047.5 L582.4,1048.4Z" fill="#e3e300" stroke="#e3e300" stroke-width="0.55"/>
<path d="M579.3,1030.6 L580.4,1029.5 L572.3,1025.2 L571.2,1026.1Z" fill="#c5c500" stroke="#c5c500" stroke-width="0.55"/>
<path d="M605.4,1032.6 L606.4,1032.2 L598.0,1029.5 L597.2,1029.5Z" fill="#b3b300" stroke="#b3b300" stroke-width="0.55"/>
<path d="M571.0,1044.3 L571.6,1043.3 L562.8,1038.5 L562.1,1039.8Z" fill="#ebeb00" stroke="#ebeb00" stroke-width="0.55"/>
<path d="M630.1,1038.0 L630.9,1038.3 L622.2,1036.9 L621.5,1036.1Z" fill="#d3d300" stroke="#d3d300" stroke-width="0.55"/>
<path d="M580.4,1029.5 L581.4,1028.4 L573.3,1024.5 L572.3,1025.2Z" fill="#bdbd00" stroke="#bdbd00" stroke-width="0.55"/>
<path d="M612.8,1058.1 L612.9,1058.4 L603.3,1055.7 L603.1,1055.8Z" fill="#8f0000" stroke="#8f0000" stroke-width="0.55"/>
<path d="M591.4,1052.5 L591.7,1052.2 L582.4,1048.4 L582.0,1049.2Z" fill="#dfdf00" stroke="#dfdf00" stroke-width="0.55"/>
<path d="M570.6,1045.3 L571.0,1044.3 L562.1,1039.8 L561.5,1041.0Z" fill="#e9e900" stroke="#e9e900" stroke-width="0.55"/>
<path d="M606.4,1032.2 L607.3,1032.1 L598.9,1029.7 L598.0,1029.5Z" fill="#b3b300" stroke="#b3b300" stroke-width="0.55"/>
<path d="M630.9,1038.3 L631.6,1038.9 L622.8,1037.8 L622.2,1036.9Z" fill="#dfdf00" stroke="#dfdf00" stroke-width="0.55"/>
<path d="M581.4,1028.4 L582.4,1027.6 L574.3,1024.0 L573.3,1024.5Z" fill="#b5b500" stroke="#b5b500" stroke-width="0.55"/>
<path d="M553.4,1030.9 L554.3,1029.4 L546.2,1024.2 L545.2,1025.7Z" fill="#e0e000" stroke="#e0e000" stroke-width="0.55"/>
<path d="M552.5,1032.4 L553.4,1030.9 L545.2,1025.7 L544.2,1027.1Z" fill="#e4e400" stroke="#e4e400" stroke-width="0.55"/>
<path d="M554.3,1029.4 L555.3,1027.9 L547.2,1022.9 L546.2,1024.2Z" fill="#dbdb00" stroke="#dbdb00" stroke-width="0.55"/>
<path d="M551.7,1033.8 L552.5,1032.4 L544.2,1027.1 L543.3,1028.7Z" fill="#e8e800" stroke="#e8e800" stroke-width="0.55"/>
<path d="M591.2,1052.7 L591.4,1052.5 L582.0,1049.2 L581.7,1049.7Z" fill="#d9d900" stroke="#d9d900" stroke-width="0.55"/>
<path d="M612.7,1057.6 L612.8,1058.1 L603.1,1055.8 L602.9,1055.7Z" fill="#920000" stroke="#920000" stroke-width="0.55"/>
<path d="M555.3,1027.9 L556.3,1026.5 L548.2,1021.6 L547.2,1022.9Z" fill="#d5d500" stroke="#d5d500" stroke-width="0.55"/>
<path d="M551.0,1035.3 L551.7,1033.8 L543.3,1028.7 L542.4,1030.2Z" fill="#eaea00" stroke="#eaea00" stroke-width="0.55"/>
<path d="M570.2,1046.0 L570.6,1045.3 L561.5,1041.0 L561.0,1042.0Z" fill="#e6e600" stroke="#e6e600" stroke-width="0.55"/>
<path d="M582.4,1027.6 L583.4,1027.0 L575.2,1023.7 L574.3,1024.0Z" fill="#b3b300" stroke="#b3b300" stroke-width="0.55"/>
<path d="M631.6,1038.9 L632.2,1039.7 L623.3,1038.9 L622.8,1037.8Z" fill="#e9e900" stroke="#e9e900" stroke-width="0.55"/>
<path d="M607.3,1032.1 L608.1,1032.2 L599.6,1030.2 L598.9,1029.7Z" fill="#b90000" stroke="#b90000" stroke-width="0.55"/>
<path d="M556.3,1026.5 L557.3,1025.1 L549.2,1020.5 L548.2,1021.6Z" fill="#cece00" stroke="#cece00" stroke-width="0.55"/>
<path d="M550.3,1036.6 L551.0,1035.3 L542.4,1030.2 L541.6,1031.6Z" fill="#ebeb00" stroke="#ebeb00" stroke-width="0.55"/>
<path d="M557.3,1025.1 L558.4,1023.9 L550.3,1019.6 L549.2,1020.5Z" fill="#c7c700" stroke="#c7c700" stroke-width="0.55"/>
<path d="M549.7,1037.8 L550.3,1036.6 L541.6,1031.6 L540.9,1033.0Z" fill="#ecec00" stroke="#ecec00" stroke-width="0.55"/>
<path d="M591.1,1052.6 L591.2,1052.7 L581.7,1049.7 L581.5,1050.0Z" fill="#d3d300" stroke="#d3d300" stroke-width="0.55"/>
<path d="M612.7,1056.9 L612.7,1057.6 L602.9,1055.7 L602.9,1055.4Z" fill="#950000" stroke="#950000" stroke-width="0.55"/>
<path d="M569.9,1046.5 L570.2,1046.0 L561.0,1042.0 L560.6,1042.8Z" fill="#e2e200" stroke="#e2e200" stroke-width="0.55"/>
<path d="M632.2,1039.7 L632.8,1040.7 L623.7,1040.2 L623.3,1038.9Z" fill="#f1f100" stroke="#f1f100" stroke-width="0.55"/>
<path d="M583.4,1027.0 L584.4,1026.5 L576.1,1023.7 L575.2,1023.7Z" fill="#b3b300" stroke="#b3b300" stroke-width="0.55"/>
<path d="M608.1,1032.2 L609.0,1032.5 L600.3,1030.9 L599.6,1030.2Z" fill="#c60000" stroke="#c60000" stroke-width="0.55"/>
<path d="M558.4,1023.9 L559.4,1022.9 L551.3,1018.9 L550.3,1019.6Z" fill="#bfbf00" stroke="#bfbf00" stroke-width="0.55"/>
<path d="M549.2,1038.8 L549.7,1037.8 L540.9,1033.0 L540.3,1034.3Z" fill="#ebeb00" stroke="#ebeb00" stroke-width="0.55"/>
<path d="M632.8,1040.7 L633.3,1041.9 L624.1,1041.7 L623.7,1040.2Z" fill="#f2f206" stroke="#f2f206" stroke-width="0.55"/>
<path d="M612.8,1056.0 L612.7,1056.9 L602.9,1055.4 L602.9,1054.8Z" fill="#980000" stroke="#980000" stroke-width="0.55"/>
<path d="M591.0,1052.2 L591.1,1052.6 L581.5,1050.0 L581.3,1050.0Z" fill="#00008f" stroke="#00008f" stroke-width="0.55"/>
<path d="M569.6,1046.8 L569.9,1046.5 L560.6,1042.8 L560.2,1043.5Z" fill="#dddd00" stroke="#dddd00" stroke-width="0.55"/>
<path d="M584.4,1026.5 L585.3,1026.3 L576.9,1023.9 L576.1,1023.7Z" fill="#b3b300" stroke="#b3b300" stroke-width="0.55"/>
<path d="M609.0,1032.5 L609.7,1033.0 L600.9,1031.8 L600.3,1030.9Z" fill="#d10000" stroke="#d10000" stroke-width="0.55"/>
<path d="M559.4,1022.9 L560.4,1022.0 L552.3,1018.3 L551.3,1018.9Z" fill="#b7b700" stroke="#b7b700" stroke-width="0.55"/>
<path d="M548.7,1039.7 L549.2,1038.8 L540.3,1034.3 L539.7,1035.4Z" fill="#e8e800" stroke="#e8e800" stroke-width="0.55"/>
<path d="M633.3,1041.9 L633.7,1043.3 L624.4,1043.3 L624.1,1041.7Z" fill="#f2f20b" stroke="#f2f20b" stroke-width="0.55"/>
<path d="M612.8,1054.8 L612.8,1056.0 L602.9,1054.8 L602.9,1054.0Z" fill="#a00000" stroke="#a00000" stroke-width="0.55"/>
<path d="M633.7,1043.3 L634.1,1044.8 L624.6,1045.0 L624.4,1043.3Z" fill="#f2f20e" stroke="#f2f20e" stroke-width="0.55"/>
<path d="M560.4,1022.0 L561.5,1021.3 L553.2,1018.0 L552.3,1018.3Z" fill="#b3b300" stroke="#b3b300" stroke-width="0.55"/>
<path d="M585.3,1026.3 L586.2,1026.3 L577.7,1024.3 L576.9,1023.9Z" fill="#b3b300" stroke="#b3b300" stroke-width="0.55"/>
<path d="M609.7,1033.0 L610.4,1033.7 L601.5,1032.9 L600.9,1031.8Z" fill="#db0000" stroke="#db0000" stroke-width="0.55"/>
<path d="M569.4,1046.9 L569.6,1046.8 L560.2,1043.5 L559.9,1044.0Z" fill="#d8d800" stroke="#d8d800" stroke-width="0.55"/>
<path d="M591.0,1051.7 L591.0,1052.2 L581.3,1050.0 L581.2,1049.9Z" fill="#000093" stroke="#000093" stroke-width="0.55"/>
<path d="M548.4,1040.3 L548.7,1039.7 L539.7,1035.4 L539.2,1036.4Z" fill="#e5e500" stroke="#e5e500" stroke-width="0.55"/>
<path d="M634.1,1044.8 L634.3,1046.4 L624.8,1046.7 L624.6,1045.0Z" fill="#f2f20f" stroke="#f2f20f" stroke-width="0.55"/>
<path d="M612.9,1053.5 L612.8,1054.8 L602.9,1054.0 L602.9,1053.0Z" fill="#ae0000" stroke="#ae0000" stroke-width="0.55"/>
<path d="M610.4,1033.7 L610.9,1034.7 L601.9,1034.1 L601.5,1032.9Z" fill="#e40000" stroke="#e40000" stroke-width="0.55"/>
<path d="M561.5,1021.3 L562.4,1020.8 L554.1,1017.9 L553.2,1018.0Z" fill="#b3b300" stroke="#b3b300" stroke-width="0.55"/>
<path d="M586.2,1026.3 L587.0,1026.6 L578.4,1024.9 L577.7,1024.3Z" fill="#0000c3" stroke="#0000c3" stroke-width="0.55"/>
<path d="M591.0,1050.9 L591.0,1051.7 L581.2,1049.9 L581.1,1049.5Z" fill="#000096" stroke="#000096" stroke-width="0.55"/>
<path d="M569.3,1046.7 L569.4,1046.9 L559.9,1044.0 L559.7,1044.2Z" fill="#d1d100" stroke="#d1d100" stroke-width="0.55"/>
<path d="M548.1,1040.8 L548.4,1040.3 L539.2,1036.4 L538.7,1037.2Z" fill="#e1e100" stroke="#e1e100" stroke-width="0.55"/>
<path d="M613.0,1052.1 L612.9,1053.5 L602.9,1053.0 L603.0,1051.9Z" fill="#bb0000" stroke="#bb0000" stroke-width="0.55"/>
<path d="M610.9,1034.7 L611.5,1035.8 L602.3,1035.6 L601.9,1034.1Z" fill="#e60505" stroke="#e60505" stroke-width="0.55"/>
<path d="M562.4,1020.8 L563.4,1020.6 L555.0,1018.0 L554.1,1017.9Z" fill="#b3b300" stroke="#b3b300" stroke-width="0.55"/>
<path d="M587.0,1026.6 L587.8,1027.1 L579.0,1025.8 L578.4,1024.9Z" fill="#0000ce" stroke="#0000ce" stroke-width="0.55"/>
<path d="M591.0,1049.9 L591.0,1050.9 L581.1,1049.5 L581.1,1048.9Z" fill="#000098" stroke="#000098" stroke-width="0.55"/>
<path d="M547.8,1041.1 L548.1,1040.8 L538.7,1037.2 L538.4,1037.9Z" fill="#dcdc00" stroke="#dcdc00" stroke-width="0.55"/>
<path d="M613.0,1050.5 L613.0,1052.1 L603.0,1051.9 L603.0,1050.5Z" fill="#c70000" stroke="#c70000" stroke-width="0.55"/>
<path d="M569.3,1046.3 L569.3,1046.7 L559.7,1044.2 L559.5,1044.2Z" fill="#989800" stroke="#989800" stroke-width="0.55"/>
<path d="M611.5,1035.8 L611.9,1037.1 L602.6,1037.1 L602.3,1035.6Z" fill="#e70a0a" stroke="#e70a0a" stroke-width="0.55"/>
<path d="M563.4,1020.6 L564.3,1020.5 L555.8,1018.4 L555.0,1018.0Z" fill="#b3b300" stroke="#b3b300" stroke-width="0.55"/>
<path d="M613.0,1048.9 L613.0,1050.5 L603.0,1050.5 L603.1,1049.0Z" fill="#d20000" stroke="#d20000" stroke-width="0.55"/>
<path d="M611.9,1037.1 L612.3,1038.6 L602.8,1038.8 L602.6,1037.1Z" fill="#e70e0e" stroke="#e70e0e" stroke-width="0.55"/>
<path d="M587.8,1027.1 L588.5,1027.7 L579.6,1026.8 L579.0,1025.8Z" fill="#0000d9" stroke="#0000d9" stroke-width="0.55"/>
<path d="M591.1,1048.8 L591.0,1049.9 L581.1,1048.9 L581.1,1048.0Z" fill="#0000a3" stroke="#0000a3" stroke-width="0.55"/>
<path d="M612.3,1038.6 L612.5,1040.2 L603.0,1040.5 L602.8,1038.8Z" fill="#e70f0f" stroke="#e70f0f" stroke-width="0.55"/>
<path d="M613.0,1047.1 L613.0,1048.9 L603.1,1049.0 L603.1,1047.4Z" fill="#dc0000" stroke="#dc0000" stroke-width="0.55"/>
<path d="M547.7,1041.1 L547.8,1041.1 L538.4,1037.9 L538.1,1038.3Z" fill="#d6d600" stroke="#d6d600" stroke-width="0.55"/>
<path d="M569.2,1045.7 L569.3,1046.3 L559.5,1044.2 L559.4,1044.0Z" fill="#9b9b00" stroke="#9b9b00" stroke-width="0.55"/>
<path d="M612.5,1040.2 L612.8,1041.9 L603.1,1042.2 L603.0,1040.5Z" fill="#e70e0e" stroke="#e70e0e" stroke-width="0.55"/>
<path d="M613.0,1045.4 L613.0,1047.1 L603.1,1047.4 L603.2,1045.8Z" fill="#e40000" stroke="#e40000" stroke-width="0.55"/>
<path d="M612.8,1041.9 L612.9,1043.6 L603.2,1044.0 L603.1,1042.2Z" fill="#e70b0b" stroke="#e70b0b" stroke-width="0.55"/>
<path d="M612.9,1043.6 L613.0,1045.4 L603.2,1045.8 L603.2,1044.0Z" fill="#e60606" stroke="#e60606" stroke-width="0.55"/>
<path d="M588.5,1027.7 L589.1,1028.7 L580.1,1028.0 L579.6,1026.8Z" fill="#0000e2" stroke="#0000e2" stroke-width="0.55"/>
<path d="M564.3,1020.5 L565.1,1020.7 L556.5,1019.0 L555.8,1018.4Z" fill="#c00000" stroke="#c00000" stroke-width="0.55"/>
<path d="M591.2,1047.4 L591.1,1048.8 L581.1,1048.0 L581.2,1047.0Z" fill="#0000b1" stroke="#0000b1" stroke-width="0.55"/>
<path d="M569.3,1044.9 L569.2,1045.7 L559.4,1044.0 L559.4,1043.6Z" fill="#9e9e00" stroke="#9e9e00" stroke-width="0.55"/>
<path d="M547.6,1040.9 L547.7,1041.1 L538.1,1038.3 L537.9,1038.5Z" fill="#d0d000" stroke="#d0d000" stroke-width="0.55"/>
<path d="M589.1,1028.7 L589.6,1029.8 L580.5,1029.4 L580.1,1028.0Z" fill="#0303e6" stroke="#0303e6" stroke-width="0.55"/>
<path d="M565.1,1020.7 L565.9,1021.1 L557.1,1019.8 L556.5,1019.0Z" fill="#cc0000" stroke="#cc0000" stroke-width="0.55"/>
<path d="M591.2,1045.9 L591.2,1047.4 L581.2,1047.0 L581.2,1045.8Z" fill="#0000be" stroke="#0000be" stroke-width="0.55"/>
<path d="M589.6,1029.8 L590.1,1031.0 L580.8,1030.9 L580.5,1029.4Z" fill="#0909e6" stroke="#0909e6" stroke-width="0.55"/>
<path d="M591.3,1044.4 L591.2,1045.9 L581.2,1045.8 L581.3,1044.4Z" fill="#0000ca" stroke="#0000ca" stroke-width="0.55"/>
<path d="M569.3,1043.9 L569.3,1044.9 L559.4,1043.6 L559.4,1042.9Z" fill="#a1a100" stroke="#a1a100" stroke-width="0.55"/>
<path d="M547.5,1040.4 L547.6,1040.9 L537.9,1038.5 L537.8,1038.4Z" fill="#000091" stroke="#000091" stroke-width="0.55"/>
<path d="M565.9,1021.1 L566.6,1021.8 L557.7,1020.8 L557.1,1019.8Z" fill="#d60000" stroke="#d60000" stroke-width="0.55"/>
<path d="M590.1,1031.0 L590.4,1032.5 L581.0,1032.6 L580.8,1030.9Z" fill="#0d0de7" stroke="#0d0de7" stroke-width="0.55"/>
<path d="M591.3,1042.7 L591.3,1044.4 L581.3,1044.4 L581.4,1042.9Z" fill="#0000d5" stroke="#0000d5" stroke-width="0.55"/>
<path d="M590.4,1032.5 L590.7,1034.0 L581.2,1034.3 L581.0,1032.6Z" fill="#0f0fe7" stroke="#0f0fe7" stroke-width="0.55"/>
<path d="M591.3,1040.9 L591.3,1042.7 L581.4,1042.9 L581.4,1041.3Z" fill="#0000de" stroke="#0000de" stroke-width="0.55"/>
<path d="M569.4,1042.7 L569.3,1043.9 L559.4,1042.9 L559.4,1042.0Z" fill="#afaf00" stroke="#afaf00" stroke-width="0.55"/>
<path d="M590.7,1034.0 L591.0,1035.7 L581.3,1036.0 L581.2,1034.3Z" fill="#0e0ee7" stroke="#0e0ee7" stroke-width="0.55"/>
<path d="M566.6,1021.8 L567.2,1022.6 L558.2,1021.9 L557.7,1020.8Z" fill="#e00000" stroke="#e00000" stroke-width="0.55"/>
<path d="M542.3,1014.7 L543.2,1014.9 L534.6,1013.0 L533.9,1012.5Z" fill="#bd0000" stroke="#bd0000" stroke-width="0.55"/>
<path d="M591.2,1039.2 L591.3,1040.9 L581.4,1041.3 L581.4,1039.6Z" fill="#0000e6" stroke="#0000e6" stroke-width="0.55"/>
<path d="M547.5,1039.8 L547.5,1040.4 L537.8,1038.4 L537.7,1038.1Z" fill="#000094" stroke="#000094" stroke-width="0.55"/>
<path d="M591.0,1035.7 L591.1,1037.4 L581.4,1037.8 L581.3,1036.0Z" fill="#0c0ce7" stroke="#0c0ce7" stroke-width="0.55"/>
<path d="M591.1,1037.4 L591.2,1039.2 L581.4,1039.6 L581.4,1037.8Z" fill="#0707e6" stroke="#0707e6" stroke-width="0.55"/>
<path d="M569.4,1041.3 L569.4,1042.7 L559.4,1042.0 L559.5,1040.9Z" fill="#bdbd00" stroke="#bdbd00" stroke-width="0.55"/>
<path d="M567.2,1022.6 L567.7,1023.7 L558.6,1023.3 L558.2,1021.9Z" fill="#e60202" stroke="#e60202" stroke-width="0.55"/>
<path d="M543.2,1014.9 L543.9,1015.2 L535.3,1013.8 L534.6,1013.0Z" fill="#c90000" stroke="#c90000" stroke-width="0.55"/>
<path d="M547.5,1038.9 L547.5,1039.8 L537.7,1038.1 L537.6,1037.6Z" fill="#000097" stroke="#000097" stroke-width="0.55"/>
<path d="M569.5,1039.8 L569.4,1041.3 L559.5,1040.9 L559.5,1039.7Z" fill="#cbcb00" stroke="#cbcb00" stroke-width="0.55"/>
<path d="M567.7,1023.7 L568.2,1024.9 L559.0,1024.8 L558.6,1023.3Z" fill="#e60808" stroke="#e60808" stroke-width="0.55"/>
<path d="M543.9,1015.2 L544.7,1015.8 L535.9,1014.7 L535.3,1013.8Z" fill="#d40000" stroke="#d40000" stroke-width="0.55"/>
<path d="M569.6,1038.2 L569.5,1039.8 L559.5,1039.7 L559.6,1038.3Z" fill="#d7d700" stroke="#d7d700" stroke-width="0.55"/>
<path d="M568.2,1024.9 L568.6,1026.3 L559.2,1026.4 L559.0,1024.8Z" fill="#e70c0c" stroke="#e70c0c" stroke-width="0.55"/>
<path d="M547.6,1037.8 L547.5,1038.9 L537.6,1037.6 L537.6,1036.9Z" fill="#00009c" stroke="#00009c" stroke-width="0.55"/>
<path d="M569.6,1036.5 L569.6,1038.2 L559.6,1038.3 L559.6,1036.7Z" fill="#e2e200" stroke="#e2e200" stroke-width="0.55"/>
<path d="M568.6,1026.3 L568.9,1027.8 L559.4,1028.1 L559.2,1026.4Z" fill="#e70f0f" stroke="#e70f0f" stroke-width="0.55"/>
<path d="M544.7,1015.8 L545.3,1016.6 L536.4,1015.9 L535.9,1014.7Z" fill="#de0000" stroke="#de0000" stroke-width="0.55"/>
<path d="M569.6,1034.7 L569.6,1036.5 L559.6,1036.7 L559.7,1035.1Z" fill="#ecec00" stroke="#ecec00" stroke-width="0.55"/>
<path d="M568.9,1027.8 L569.2,1029.5 L559.6,1029.8 L559.4,1028.1Z" fill="#e70f0f" stroke="#e70f0f" stroke-width="0.55"/>
<path d="M547.7,1036.6 L547.6,1037.8 L537.6,1036.9 L537.7,1036.0Z" fill="#0000aa" stroke="#0000aa" stroke-width="0.55"/>
<path d="M569.5,1032.9 L569.6,1034.7 L559.7,1035.1 L559.7,1033.4Z" fill="#e60202" stroke="#e60202" stroke-width="0.55"/>
<path d="M569.2,1029.5 L569.4,1031.2 L559.7,1031.6 L559.6,1029.8Z" fill="#e70d0d" stroke="#e70d0d" stroke-width="0.55"/>
<path d="M569.4,1031.2 L569.5,1032.9 L559.7,1033.4 L559.7,1031.6Z" fill="#e60808" stroke="#e60808" stroke-width="0.55"/>
<path d="M545.3,1016.6 L545.9,1017.6 L536.8,1017.2 L536.4,1015.9Z" fill="#e60000" stroke="#e60000" stroke-width="0.55"/>
<path d="M547.7,1035.2 L547.7,1036.6 L537.7,1036.0 L537.7,1034.9Z" fill="#0000b7" stroke="#0000b7" stroke-width="0.55"/>
<path d="M545.9,1017.6 L546.4,1018.8 L537.2,1018.6 L536.8,1017.2Z" fill="#e60707" stroke="#e60707" stroke-width="0.55"/>
<path d="M547.8,1033.6 L547.7,1035.2 L537.7,1034.9 L537.8,1033.6Z" fill="#0000c4" stroke="#0000c4" stroke-width="0.55"/>
<path d="M546.4,1018.8 L546.8,1020.2 L537.4,1020.2 L537.2,1018.6Z" fill="#e70c0c" stroke="#e70c0c" stroke-width="0.55"/>
<path d="M547.8,1032.0 L547.8,1033.6 L537.8,1033.6 L537.9,1032.1Z" fill="#0000cf" stroke="#0000cf" stroke-width="0.55"/>
<path d="M546.8,1020.2 L547.1,1021.7 L537.7,1021.9 L537.4,1020.2Z" fill="#e70e0e" stroke="#e70e0e" stroke-width="0.55"/>
<path d="M547.8,1030.3 L547.8,1032.0 L537.9,1032.1 L537.9,1030.6Z" fill="#0000d9" stroke="#0000d9" stroke-width="0.55"/>
<path d="M547.1,1021.7 L547.4,1023.3 L537.8,1023.6 L537.7,1021.9Z" fill="#e70f0f" stroke="#e70f0f" stroke-width="0.55"/>
<path d="M547.8,1028.5 L547.8,1030.3 L537.9,1030.6 L537.9,1028.9Z" fill="#0000e2" stroke="#0000e2" stroke-width="0.55"/>
<path d="M547.4,1023.3 L547.6,1025.0 L537.9,1025.4 L537.8,1023.6Z" fill="#0d0de7" stroke="#0d0de7" stroke-width="0.55"/>
<path d="M547.7,1026.7 L547.8,1028.5 L537.9,1028.9 L537.9,1027.2Z" fill="#0404e6" stroke="#0404e6" stroke-width="0.55"/>
<path d="M547.6,1025.0 L547.7,1026.7 L537.9,1027.2 L537.9,1025.4Z" fill="#0a0ae6" stroke="#0a0ae6" stroke-width="0.55"/>
<g transform="translate(10.0,1180.0) scale(0.28145)">
<path d="M245.0,75.0 C246.2,69.2 257.2,61.8 265.0,60.0 C272.8,58.2 285.8,58.7 292.0,64.0 C298.2,69.3 301.3,81.0 302.0,92.0 C302.7,103.0 298.7,119.3 296.0,130.0 C293.3,140.7 291.3,150.7 286.0,156.0 C280.7,161.3 271.0,163.7 264.0,162.0 C257.0,160.3 245.7,153.0 244.0,146.0 C242.3,139.0 251.7,128.5 254.0,120.0 C256.3,111.5 259.5,102.5 258.0,95.0 C256.5,87.5 243.8,80.8 245.0,75.0Z" fill="#6a6af0" opacity="0.75"/>
<path d="M190.0,345.0 C193.7,338.3 202.5,330.8 210.0,330.0 C217.5,329.2 230.0,332.5 235.0,340.0 C240.0,347.5 241.7,365.7 240.0,375.0 C238.3,384.3 231.7,393.5 225.0,396.0 C218.3,398.5 206.2,394.3 200.0,390.0 C193.8,385.7 189.7,377.5 188.0,370.0 C186.3,362.5 186.3,351.7 190.0,345.0Z" fill="#f4f0b0"/>
</g><g transform="translate(10.0,1180.0) scale(0.28145)">
<path d="M38.0,110.0 C40.8,104.7 45.5,93.0 55.0,90.0 C64.5,87.0 80.0,90.3 95.0,92.0 C110.0,93.7 135.0,92.8 145.0,100.0 C155.0,107.2 144.2,126.7 155.0,135.0 C165.8,143.3 195.8,146.7 210.0,150.0 C224.2,153.3 225.0,150.8 240.0,155.0 C255.0,159.2 285.0,174.2 300.0,175.0 C315.0,175.8 320.0,164.2 330.0,160.0 C340.0,155.8 350.0,149.2 360.0,150.0 C370.0,150.8 384.2,156.7 390.0,165.0 C395.8,173.3 398.3,187.5 395.0,200.0 C391.7,212.5 375.0,230.0 370.0,240.0 C365.0,250.0 362.5,252.5 365.0,260.0 C367.5,267.5 375.8,279.2 385.0,285.0 C394.2,290.8 407.5,290.8 420.0,295.0 C432.5,299.2 451.7,302.5 460.0,310.0 C468.3,317.5 466.7,331.7 470.0,340.0 C473.3,348.3 470.0,354.2 480.0,360.0 C490.0,365.8 513.3,370.8 530.0,375.0 C546.7,379.2 567.5,378.3 580.0,385.0 C592.5,391.7 600.0,401.7 605.0,415.0 C610.0,428.3 605.8,454.2 610.0,465.0 C614.2,475.8 625.8,471.7 630.0,480.0 C634.2,488.3 638.3,506.7 635.0,515.0 C631.7,523.3 622.5,528.3 610.0,530.0 C597.5,531.7 575.0,524.2 560.0,525.0 C545.0,525.8 529.2,529.2 520.0,535.0 C510.8,540.8 510.0,551.7 505.0,560.0 C500.0,568.3 499.2,580.0 490.0,585.0 C480.8,590.0 460.8,592.5 450.0,590.0 C439.2,587.5 433.3,579.2 425.0,570.0 C416.7,560.8 410.8,546.7 400.0,535.0 C389.2,523.3 373.3,509.2 360.0,500.0 C346.7,490.8 330.8,487.5 320.0,480.0 C309.2,472.5 301.7,466.7 295.0,455.0 C288.3,443.3 286.7,423.3 280.0,410.0 C273.3,396.7 263.3,385.8 255.0,375.0 C246.7,364.2 239.2,352.5 230.0,345.0 C220.8,337.5 211.7,331.7 200.0,330.0 C188.3,328.3 175.0,334.2 160.0,335.0 C145.0,335.8 123.3,338.3 110.0,335.0 C96.7,331.7 88.0,324.2 80.0,315.0 C72.0,305.8 63.7,289.5 62.0,280.0 C60.3,270.5 63.7,264.2 70.0,258.0 C76.3,251.8 92.2,247.3 100.0,243.0 C107.8,238.7 114.7,242.3 117.0,232.0 C119.3,221.7 117.7,192.7 114.0,181.0 C110.3,169.3 104.5,167.8 95.0,162.0 C85.5,156.2 66.5,152.7 57.0,146.0 C47.5,139.3 41.2,128.0 38.0,122.0 C34.8,116.0 35.2,115.3 38.0,110.0Z" fill="#f2f200" filter="url(#sh3_553)"/>
<ellipse cx="105.0" cy="290.0" rx="46.0" ry="46.0" fill="url(#kg)"/>
<ellipse cx="195.0" cy="282.0" rx="39.1" ry="39.1" fill="url(#kg)"/>
<ellipse cx="285.0" cy="312.0" rx="41.4" ry="41.4" fill="url(#kg)"/>
<ellipse cx="340.0" cy="382.0" rx="48.3" ry="48.3" fill="url(#kg)"/>
<ellipse cx="515.0" cy="420.0" rx="43.7" ry="43.7" fill="url(#kg)"/>
<ellipse cx="592.0" cy="494.0" rx="37.9" ry="37.9" fill="url(#kg)"/>
<ellipse cx="530.0" cy="528.0" rx="29.9" ry="29.9" fill="url(#kg)"/>
<ellipse cx="80.0" cy="118.0" rx="34.5" ry="34.5" fill="url(#kg)"/>
<path d="M165.0,45.0 C170.0,37.5 177.5,28.3 185.0,25.0 C192.5,21.7 200.8,22.5 210.0,25.0 C219.2,27.5 233.3,32.5 240.0,40.0 C246.7,47.5 245.8,61.7 250.0,70.0 C254.2,78.3 264.2,81.7 265.0,90.0 C265.8,98.3 258.3,111.7 255.0,120.0 C251.7,128.3 251.7,135.8 245.0,140.0 C238.3,144.2 225.0,146.7 215.0,145.0 C205.0,143.3 194.2,135.8 185.0,130.0 C175.8,124.2 166.7,115.8 160.0,110.0 C153.3,104.2 145.8,101.7 145.0,95.0 C144.2,88.3 151.7,78.3 155.0,70.0 C158.3,61.7 160.0,52.5 165.0,45.0Z" fill="#0000e6" filter="url(#sh3_553)"/>
<path d="M250.0,80.0 C251.3,74.3 262.7,83.0 266.0,88.0 C269.3,93.0 271.3,104.3 270.0,110.0 C268.7,115.7 261.3,127.0 258.0,122.0 C254.7,117.0 248.7,85.7 250.0,80.0Z" fill="#d01010" filter="url(#sh3_553)"/>
<path d="M125.0,150.0 C129.2,141.7 138.3,140.8 150.0,140.0 C161.7,139.2 184.2,140.8 195.0,145.0 C205.8,149.2 206.7,160.8 215.0,165.0 C223.3,169.2 236.7,170.0 245.0,170.0 C253.3,170.0 257.5,164.2 265.0,165.0 C272.5,165.8 282.5,175.0 290.0,175.0 C297.5,175.0 302.5,169.2 310.0,165.0 C317.5,160.8 325.0,152.8 335.0,150.0 C345.0,147.2 360.0,146.3 370.0,148.0 C380.0,149.7 389.2,153.8 395.0,160.0 C400.8,166.2 405.0,176.7 405.0,185.0 C405.0,193.3 400.8,200.8 395.0,210.0 C389.2,219.2 377.5,231.7 370.0,240.0 C362.5,248.3 356.7,254.2 350.0,260.0 C343.3,265.8 337.5,273.3 330.0,275.0 C322.5,276.7 311.7,273.3 305.0,270.0 C298.3,266.7 295.0,260.0 290.0,255.0 C285.0,250.0 283.3,243.3 275.0,240.0 C266.7,236.7 250.8,235.0 240.0,235.0 C229.2,235.0 220.0,239.2 210.0,240.0 C200.0,240.8 188.3,239.2 180.0,240.0 C171.7,240.8 166.7,248.3 160.0,245.0 C153.3,241.7 145.8,229.2 140.0,220.0 C134.2,210.8 127.5,201.7 125.0,190.0 C122.5,178.3 120.8,158.3 125.0,150.0Z" fill="#e60000" filter="url(#sh3_553)"/>
<path d="M365.0,285.0 C370.0,281.7 387.5,287.5 400.0,290.0 C412.5,292.5 429.2,295.0 440.0,300.0 C450.8,305.0 459.2,312.5 465.0,320.0 C470.8,327.5 476.7,339.7 475.0,345.0 C473.3,350.3 464.2,352.0 455.0,352.0 C445.8,352.0 430.8,348.7 420.0,345.0 C409.2,341.3 398.3,335.8 390.0,330.0 C381.7,324.2 374.2,317.5 370.0,310.0 C365.8,302.5 360.0,288.3 365.0,285.0Z" fill="#e60000" filter="url(#sh3_553)"/>
<path d="M370.0,420.0 C376.7,411.7 390.8,399.2 400.0,395.0 C409.2,390.8 418.3,390.8 425.0,395.0 C431.7,399.2 432.5,410.8 440.0,420.0 C447.5,429.2 460.8,440.8 470.0,450.0 C479.2,459.2 489.2,465.0 495.0,475.0 C500.8,485.0 504.2,498.3 505.0,510.0 C505.8,521.7 500.8,534.2 500.0,545.0 C499.2,555.8 503.3,567.5 500.0,575.0 C496.7,582.5 488.3,587.5 480.0,590.0 C471.7,592.5 458.3,593.3 450.0,590.0 C441.7,586.7 434.2,578.3 430.0,570.0 C425.8,561.7 428.3,550.0 425.0,540.0 C421.7,530.0 415.8,518.3 410.0,510.0 C404.2,501.7 397.5,496.7 390.0,490.0 C382.5,483.3 370.0,477.5 365.0,470.0 C360.0,462.5 359.2,453.3 360.0,445.0 C360.8,436.7 363.3,428.3 370.0,420.0Z" fill="#e60000" filter="url(#sh3_553)"/>
</g>
<g><g transform="translate(185.0,1200.0) scale(0.20743)">
<path d="M50.0,100.0 C49.2,96.7 42.5,85.3 45.0,80.0 C47.5,74.7 56.7,70.0 65.0,68.0 C73.3,66.0 85.8,66.3 95.0,68.0 C104.2,69.7 114.5,72.7 120.0,78.0 C125.5,83.3 128.8,93.8 128.0,100.0 C127.2,106.2 121.3,112.0 115.0,115.0 C108.7,118.0 98.3,118.0 90.0,118.0 C81.7,118.0 71.7,118.0 65.0,115.0 C58.3,112.0 52.5,102.5 50.0,100.0" fill="none" stroke="#e8d820" stroke-width="9.0" stroke-linecap="round" stroke-linejoin="round"/>
<path d="M82.0,68.0 C85.0,67.7 93.3,64.3 100.0,66.0 C106.7,67.7 117.3,73.7 122.0,78.0 C126.7,82.3 127.0,89.7 128.0,92.0" fill="none" stroke="#2020c0" stroke-width="8.0" stroke-linecap="round" stroke-linejoin="round"/>
<path d="M138.0,100.0 C140.0,97.5 145.5,88.0 150.0,85.0 C154.5,82.0 162.0,79.5 165.0,82.0 C168.0,84.5 169.7,94.0 168.0,100.0 C166.3,106.0 159.7,114.3 155.0,118.0 C150.3,121.7 142.5,121.3 140.0,122.0" fill="none" stroke="#9090e0" stroke-width="6.0" stroke-linecap="round" stroke-linejoin="round"/>
<path d="M120.0,95.0 C120.3,100.8 121.7,124.2 122.0,130.0" fill="none" stroke="#d01010" stroke-width="8.0" stroke-linecap="round" stroke-linejoin="round"/>
<path d="M150.0,130.0 C151.7,137.5 160.0,165.0 160.0,175.0 C160.0,185.0 151.7,187.5 150.0,190.0" fill="none" stroke="#f0f0f0" stroke-width="6.0" stroke-linecap="round" stroke-linejoin="round"/>
</g></g><path d="M289.8,1303.4 L291.7,1302.0 L286.4,1294.5 L284.4,1295.7Z" fill="#d8d800" stroke="#d8d800" stroke-width="0.55"/>
<path d="M287.9,1304.8 L289.8,1303.4 L284.4,1295.7 L282.5,1297.1Z" fill="#dada00" stroke="#dada00" stroke-width="0.55"/>
<path d="M291.7,1302.0 L293.7,1300.8 L288.4,1293.4 L286.4,1294.5Z" fill="#d5d500" stroke="#d5d500" stroke-width="0.55"/>
<path d="M286.2,1306.3 L287.9,1304.8 L282.5,1297.1 L280.6,1298.5Z" fill="#dcdc00" stroke="#dcdc00" stroke-width="0.55"/>
<path d="M293.7,1300.8 L295.7,1299.6 L290.4,1292.5 L288.4,1293.4Z" fill="#d1d100" stroke="#d1d100" stroke-width="0.55"/>
<path d="M284.6,1307.8 L286.2,1306.3 L280.6,1298.5 L278.9,1299.9Z" fill="#dddd00" stroke="#dddd00" stroke-width="0.55"/>
<path d="M295.7,1299.6 L297.7,1298.6 L292.4,1291.7 L290.4,1292.5Z" fill="#cccc00" stroke="#cccc00" stroke-width="0.55"/>
<path d="M283.2,1309.2 L284.6,1307.8 L278.9,1299.9 L277.3,1301.4Z" fill="#dddd00" stroke="#dddd00" stroke-width="0.55"/>
<path d="M297.7,1298.6 L299.7,1297.8 L294.3,1291.2 L292.4,1291.7Z" fill="#c7c700" stroke="#c7c700" stroke-width="0.55"/>
<path d="M282.0,1310.5 L283.2,1309.2 L277.3,1301.4 L275.8,1302.8Z" fill="#dcdc00" stroke="#dcdc00" stroke-width="0.55"/>
<path d="M299.7,1297.8 L301.6,1297.3 L296.1,1291.0 L294.3,1291.2Z" fill="#c2c200" stroke="#c2c200" stroke-width="0.55"/>
<path d="M280.9,1311.7 L282.0,1310.5 L275.8,1302.8 L274.5,1304.2Z" fill="#dada00" stroke="#dada00" stroke-width="0.55"/>
<path d="M301.6,1297.3 L303.4,1296.9 L297.8,1290.9 L296.1,1291.0Z" fill="#bdbd00" stroke="#bdbd00" stroke-width="0.55"/>
<path d="M280.0,1312.8 L280.9,1311.7 L274.5,1304.2 L273.4,1305.5Z" fill="#d8d800" stroke="#d8d800" stroke-width="0.55"/>
<path d="M303.4,1296.9 L305.1,1296.8 L299.3,1291.2 L297.8,1290.9Z" fill="#b7b700" stroke="#b7b700" stroke-width="0.55"/>
<path d="M279.4,1313.7 L280.0,1312.8 L273.4,1305.5 L272.4,1306.6Z" fill="#d5d500" stroke="#d5d500" stroke-width="0.55"/>
<path d="M305.1,1296.8 L306.7,1297.0 L300.7,1291.7 L299.3,1291.2Z" fill="#b3b300" stroke="#b3b300" stroke-width="0.55"/>
<path d="M278.9,1314.4 L279.4,1313.7 L272.4,1306.6 L271.7,1307.5Z" fill="#d1d100" stroke="#d1d100" stroke-width="0.55"/>
<path d="M306.7,1297.0 L308.2,1297.4 L301.9,1292.4 L300.7,1291.7Z" fill="#b3b300" stroke="#b3b300" stroke-width="0.55"/>
<path d="M266.0,1286.3 L267.8,1284.9 L262.6,1277.3 L260.6,1278.6Z" fill="#d9d900" stroke="#d9d900" stroke-width="0.55"/>
<path d="M264.2,1287.7 L266.0,1286.3 L260.6,1278.6 L258.7,1279.9Z" fill="#dbdb00" stroke="#dbdb00" stroke-width="0.55"/>
<path d="M267.8,1284.9 L269.8,1283.6 L264.6,1276.2 L262.6,1277.3Z" fill="#d6d600" stroke="#d6d600" stroke-width="0.55"/>
<path d="M262.5,1289.2 L264.2,1287.7 L258.7,1279.9 L256.8,1281.4Z" fill="#dcdc00" stroke="#dcdc00" stroke-width="0.55"/>
<path d="M269.8,1283.6 L271.8,1282.4 L266.6,1275.2 L264.6,1276.2Z" fill="#d2d200" stroke="#d2d200" stroke-width="0.55"/>
<path d="M260.9,1290.7 L262.5,1289.2 L256.8,1281.4 L255.1,1282.8Z" fill="#dddd00" stroke="#dddd00" stroke-width="0.55"/>
<path d="M271.8,1282.4 L273.8,1281.4 L268.6,1274.4 L266.6,1275.2Z" fill="#cece00" stroke="#cece00" stroke-width="0.55"/>
<path d="M278.7,1314.9 L278.9,1314.4 L271.7,1307.5 L271.2,1308.3Z" fill="#cccc00" stroke="#cccc00" stroke-width="0.55"/>
<path d="M308.2,1297.4 L309.4,1298.1 L303.0,1293.5 L301.9,1292.4Z" fill="#b3b300" stroke="#b3b300" stroke-width="0.55"/>
<path d="M259.6,1292.1 L260.9,1290.7 L255.1,1282.8 L253.5,1284.3Z" fill="#dcdc00" stroke="#dcdc00" stroke-width="0.55"/>
<path d="M273.8,1281.4 L275.8,1280.5 L270.5,1273.8 L268.6,1274.4Z" fill="#c9c900" stroke="#c9c900" stroke-width="0.55"/>
<path d="M275.8,1280.5 L277.8,1279.9 L272.3,1273.5 L270.5,1273.8Z" fill="#c4c400" stroke="#c4c400" stroke-width="0.55"/>
<path d="M258.4,1293.4 L259.6,1292.1 L253.5,1284.3 L252.1,1285.7Z" fill="#dbdb00" stroke="#dbdb00" stroke-width="0.55"/>
<path d="M309.4,1298.1 L310.5,1299.0 L303.8,1294.7 L303.0,1293.5Z" fill="#b5b500" stroke="#b5b500" stroke-width="0.55"/>
<path d="M278.7,1315.1 L278.7,1314.9 L271.2,1308.3 L270.9,1308.9Z" fill="#c7c700" stroke="#c7c700" stroke-width="0.55"/>
<path d="M277.8,1279.9 L279.6,1279.5 L274.1,1273.4 L272.3,1273.5Z" fill="#bebe00" stroke="#bebe00" stroke-width="0.55"/>
<path d="M257.4,1294.5 L258.4,1293.4 L252.1,1285.7 L250.9,1287.1Z" fill="#dada00" stroke="#dada00" stroke-width="0.55"/>
<path d="M310.5,1299.0 L311.4,1300.2 L304.4,1296.2 L303.8,1294.7Z" fill="#c0c000" stroke="#c0c000" stroke-width="0.55"/>
<path d="M278.8,1315.1 L278.7,1315.1 L270.9,1308.9 L270.8,1309.2Z" fill="#c2c200" stroke="#c2c200" stroke-width="0.55"/>
<path d="M279.6,1279.5 L281.4,1279.3 L275.6,1273.6 L274.1,1273.4Z" fill="#b8b800" stroke="#b8b800" stroke-width="0.55"/>
<path d="M256.6,1295.6 L257.4,1294.5 L250.9,1287.1 L249.8,1288.3Z" fill="#d7d700" stroke="#d7d700" stroke-width="0.55"/>
<path d="M311.4,1300.2 L312.1,1301.6 L304.8,1297.9 L304.4,1296.2Z" fill="#caca00" stroke="#caca00" stroke-width="0.55"/>
<path d="M281.4,1279.3 L283.0,1279.4 L277.1,1274.0 L275.6,1273.6Z" fill="#b3b300" stroke="#b3b300" stroke-width="0.55"/>
<path d="M256.0,1296.4 L256.6,1295.6 L249.8,1288.3 L248.9,1289.4Z" fill="#d3d300" stroke="#d3d300" stroke-width="0.55"/>
<path d="M279.2,1314.9 L278.8,1315.1 L270.8,1309.2 L270.9,1309.2Z" fill="#900000" stroke="#900000" stroke-width="0.55"/>
<path d="M312.1,1301.6 L312.5,1303.2 L305.0,1299.7 L304.8,1297.9Z" fill="#d3d300" stroke="#d3d300" stroke-width="0.55"/>
<path d="M283.0,1279.4 L284.5,1279.7 L278.3,1274.7 L277.1,1274.0Z" fill="#b3b300" stroke="#b3b300" stroke-width="0.55"/>
<path d="M242.1,1269.2 L244.0,1267.8 L238.7,1260.1 L236.8,1261.4Z" fill="#d9d900" stroke="#d9d900" stroke-width="0.55"/>
<path d="M244.0,1267.8 L246.0,1266.4 L240.7,1258.9 L238.7,1260.1Z" fill="#d7d700" stroke="#d7d700" stroke-width="0.55"/>
<path d="M240.4,1270.6 L242.1,1269.2 L236.8,1261.4 L234.9,1262.8Z" fill="#dbdb00" stroke="#dbdb00" stroke-width="0.55"/>
<path d="M255.6,1297.0 L256.0,1296.4 L248.9,1289.4 L248.3,1290.3Z" fill="#cfcf00" stroke="#cfcf00" stroke-width="0.55"/>
<path d="M246.0,1266.4 L248.0,1265.2 L242.7,1257.9 L240.7,1258.9Z" fill="#d3d300" stroke="#d3d300" stroke-width="0.55"/>
<path d="M279.7,1314.3 L279.2,1314.9 L270.9,1309.2 L271.2,1309.0Z" fill="#930000" stroke="#930000" stroke-width="0.55"/>
<path d="M238.7,1272.1 L240.4,1270.6 L234.9,1262.8 L233.1,1264.3Z" fill="#dcdc00" stroke="#dcdc00" stroke-width="0.55"/>
<path d="M248.0,1265.2 L250.0,1264.1 L244.7,1257.1 L242.7,1257.9Z" fill="#cfcf00" stroke="#cfcf00" stroke-width="0.55"/>
<path d="M284.5,1279.7 L285.8,1280.3 L279.4,1275.6 L278.3,1274.7Z" fill="#b3b300" stroke="#b3b300" stroke-width="0.55"/>
<path d="M237.2,1273.5 L238.7,1272.1 L233.1,1264.3 L231.4,1265.7Z" fill="#dddd00" stroke="#dddd00" stroke-width="0.55"/>
<path d="M250.0,1264.1 L252.0,1263.2 L246.7,1256.4 L244.7,1257.1Z" fill="#caca00" stroke="#caca00" stroke-width="0.55"/>
<path d="M255.4,1297.5 L255.6,1297.0 L248.3,1290.3 L247.8,1291.0Z" fill="#cbcb00" stroke="#cbcb00" stroke-width="0.55"/>
<path d="M235.9,1274.9 L237.2,1273.5 L231.4,1265.7 L229.8,1267.2Z" fill="#dcdc00" stroke="#dcdc00" stroke-width="0.55"/>
<path d="M280.3,1313.5 L279.7,1314.3 L271.2,1309.0 L271.6,1308.6Z" fill="#990000" stroke="#990000" stroke-width="0.55"/>
<path d="M252.0,1263.2 L253.9,1262.5 L248.5,1256.0 L246.7,1256.4Z" fill="#c5c500" stroke="#c5c500" stroke-width="0.55"/>
<path d="M285.8,1280.3 L287.0,1281.2 L280.3,1276.8 L279.4,1275.6Z" fill="#b2b200" stroke="#b2b200" stroke-width="0.55"/>
<path d="M234.8,1276.2 L235.9,1274.9 L229.8,1267.2 L228.5,1268.6Z" fill="#dbdb00" stroke="#dbdb00" stroke-width="0.55"/>
<path d="M253.9,1262.5 L255.8,1262.0 L250.3,1255.9 L248.5,1256.0Z" fill="#c0c000" stroke="#c0c000" stroke-width="0.55"/>
<path d="M255.4,1297.6 L255.4,1297.5 L247.8,1291.0 L247.6,1291.4Z" fill="#c6c600" stroke="#c6c600" stroke-width="0.55"/>
<path d="M281.1,1312.5 L280.3,1313.5 L271.6,1308.6 L272.2,1307.9Z" fill="#a40000" stroke="#a40000" stroke-width="0.55"/>
<path d="M287.0,1281.2 L287.9,1282.3 L281.0,1278.2 L280.3,1276.8Z" fill="#bdbd00" stroke="#bdbd00" stroke-width="0.55"/>
<path d="M233.8,1277.3 L234.8,1276.2 L228.5,1268.6 L227.3,1269.9Z" fill="#d9d900" stroke="#d9d900" stroke-width="0.55"/>
<path d="M255.8,1262.0 L257.6,1261.8 L251.9,1255.9 L250.3,1255.9Z" fill="#baba00" stroke="#baba00" stroke-width="0.55"/>
<path d="M287.9,1282.3 L288.6,1283.7 L281.4,1279.8 L281.0,1278.2Z" fill="#c7c700" stroke="#c7c700" stroke-width="0.55"/>
<path d="M281.9,1311.2 L281.1,1312.5 L272.2,1307.9 L273.0,1306.9Z" fill="#af0000" stroke="#af0000" stroke-width="0.55"/>
<path d="M255.6,1297.5 L255.4,1297.6 L247.6,1291.4 L247.6,1291.7Z" fill="#c0c000" stroke="#c0c000" stroke-width="0.55"/>
<path d="M233.1,1278.3 L233.8,1277.3 L227.3,1269.9 L226.3,1271.1Z" fill="#d6d600" stroke="#d6d600" stroke-width="0.55"/>
<path d="M257.6,1261.8 L259.3,1261.8 L253.4,1256.3 L251.9,1255.9Z" fill="#b4b400" stroke="#b4b400" stroke-width="0.55"/>
<path d="M288.6,1283.7 L289.1,1285.2 L281.7,1281.6 L281.4,1279.8Z" fill="#d0d000" stroke="#d0d000" stroke-width="0.55"/>
<path d="M282.8,1309.7 L281.9,1311.2 L273.0,1306.9 L273.8,1305.7Z" fill="#b90000" stroke="#b90000" stroke-width="0.55"/>
<path d="M232.6,1279.1 L233.1,1278.3 L226.3,1271.1 L225.5,1272.1Z" fill="#d2d200" stroke="#d2d200" stroke-width="0.55"/>
<path d="M256.0,1297.2 L255.6,1297.5 L247.6,1291.7 L247.7,1291.7Z" fill="#999900" stroke="#999900" stroke-width="0.55"/>
<path d="M259.3,1261.8 L260.8,1262.1 L254.7,1256.9 L253.4,1256.3Z" fill="#b3b300" stroke="#b3b300" stroke-width="0.55"/>
<path d="M289.1,1285.2 L289.5,1287.0 L281.7,1283.6 L281.7,1281.6Z" fill="#d8d800" stroke="#d8d800" stroke-width="0.55"/>
<path d="M283.8,1308.0 L282.8,1309.7 L273.8,1305.7 L274.7,1304.3Z" fill="#c20000" stroke="#c20000" stroke-width="0.55"/>
<path d="M220.2,1250.6 L222.1,1249.3 L216.9,1241.7 L214.9,1243.0Z" fill="#d7d700" stroke="#d7d700" stroke-width="0.55"/>
<path d="M218.4,1252.1 L220.2,1250.6 L214.9,1243.0 L212.9,1244.3Z" fill="#dada00" stroke="#dada00" stroke-width="0.55"/>
<path d="M222.1,1249.3 L224.1,1248.0 L218.9,1240.7 L216.9,1241.7Z" fill="#d4d400" stroke="#d4d400" stroke-width="0.55"/>
<path d="M216.6,1253.5 L218.4,1252.1 L212.9,1244.3 L211.1,1245.7Z" fill="#dcdc00" stroke="#dcdc00" stroke-width="0.55"/>
<path d="M289.5,1287.0 L289.6,1288.9 L281.6,1285.7 L281.7,1283.6Z" fill="#dfdf00" stroke="#dfdf00" stroke-width="0.55"/>
<path d="M260.8,1262.1 L262.2,1262.6 L255.9,1257.8 L254.7,1256.9Z" fill="#b3b300" stroke="#b3b300" stroke-width="0.55"/>
<path d="M224.1,1248.0 L226.1,1246.9 L220.9,1239.8 L218.9,1240.7Z" fill="#d0d000" stroke="#d0d000" stroke-width="0.55"/>
<path d="M232.2,1279.7 L232.6,1279.1 L225.5,1272.1 L224.9,1273.0Z" fill="#cece00" stroke="#cece00" stroke-width="0.55"/>
<path d="M215.0,1255.0 L216.6,1253.5 L211.1,1245.7 L209.3,1247.2Z" fill="#dddd00" stroke="#dddd00" stroke-width="0.55"/>
<path d="M284.8,1306.1 L283.8,1308.0 L274.7,1304.3 L275.7,1302.6Z" fill="#ca0000" stroke="#ca0000" stroke-width="0.55"/>
<path d="M256.6,1296.6 L256.0,1297.2 L247.7,1291.7 L248.0,1291.4Z" fill="#9c9c00" stroke="#9c9c00" stroke-width="0.55"/>
<path d="M226.1,1246.9 L228.1,1245.9 L222.8,1239.1 L220.9,1239.8Z" fill="#cccc00" stroke="#cccc00" stroke-width="0.55"/>
<path d="M289.6,1288.9 L289.5,1290.9 L281.2,1287.8 L281.6,1285.7Z" fill="#e4e400" stroke="#e4e400" stroke-width="0.55"/>
<path d="M213.6,1256.4 L215.0,1255.0 L209.3,1247.2 L207.6,1248.6Z" fill="#dddd00" stroke="#dddd00" stroke-width="0.55"/>
<path d="M285.7,1304.1 L284.8,1306.1 L275.7,1302.6 L276.6,1300.8Z" fill="#d10000" stroke="#d10000" stroke-width="0.55"/>
<path d="M262.2,1262.6 L263.4,1263.4 L256.8,1258.9 L255.9,1257.8Z" fill="#a60000" stroke="#a60000" stroke-width="0.55"/>
<path d="M289.5,1290.9 L289.2,1293.1 L280.7,1290.1 L281.2,1287.8Z" fill="#e8e800" stroke="#e8e800" stroke-width="0.55"/>
<path d="M228.1,1245.9 L230.1,1245.2 L224.7,1238.6 L222.8,1239.1Z" fill="#c7c700" stroke="#c7c700" stroke-width="0.55"/>
<path d="M286.6,1302.0 L285.7,1304.1 L276.6,1300.8 L277.6,1298.8Z" fill="#d70000" stroke="#d70000" stroke-width="0.55"/>
<path d="M212.3,1257.8 L213.6,1256.4 L207.6,1248.6 L206.1,1250.1Z" fill="#dcdc00" stroke="#dcdc00" stroke-width="0.55"/>
<path d="M232.1,1280.0 L232.2,1279.7 L224.9,1273.0 L224.5,1273.6Z" fill="#c9c900" stroke="#c9c900" stroke-width="0.55"/>
<path d="M289.2,1293.1 L288.8,1295.3 L280.1,1292.3 L280.7,1290.1Z" fill="#eaea00" stroke="#eaea00" stroke-width="0.55"/>
<path d="M257.3,1295.7 L256.6,1296.6 L248.0,1291.4 L248.5,1290.9Z" fill="#a4a400" stroke="#a4a400" stroke-width="0.55"/>
<path d="M287.5,1299.8 L286.6,1302.0 L277.6,1298.8 L278.5,1296.7Z" fill="#db0000" stroke="#db0000" stroke-width="0.55"/>
<path d="M288.8,1295.3 L288.2,1297.5 L279.4,1294.6 L280.1,1292.3Z" fill="#ebeb00" stroke="#ebeb00" stroke-width="0.55"/>
<path d="M288.2,1297.5 L287.5,1299.8 L278.5,1296.7 L279.4,1294.6Z" fill="#e9e900" stroke="#e9e900" stroke-width="0.55"/>
<path d="M230.1,1245.2 L232.0,1244.6 L226.5,1238.3 L224.7,1238.6Z" fill="#c2c200" stroke="#c2c200" stroke-width="0.55"/>
<path d="M211.2,1259.0 L212.3,1257.8 L206.1,1250.1 L204.8,1251.5Z" fill="#dada00" stroke="#dada00" stroke-width="0.55"/>
<path d="M263.4,1263.4 L264.4,1264.4 L257.5,1260.2 L256.8,1258.9Z" fill="#b00000" stroke="#b00000" stroke-width="0.55"/>
<path d="M232.2,1280.1 L232.1,1280.0 L224.5,1273.6 L224.3,1274.0Z" fill="#c4c400" stroke="#c4c400" stroke-width="0.55"/>
<path d="M258.0,1294.6 L257.3,1295.7 L248.5,1290.9 L249.2,1290.1Z" fill="#b0b000" stroke="#b0b000" stroke-width="0.55"/>
<path d="M232.0,1244.6 L233.8,1244.3 L228.2,1238.4 L226.5,1238.3Z" fill="#bcbc00" stroke="#bcbc00" stroke-width="0.55"/>
<path d="M210.3,1260.1 L211.2,1259.0 L204.8,1251.5 L203.7,1252.7Z" fill="#d8d800" stroke="#d8d800" stroke-width="0.55"/>
<path d="M264.4,1264.4 L265.2,1265.7 L258.0,1261.8 L257.5,1260.2Z" fill="#ba0000" stroke="#ba0000" stroke-width="0.55"/>
<path d="M233.8,1244.3 L235.5,1244.2 L229.7,1238.6 L228.2,1238.4Z" fill="#b6b600" stroke="#b6b600" stroke-width="0.55"/>
<path d="M258.9,1293.3 L258.0,1294.6 L249.2,1290.1 L249.9,1289.1Z" fill="#bbbb00" stroke="#bbbb00" stroke-width="0.55"/>
<path d="M232.5,1279.9 L232.2,1280.1 L224.3,1274.0 L224.3,1274.2Z" fill="#969600" stroke="#969600" stroke-width="0.55"/>
<path d="M209.7,1261.0 L210.3,1260.1 L203.7,1252.7 L202.7,1253.9Z" fill="#d5d500" stroke="#d5d500" stroke-width="0.55"/>
<path d="M265.2,1265.7 L265.8,1267.2 L258.3,1263.5 L258.0,1261.8Z" fill="#c30000" stroke="#c30000" stroke-width="0.55"/>
<path d="M235.5,1244.2 L237.1,1244.4 L231.1,1239.2 L229.7,1238.6Z" fill="#b3b300" stroke="#b3b300" stroke-width="0.55"/>
<path d="M259.9,1291.7 L258.9,1293.3 L249.9,1289.1 L250.8,1287.8Z" fill="#c5c500" stroke="#c5c500" stroke-width="0.55"/>
<path d="M265.8,1267.2 L266.1,1268.9 L258.5,1265.5 L258.3,1263.5Z" fill="#cb0000" stroke="#cb0000" stroke-width="0.55"/>
<path d="M209.2,1261.8 L209.7,1261.0 L202.7,1253.9 L202.0,1254.8Z" fill="#d1d100" stroke="#d1d100" stroke-width="0.55"/>
<path d="M232.9,1279.5 L232.5,1279.9 L224.3,1274.2 L224.5,1274.1Z" fill="#9a9a00" stroke="#9a9a00" stroke-width="0.55"/>
<path d="M260.8,1289.9 L259.9,1291.7 L250.8,1287.8 L251.7,1286.3Z" fill="#cfcf00" stroke="#cfcf00" stroke-width="0.55"/>
<path d="M237.1,1244.4 L238.5,1244.9 L232.3,1240.0 L231.1,1239.2Z" fill="#b3b300" stroke="#b3b300" stroke-width="0.55"/>
<path d="M266.1,1268.9 L266.3,1270.8 L258.4,1267.5 L258.5,1265.5Z" fill="#d20000" stroke="#d20000" stroke-width="0.55"/>
<path d="M261.8,1288.0 L260.8,1289.9 L251.7,1286.3 L252.7,1284.6Z" fill="#d7d700" stroke="#d7d700" stroke-width="0.55"/>
<path d="M266.3,1270.8 L266.3,1272.8 L258.1,1269.7 L258.4,1267.5Z" fill="#d80000" stroke="#d80000" stroke-width="0.55"/>
<path d="M208.9,1262.3 L209.2,1261.8 L202.0,1254.8 L201.5,1255.6Z" fill="#cdcd00" stroke="#cdcd00" stroke-width="0.55"/>
<path d="M233.5,1278.8 L232.9,1279.5 L224.5,1274.1 L224.9,1273.7Z" fill="#9d9d00" stroke="#9d9d00" stroke-width="0.55"/>
<path d="M238.5,1244.9 L239.8,1245.6 L233.3,1241.0 L232.3,1240.0Z" fill="#a20000" stroke="#a20000" stroke-width="0.55"/>
<path d="M262.7,1286.0 L261.8,1288.0 L252.7,1284.6 L253.6,1282.7Z" fill="#dede00" stroke="#dede00" stroke-width="0.55"/>
<path d="M204.3,1228.7 L206.3,1227.8 L200.9,1221.2 L199.0,1221.7Z" fill="#c8c800" stroke="#c8c800" stroke-width="0.55"/>
<path d="M266.3,1272.8 L266.0,1274.9 L257.6,1271.9 L258.1,1269.7Z" fill="#e7e700" stroke="#e7e700" stroke-width="0.55"/>
<path d="M263.6,1283.8 L262.7,1286.0 L253.6,1282.7 L254.6,1280.7Z" fill="#e4e400" stroke="#e4e400" stroke-width="0.55"/>
<path d="M266.0,1274.9 L265.6,1277.1 L257.0,1274.1 L257.6,1271.9Z" fill="#eaea00" stroke="#eaea00" stroke-width="0.55"/>
<path d="M264.4,1281.6 L263.6,1283.8 L254.6,1280.7 L255.5,1278.6Z" fill="#e8e800" stroke="#e8e800" stroke-width="0.55"/>
<path d="M265.6,1277.1 L265.1,1279.4 L256.3,1276.4 L257.0,1274.1Z" fill="#ebeb00" stroke="#ebeb00" stroke-width="0.55"/>
<path d="M206.3,1227.8 L208.2,1227.2 L202.7,1220.9 L200.9,1221.2Z" fill="#c3c300" stroke="#c3c300" stroke-width="0.55"/>
<path d="M265.1,1279.4 L264.4,1281.6 L255.5,1278.6 L256.3,1276.4Z" fill="#eaea00" stroke="#eaea00" stroke-width="0.55"/>
<path d="M208.9,1262.5 L208.9,1262.3 L201.5,1255.6 L201.1,1256.2Z" fill="#c8c800" stroke="#c8c800" stroke-width="0.55"/>
<path d="M239.8,1245.6 L240.8,1246.6 L234.1,1242.3 L233.3,1241.0Z" fill="#ad0000" stroke="#ad0000" stroke-width="0.55"/>
<path d="M234.2,1277.9 L233.5,1278.8 L224.9,1273.7 L225.5,1273.1Z" fill="#a8a800" stroke="#a8a800" stroke-width="0.55"/>
<path d="M208.2,1227.2 L210.0,1226.8 L204.5,1220.8 L202.7,1220.9Z" fill="#bebe00" stroke="#bebe00" stroke-width="0.55"/>
<path d="M240.8,1246.6 L241.7,1247.8 L234.6,1243.8 L234.1,1242.3Z" fill="#b70000" stroke="#b70000" stroke-width="0.55"/>
<path d="M235.0,1276.7 L234.2,1277.9 L225.5,1273.1 L226.1,1272.3Z" fill="#b3b300" stroke="#b3b300" stroke-width="0.55"/>
<path d="M209.0,1262.5 L208.9,1262.5 L201.1,1256.2 L201.0,1256.6Z" fill="#c3c300" stroke="#c3c300" stroke-width="0.55"/>
<path d="M210.0,1226.8 L211.8,1226.7 L206.0,1221.0 L204.5,1220.8Z" fill="#b8b800" stroke="#b8b800" stroke-width="0.55"/>
<path d="M241.7,1247.8 L242.3,1249.2 L235.0,1245.5 L234.6,1243.8Z" fill="#c10000" stroke="#c10000" stroke-width="0.55"/>
<path d="M235.9,1275.3 L235.0,1276.7 L226.1,1272.3 L226.9,1271.2Z" fill="#bebe00" stroke="#bebe00" stroke-width="0.55"/>
<path d="M211.8,1226.7 L213.4,1226.8 L207.4,1221.4 L206.0,1221.0Z" fill="#b3b300" stroke="#b3b300" stroke-width="0.55"/>
<path d="M209.3,1262.3 L209.0,1262.5 L201.0,1256.6 L201.1,1256.6Z" fill="#979700" stroke="#979700" stroke-width="0.55"/>
<path d="M242.3,1249.2 L242.8,1250.9 L235.2,1247.3 L235.0,1245.5Z" fill="#c90000" stroke="#c90000" stroke-width="0.55"/>
<path d="M236.9,1273.7 L235.9,1275.3 L226.9,1271.2 L227.8,1269.8Z" fill="#c8c800" stroke="#c8c800" stroke-width="0.55"/>
<path d="M213.4,1226.8 L214.9,1227.2 L208.7,1222.2 L207.4,1221.4Z" fill="#b3b300" stroke="#b3b300" stroke-width="0.55"/>
<path d="M242.8,1250.9 L243.0,1252.7 L235.1,1249.4 L235.2,1247.3Z" fill="#d00000" stroke="#d00000" stroke-width="0.55"/>
<path d="M209.8,1261.8 L209.3,1262.3 L201.1,1256.6 L201.4,1256.5Z" fill="#9a9a00" stroke="#9a9a00" stroke-width="0.55"/>
<path d="M237.8,1271.9 L236.9,1273.7 L227.8,1269.8 L228.7,1268.3Z" fill="#d1d100" stroke="#d1d100" stroke-width="0.55"/>
<path d="M243.0,1252.7 L243.0,1254.6 L234.9,1251.5 L235.1,1249.4Z" fill="#d60000" stroke="#d60000" stroke-width="0.55"/>
<path d="M214.9,1227.2 L216.2,1227.8 L209.7,1223.1 L208.7,1222.2Z" fill="#b3b300" stroke="#b3b300" stroke-width="0.55"/>
<path d="M238.8,1269.9 L237.8,1271.9 L228.7,1268.3 L229.7,1266.5Z" fill="#d9d900" stroke="#d9d900" stroke-width="0.55"/>
<path d="M243.0,1254.6 L242.9,1256.7 L234.5,1253.7 L234.9,1251.5Z" fill="#e6e600" stroke="#e6e600" stroke-width="0.55"/>
<path d="M210.4,1261.0 L209.8,1261.8 L201.4,1256.5 L201.8,1256.1Z" fill="#a0a000" stroke="#a0a000" stroke-width="0.55"/>
<path d="M239.7,1267.8 L238.8,1269.9 L229.7,1266.5 L230.7,1264.6Z" fill="#e0e000" stroke="#e0e000" stroke-width="0.55"/>
<path d="M242.9,1256.7 L242.5,1258.9 L234.0,1255.9 L234.5,1253.7Z" fill="#e9e900" stroke="#e9e900" stroke-width="0.55"/>
<path d="M240.6,1265.6 L239.7,1267.8 L230.7,1264.6 L231.6,1262.6Z" fill="#e5e500" stroke="#e5e500" stroke-width="0.55"/>
<path d="M216.2,1227.8 L217.3,1228.7 L210.6,1224.3 L209.7,1223.1Z" fill="#aa0000" stroke="#aa0000" stroke-width="0.55"/>
<path d="M242.5,1258.9 L242.0,1261.2 L233.3,1258.2 L234.0,1255.9Z" fill="#ebeb00" stroke="#ebeb00" stroke-width="0.55"/>
<path d="M241.4,1263.4 L240.6,1265.6 L231.6,1262.6 L232.5,1260.4Z" fill="#e8e800" stroke="#e8e800" stroke-width="0.55"/>
<path d="M242.0,1261.2 L241.4,1263.4 L232.5,1260.4 L233.3,1258.2Z" fill="#eaea00" stroke="#eaea00" stroke-width="0.55"/>
<path d="M211.2,1260.0 L210.4,1261.0 L201.8,1256.1 L202.4,1255.4Z" fill="#abab00" stroke="#abab00" stroke-width="0.55"/>
<path d="M217.3,1228.7 L218.2,1229.9 L211.2,1225.8 L210.6,1224.3Z" fill="#b40000" stroke="#b40000" stroke-width="0.55"/>
<path d="M212.0,1258.8 L211.2,1260.0 L202.4,1255.4 L203.1,1254.4Z" fill="#b7b700" stroke="#b7b700" stroke-width="0.55"/>
<path d="M218.2,1229.9 L218.9,1231.2 L211.7,1227.4 L211.2,1225.8Z" fill="#be0000" stroke="#be0000" stroke-width="0.55"/>
<path d="M212.9,1257.3 L212.0,1258.8 L203.1,1254.4 L203.9,1253.3Z" fill="#c1c100" stroke="#c1c100" stroke-width="0.55"/>
<path d="M218.9,1231.2 L219.4,1232.8 L211.9,1229.2 L211.7,1227.4Z" fill="#c70000" stroke="#c70000" stroke-width="0.55"/>
<path d="M213.9,1255.6 L212.9,1257.3 L203.9,1253.3 L204.8,1251.9Z" fill="#cbcb00" stroke="#cbcb00" stroke-width="0.55"/>
<path d="M219.4,1232.8 L219.7,1234.6 L211.9,1231.2 L211.9,1229.2Z" fill="#ce0000" stroke="#ce0000" stroke-width="0.55"/>
<path d="M219.7,1234.6 L219.8,1236.5 L211.7,1233.3 L211.9,1231.2Z" fill="#d50000" stroke="#d50000" stroke-width="0.55"/>
<path d="M214.9,1253.8 L213.9,1255.6 L204.8,1251.9 L205.8,1250.2Z" fill="#d4d400" stroke="#d4d400" stroke-width="0.55"/>
<path d="M219.8,1236.5 L219.7,1238.6 L211.4,1235.5 L211.7,1233.3Z" fill="#d90000" stroke="#d90000" stroke-width="0.55"/>
<path d="M215.8,1251.8 L214.9,1253.8 L205.8,1250.2 L206.7,1248.4Z" fill="#dbdb00" stroke="#dbdb00" stroke-width="0.55"/>
<path d="M219.7,1238.6 L219.4,1240.7 L210.9,1237.7 L211.4,1235.5Z" fill="#dd0000" stroke="#dd0000" stroke-width="0.55"/>
<path d="M216.7,1249.7 L215.8,1251.8 L206.7,1248.4 L207.7,1246.5Z" fill="#e1e100" stroke="#e1e100" stroke-width="0.55"/>
<path d="M219.4,1240.7 L218.9,1243.0 L210.2,1240.0 L210.9,1237.7Z" fill="#df0000" stroke="#df0000" stroke-width="0.55"/>
<path d="M217.6,1247.5 L216.7,1249.7 L207.7,1246.5 L208.6,1244.4Z" fill="#e6e600" stroke="#e6e600" stroke-width="0.55"/>
<path d="M218.9,1243.0 L218.3,1245.2 L209.5,1242.2 L210.2,1240.0Z" fill="#df0000" stroke="#df0000" stroke-width="0.55"/>
<path d="M218.3,1245.2 L217.6,1247.5 L208.6,1244.4 L209.5,1242.2Z" fill="#de0000" stroke="#de0000" stroke-width="0.55"/>
<g transform="translate(340.0,1200.0) scale(0.29630)">
<path d="M30.0,300.0 C30.8,287.2 31.7,279.2 40.0,270.0 C48.3,260.8 68.3,263.3 80.0,245.0 C91.7,226.7 98.3,176.7 110.0,160.0 C121.7,143.3 138.3,146.7 150.0,145.0 C161.7,143.3 176.7,140.8 180.0,150.0 C183.3,159.2 173.3,183.3 170.0,200.0 C166.7,216.7 156.7,228.3 160.0,250.0 C163.3,271.7 178.3,308.3 190.0,330.0 C201.7,351.7 215.0,366.7 230.0,380.0 C245.0,393.3 270.0,400.0 280.0,410.0 C290.0,420.0 295.0,433.0 290.0,440.0 C285.0,447.0 265.0,451.7 250.0,452.0 C235.0,452.3 216.7,447.0 200.0,442.0 C183.3,437.0 166.7,427.8 150.0,422.0 C133.3,416.2 115.0,413.7 100.0,407.0 C85.0,400.3 70.8,392.0 60.0,382.0 C49.2,372.0 40.0,360.7 35.0,347.0 C30.0,333.3 29.2,312.8 30.0,300.0Z" fill="#f4f0a8"/>
<path d="M85.0,250.0 C88.3,244.7 100.8,236.7 110.0,240.0 C119.2,243.3 130.0,260.0 140.0,270.0 C150.0,280.0 160.0,291.7 170.0,300.0 C180.0,308.3 196.7,313.0 200.0,320.0 C203.3,327.0 198.3,341.7 190.0,342.0 C181.7,342.3 163.3,330.3 150.0,322.0 C136.7,313.7 120.0,300.3 110.0,292.0 C100.0,283.7 94.2,279.0 90.0,272.0 C85.8,265.0 81.7,255.3 85.0,250.0Z" fill="#f0a0a0" opacity="0.9"/>
<path d="M480.0,195.0 C483.3,186.3 509.0,187.5 520.0,190.0 C531.0,192.5 541.7,200.8 546.0,210.0 C550.3,219.2 550.3,238.0 546.0,245.0 C541.7,252.0 527.7,252.5 520.0,252.0 C512.3,251.5 506.7,251.5 500.0,242.0 C493.3,232.5 476.7,203.7 480.0,195.0Z" fill="#f4f0a8"/>
</g><g transform="translate(340.0,1200.0) scale(0.29630)">
<path d="M100.0,200.0 C105.8,193.3 119.2,184.2 130.0,180.0 C140.8,175.8 157.5,183.3 165.0,175.0 C172.5,166.7 171.7,143.3 175.0,130.0 C178.3,116.7 179.2,104.2 185.0,95.0 C190.8,85.8 197.5,79.2 210.0,75.0 C222.5,70.8 246.7,72.5 260.0,70.0 C273.3,67.5 275.0,64.2 290.0,60.0 C305.0,55.8 331.7,48.3 350.0,45.0 C368.3,41.7 385.0,38.3 400.0,40.0 C415.0,41.7 428.3,48.3 440.0,55.0 C451.7,61.7 460.0,75.0 470.0,80.0 C480.0,85.0 490.0,81.7 500.0,85.0 C510.0,88.3 523.3,92.5 530.0,100.0 C536.7,107.5 541.7,120.0 540.0,130.0 C538.3,140.0 526.7,148.3 520.0,160.0 C513.3,171.7 501.7,188.3 500.0,200.0 C498.3,211.7 505.0,221.7 510.0,230.0 C515.0,238.3 518.3,248.3 530.0,250.0 C541.7,251.7 565.0,239.2 580.0,240.0 C595.0,240.8 610.8,246.7 620.0,255.0 C629.2,263.3 634.2,279.2 635.0,290.0 C635.8,300.8 630.8,311.7 625.0,320.0 C619.2,328.3 610.8,333.3 600.0,340.0 C589.2,346.7 571.7,353.3 560.0,360.0 C548.3,366.7 538.3,371.7 530.0,380.0 C521.7,388.3 518.3,401.7 510.0,410.0 C501.7,418.3 491.7,425.0 480.0,430.0 C468.3,435.0 453.3,440.8 440.0,440.0 C426.7,439.2 413.3,428.3 400.0,425.0 C386.7,421.7 375.0,422.5 360.0,420.0 C345.0,417.5 325.0,415.0 310.0,410.0 C295.0,405.0 281.7,396.7 270.0,390.0 C258.3,383.3 250.0,376.7 240.0,370.0 C230.0,363.3 218.3,356.7 210.0,350.0 C201.7,343.3 196.7,338.3 190.0,330.0 C183.3,321.7 175.0,310.0 170.0,300.0 C165.0,290.0 166.7,276.7 160.0,270.0 C153.3,263.3 139.2,264.2 130.0,260.0 C120.8,255.8 110.8,251.7 105.0,245.0 C99.2,238.3 95.8,227.5 95.0,220.0 C94.2,212.5 94.2,206.7 100.0,200.0Z" fill="#f2f200" filter="url(#sh3_375)"/>
<path d="M240.0,83.0 C247.5,69.0 257.5,76.0 264.0,71.0 C270.5,66.0 270.5,57.0 279.0,53.0 C287.5,49.0 303.0,46.0 315.0,47.0 C327.0,48.0 344.0,53.0 351.0,59.0 C358.0,65.0 357.0,72.0 357.0,83.0 C357.0,94.0 351.0,112.5 351.0,125.0 C351.0,137.5 359.0,150.0 357.0,158.0 C355.0,166.0 343.0,171.5 339.0,173.0 C335.0,174.5 337.0,160.0 333.0,167.0 C329.0,174.0 323.0,207.0 315.0,215.0 C307.0,223.0 295.0,216.0 285.0,215.0 C275.0,214.0 267.0,213.0 255.0,209.0 C243.0,205.0 219.0,200.0 213.0,191.0 C207.0,182.0 214.5,173.0 219.0,155.0 C223.5,137.0 232.5,97.0 240.0,83.0Z" fill="#e60000" filter="url(#sh3_375)"/>
<path d="M351.0,125.0 C351.0,112.5 355.0,95.0 357.0,83.0 C359.0,71.0 358.0,59.5 363.0,53.0 C368.0,46.5 377.0,44.5 387.0,44.0 C397.0,43.5 413.0,45.5 423.0,50.0 C433.0,54.5 440.0,63.5 447.0,71.0 C454.0,78.5 461.0,87.0 465.0,95.0 C469.0,103.0 472.0,112.0 471.0,119.0 C470.0,126.0 465.0,133.0 459.0,137.0 C453.0,141.0 443.0,141.0 435.0,143.0 C427.0,145.0 418.0,146.0 411.0,149.0 C404.0,152.0 399.0,158.5 393.0,161.0 C387.0,163.5 381.0,164.5 375.0,164.0 C369.0,163.5 361.0,164.5 357.0,158.0 C353.0,151.5 351.0,137.5 351.0,125.0Z" fill="#e60000" filter="url(#sh3_375)"/>
<path d="M459.0,83.0 C464.0,81.0 484.0,81.5 495.0,83.0 C506.0,84.5 518.5,86.0 525.0,92.0 C531.5,98.0 535.0,108.5 534.0,119.0 C533.0,129.5 524.5,144.0 519.0,155.0 C513.5,166.0 506.0,176.0 501.0,185.0 C496.0,194.0 493.0,207.0 489.0,209.0 C485.0,211.0 480.0,204.0 477.0,197.0 C474.0,190.0 473.0,177.0 471.0,167.0 C469.0,157.0 465.0,145.0 465.0,137.0 C465.0,129.0 471.0,126.0 471.0,119.0 C471.0,112.0 467.0,101.0 465.0,95.0 C463.0,89.0 454.0,85.0 459.0,83.0Z" fill="#0000e6" filter="url(#sh3_375)"/>
<path d="M195.0,239.0 C200.0,228.3 210.0,222.0 225.0,218.0 C240.0,214.0 270.0,215.5 285.0,215.0 C300.0,214.5 307.0,223.0 315.0,215.0 C323.0,207.0 327.0,176.0 333.0,167.0 C339.0,158.0 344.0,160.0 351.0,161.0 C358.0,162.0 368.0,167.0 375.0,173.0 C382.0,179.0 386.0,189.0 393.0,197.0 C400.0,205.0 408.0,212.0 417.0,221.0 C426.0,230.0 437.0,243.0 447.0,251.0 C457.0,259.0 466.3,261.2 477.0,269.0 C487.7,276.8 505.3,287.8 511.0,298.0 C516.7,308.2 515.0,319.3 511.0,330.0 C507.0,340.7 496.3,353.3 487.0,362.0 C477.7,370.7 467.0,378.7 455.0,382.0 C443.0,385.3 428.3,385.3 415.0,382.0 C401.7,378.7 388.3,364.0 375.0,362.0 C361.7,360.0 351.0,370.0 335.0,370.0 C319.0,370.0 292.3,367.3 279.0,362.0 C265.7,356.7 265.7,347.3 255.0,338.0 C244.3,328.7 225.0,315.3 215.0,306.0 C205.0,296.7 198.3,293.2 195.0,282.0 C191.7,270.8 190.0,249.7 195.0,239.0Z" fill="#0000e6" filter="url(#sh3_375)"/>
<path d="M479.0,266.0 C479.0,259.3 499.0,262.0 511.0,258.0 C523.0,254.0 536.3,243.3 551.0,242.0 C565.7,240.7 585.0,243.3 599.0,250.0 C613.0,256.7 630.3,271.3 635.0,282.0 C639.7,292.7 634.3,304.7 627.0,314.0 C619.7,323.3 602.3,330.0 591.0,338.0 C579.7,346.0 568.3,354.0 559.0,362.0 C549.7,370.0 543.0,379.3 535.0,386.0 C527.0,392.7 519.0,400.7 511.0,402.0 C503.0,403.3 489.7,399.3 487.0,394.0 C484.3,388.7 491.0,379.3 495.0,370.0 C499.0,360.7 508.3,350.0 511.0,338.0 C513.7,326.0 516.3,310.0 511.0,298.0 C505.7,286.0 479.0,272.7 479.0,266.0Z" fill="#e60000" filter="url(#sh3_375)"/>
<path d="M399.0,410.0 C401.7,404.7 413.7,401.3 423.0,402.0 C432.3,402.7 450.3,408.7 455.0,414.0 C459.7,419.3 455.0,429.3 451.0,434.0 C447.0,438.7 438.3,442.0 431.0,442.0 C423.7,442.0 412.3,439.3 407.0,434.0 C401.7,428.7 396.3,415.3 399.0,410.0Z" fill="#e60000" filter="url(#sh3_375)"/>
</g>
<g transform="translate(530.0,1220.0) scale(0.20743)">
<path d="M250.0,205.0 C243.3,202.5 223.3,193.7 210.0,190.0 C196.7,186.3 184.2,181.7 170.0,183.0 C155.8,184.3 136.7,189.3 125.0,198.0 C113.3,206.7 108.3,220.5 100.0,235.0 C91.7,249.5 83.3,269.2 75.0,285.0 C66.7,300.8 52.8,313.8 50.0,330.0 C47.2,346.2 51.0,366.7 58.0,382.0 C65.0,397.3 78.0,410.3 92.0,422.0 C106.0,433.7 124.0,447.0 142.0,452.0 C160.0,457.0 183.7,457.0 200.0,452.0 C216.3,447.0 231.3,434.0 240.0,422.0 C248.7,410.0 251.0,393.7 252.0,380.0 C253.0,366.3 243.3,351.3 246.0,340.0 C248.7,328.7 259.0,318.7 268.0,312.0 C277.0,305.3 294.7,302.0 300.0,300.0" fill="none" stroke="#eeeb9a" stroke-width="11.0" stroke-linecap="round" stroke-linejoin="round"/>
<path d="M100.0,235.0 C96.7,241.7 86.3,264.2 80.0,275.0 C73.7,285.8 65.0,295.8 62.0,300.0" fill="none" stroke="#f09090" stroke-width="11.0" stroke-linecap="round" stroke-linejoin="round"/>
<path d="M330.0,205.0 C335.0,208.3 348.3,221.2 360.0,225.0 C371.7,228.8 385.0,229.7 400.0,228.0 C415.0,226.3 433.3,217.2 450.0,215.0 C466.7,212.8 485.0,211.7 500.0,215.0 C515.0,218.3 528.7,227.2 540.0,235.0 C551.3,242.8 563.3,257.5 568.0,262.0" fill="none" stroke="#eeeb9a" stroke-width="11.0" stroke-linecap="round" stroke-linejoin="round"/>
<path d="M465.0,300.0 C469.2,302.0 480.8,313.7 490.0,312.0 C499.2,310.3 508.3,293.3 520.0,290.0 C531.7,286.7 549.2,287.3 560.0,292.0 C570.8,296.7 580.8,313.7 585.0,318.0" fill="none" stroke="#e0d020" stroke-width="9.0" stroke-linecap="round" stroke-linejoin="round"/>
<path d="M478.0,308.0 C480.8,308.7 492.2,311.3 495.0,312.0" fill="none" stroke="#c01010" stroke-width="9.0" stroke-linecap="round" stroke-linejoin="round"/>
<path d="M505.0,295.0 C509.2,293.8 521.7,288.5 530.0,288.0 C538.3,287.5 550.8,291.3 555.0,292.0" fill="none" stroke="#2020c0" stroke-width="9.0" stroke-linecap="round" stroke-linejoin="round"/>
<path d="M585.0,318.0 C590.0,320.3 606.2,326.7 615.0,332.0 C623.8,337.3 633.8,342.8 638.0,350.0 C642.2,357.2 643.3,366.7 640.0,375.0 C636.7,383.3 628.8,393.8 618.0,400.0 C607.2,406.2 591.3,408.3 575.0,412.0 C558.7,415.7 539.2,419.0 520.0,422.0 C500.8,425.0 480.0,428.7 460.0,430.0 C440.0,431.3 410.0,430.0 400.0,430.0" fill="none" stroke="#e8e060" stroke-width="10.0" stroke-linecap="round" stroke-linejoin="round"/>
<path d="M628.0,342.0 C630.0,345.3 638.7,354.8 640.0,362.0 C641.3,369.2 639.3,379.0 636.0,385.0 C632.7,391.0 622.7,395.8 620.0,398.0" fill="none" stroke="#d02020" stroke-width="10.0" stroke-linecap="round" stroke-linejoin="round"/>
<path d="M578.0,312.0 C581.7,310.0 595.0,313.7 600.0,318.0 C605.0,322.3 609.7,333.5 608.0,338.0 C606.3,342.5 595.0,346.3 590.0,345.0 C585.0,343.7 580.0,335.5 578.0,330.0 C576.0,324.5 574.3,314.0 578.0,312.0Z" fill="#f2f200"/>
</g><g transform="translate(530.0,1220.0) scale(0.20743)">
<path d="M245.0,175.0 C246.0,159.3 250.5,142.2 258.0,128.0 C265.5,113.8 278.0,100.0 290.0,90.0 C302.0,80.0 316.7,72.3 330.0,68.0 C343.3,63.7 359.2,60.3 370.0,64.0 C380.8,67.7 389.7,79.3 395.0,90.0 C400.3,100.7 402.5,118.7 402.0,128.0 C401.5,137.3 398.7,142.3 392.0,146.0 C385.3,149.7 372.0,148.0 362.0,150.0 C352.0,152.0 341.5,153.7 332.0,158.0 C322.5,162.3 313.0,168.3 305.0,176.0 C297.0,183.7 290.2,195.3 284.0,204.0 C277.8,212.7 273.3,225.0 268.0,228.0 C262.7,231.0 255.8,230.8 252.0,222.0 C248.2,213.2 244.0,190.7 245.0,175.0Z" fill="#e60000" filter="url(#sh4_821)"/>
<path d="M255.0,215.0 C259.2,204.2 279.2,195.0 290.0,195.0 C300.8,195.0 310.0,209.2 320.0,215.0 C330.0,220.8 340.0,226.7 350.0,230.0 C360.0,233.3 378.3,231.7 380.0,235.0 C381.7,238.3 368.3,241.7 360.0,250.0 C351.7,258.3 340.0,276.7 330.0,285.0 C320.0,293.3 308.3,299.2 300.0,300.0 C291.7,300.8 285.8,296.7 280.0,290.0 C274.2,283.3 269.2,272.5 265.0,260.0 C260.8,247.5 250.8,225.8 255.0,215.0Z" fill="#f2f200" filter="url(#sh4_821)"/>
<path d="M330.0,280.0 C336.7,265.8 348.3,255.0 360.0,245.0 C371.7,235.0 388.3,225.0 400.0,220.0 C411.7,215.0 420.8,213.3 430.0,215.0 C439.2,216.7 448.3,222.5 455.0,230.0 C461.7,237.5 467.5,250.0 470.0,260.0 C472.5,270.0 473.3,281.7 470.0,290.0 C466.7,298.3 458.3,303.3 450.0,310.0 C441.7,316.7 429.2,323.3 420.0,330.0 C410.8,336.7 402.5,340.0 395.0,350.0 C387.5,360.0 377.5,378.3 375.0,390.0 C372.5,401.7 381.7,413.3 380.0,420.0 C378.3,426.7 370.8,430.0 365.0,430.0 C359.2,430.0 350.8,428.3 345.0,420.0 C339.2,411.7 334.2,395.0 330.0,380.0 C325.8,365.0 320.0,346.7 320.0,330.0 C320.0,313.3 323.3,294.2 330.0,280.0Z" fill="#0000e6" filter="url(#sh4_821)"/>
<path d="M365.0,395.0 C368.3,388.3 380.0,385.8 385.0,390.0 C390.0,394.2 394.2,410.0 395.0,420.0 C395.8,430.0 393.3,444.2 390.0,450.0 C386.7,455.8 379.2,458.3 375.0,455.0 C370.8,451.7 366.7,440.0 365.0,430.0 C363.3,420.0 361.7,401.7 365.0,395.0Z" fill="#f2f200" filter="url(#sh4_821)"/>
<path d="M268.0,98.0 C270.5,96.3 282.7,97.7 285.0,100.0 C287.3,102.3 284.5,110.3 282.0,112.0 C279.5,113.7 272.3,112.3 270.0,110.0 C267.7,107.7 265.5,99.7 268.0,98.0Z" fill="#f2f200" filter="url(#sh4_821)"/>
</g>
<defs><filter id="sh1_000" x="-10%" y="-10%" width="120%" height="120%" color-interpolation-filters="sRGB"><feGaussianBlur in="SourceAlpha" stdDeviation="2.40" result="b"/><feDiffuseLighting in="b" surfaceScale="4.00" diffuseConstant="1.0" lighting-color="#ffffff" result="l0"><feDistantLight azimuth="235" elevation="50"/></feDiffuseLighting><feComponentTransfer in="l0" result="l"><feFuncR type="linear" slope="0.62" intercept="0.42"/><feFuncG type="linear" slope="0.62" intercept="0.42"/><feFuncB type="linear" slope="0.62" intercept="0.42"/></feComponentTransfer><feSpecularLighting in="b" surfaceScale="4.00" specularConstant="0.55" specularExponent="14" lighting-color="#ffffff" result="sp0"><feDistantLight azimuth="235" elevation="45"/></feSpecularLighting><feComposite in="sp0" in2="SourceAlpha" operator="in" result="sp"/><feComposite in="SourceGraphic" in2="l" operator="arithmetic" k1="1" k2="0" k3="0" k4="0" result="m"/><feComposite in="m" in2="sp" operator="arithmetic" k1="0" k2="1" k3="0.45" k4="0" result="m2"/><feComposite in="m2" in2="SourceAlpha" operator="in"/></filter><filter id="sh3_750" x="-10%" y="-10%" width="120%" height="120%" color-interpolation-filters="sRGB"><feGaussianBlur in="SourceAlpha" stdDeviation="9.00" result="b"/><feDiffuseLighting in="b" surfaceScale="15.00" diffuseConstant="1.0" lighting-color="#ffffff" result="l0"><feDistantLight azimuth="235" elevation="50"/></feDiffuseLighting><feComponentTransfer in="l0" result="l"><feFuncR type="linear" slope="0.62" intercept="0.42"/><feFuncG type="linear" slope="0.62" intercept="0.42"/><feFuncB type="linear" slope="0.62" intercept="0.42"/></feComponentTransfer><feSpecularLighting in="b" surfaceScale="15.00" specularConstant="0.55" specularExponent="14" lighting-color="#ffffff" result="sp0"><feDistantLight azimuth="235" elevation="45"/></feSpecularLighting><feComposite in="sp0" in2="SourceAlpha" operator="in" result="sp"/><feComposite in="SourceGraphic" in2="l" operator="arithmetic" k1="1" k2="0" k3="0" k4="0" result="m"/><feComposite in="m" in2="sp" operator="arithmetic" k1="0" k2="1" k3="0.45" k4="0" result="m2"/><feComposite in="m2" in2="SourceAlpha" operator="in"/></filter><filter id="sh3_553" x="-10%" y="-10%" width="120%" height="120%" color-interpolation-filters="sRGB"><feGaussianBlur in="SourceAlpha" stdDeviation="8.53" result="b"/><feDiffuseLighting in="b" surfaceScale="14.21" diffuseConstant="1.0" lighting-color="#ffffff" result="l0"><feDistantLight azimuth="235" elevation="50"/></feDiffuseLighting><feComponentTransfer in="l0" result="l"><feFuncR type="linear" slope="0.62" intercept="0.42"/><feFuncG type="linear" slope="0.62" intercept="0.42"/><feFuncB type="linear" slope="0.62" intercept="0.42"/></feComponentTransfer><feSpecularLighting in="b" surfaceScale="14.21" specularConstant="0.55" specularExponent="14" lighting-color="#ffffff" result="sp0"><feDistantLight azimuth="235" elevation="45"/></feSpecularLighting><feComposite in="sp0" in2="SourceAlpha" operator="in" result="sp"/><feComposite in="SourceGraphic" in2="l" operator="arithmetic" k1="1" k2="0" k3="0" k4="0" result="m"/><feComposite in="m" in2="sp" operator="arithmetic" k1="0" k2="1" k3="0.45" k4="0" result="m2"/><feComposite in="m2" in2="SourceAlpha" operator="in"/></filter><filter id="sh3_375" x="-10%" y="-10%" width="120%" height="120%" color-interpolation-filters="sRGB"><feGaussianBlur in="SourceAlpha" stdDeviation="8.10" result="b"/><feDiffuseLighting in="b" surfaceScale="13.50" diffuseConstant="1.0" lighting-color="#ffffff" result="l0"><feDistantLight azimuth="235" elevation="50"/></feDiffuseLighting><feComponentTransfer in="l0" result="l"><feFuncR type="linear" slope="0.62" intercept="0.42"/><feFuncG type="linear" slope="0.62" intercept="0.42"/><feFuncB type="linear" slope="0.62" intercept="0.42"/></feComponentTransfer><feSpecularLighting in="b" surfaceScale="13.50" specularConstant="0.55" specularExponent="14" lighting-color="#ffffff" result="sp0"><feDistantLight azimuth="235" elevation="45"/></feSpecularLighting><feComposite in="sp0" in2="SourceAlpha" operator="in" result="sp"/><feComposite in="SourceGraphic" in2="l" operator="arithmetic" k1="1" k2="0" k3="0" k4="0" result="m"/><feComposite in="m" in2="sp" operator="arithmetic" k1="0" k2="1" k3="0.45" k4="0" result="m2"/><feComposite in="m2" in2="SourceAlpha" operator="in"/></filter><filter id="sh4_821" x="-10%" y="-10%" width="120%" height="120%" color-interpolation-filters="sRGB"><feGaussianBlur in="SourceAlpha" stdDeviation="11.57" result="b"/><feDiffuseLighting in="b" surfaceScale="19.28" diffuseConstant="1.0" lighting-color="#ffffff" result="l0"><feDistantLight azimuth="235" elevation="50"/></feDiffuseLighting><feComponentTransfer in="l0" result="l"><feFuncR type="linear" slope="0.62" intercept="0.42"/><feFuncG type="linear" slope="0.62" intercept="0.42"/><feFuncB type="linear" slope="0.62" intercept="0.42"/></feComponentTransfer><feSpecularLighting in="b" surfaceScale="19.28" specularConstant="0.55" specularExponent="14" lighting-color="#ffffff" result="sp0"><feDistantLight azimuth="235" elevation="45"/></feSpecularLighting><feComposite in="sp0" in2="SourceAlpha" operator="in" result="sp"/><feComposite in="SourceGraphic" in2="l" operator="arithmetic" k1="1" k2="0" k3="0" k4="0" result="m"/><feComposite in="m" in2="sp" operator="arithmetic" k1="0" k2="1" k3="0.45" k4="0" result="m2"/><feComposite in="m2" in2="SourceAlpha" operator="in"/></filter><radialGradient id="kg" cx="0.42" cy="0.4" r="0.6"><stop offset="0" stop-color="#ffff70" stop-opacity="0.75"/><stop offset="0.55" stop-color="#f2f200" stop-opacity="0.25"/><stop offset="1" stop-color="#a8a800" stop-opacity="0.0"/></radialGradient></defs>
</svg></body></html>
